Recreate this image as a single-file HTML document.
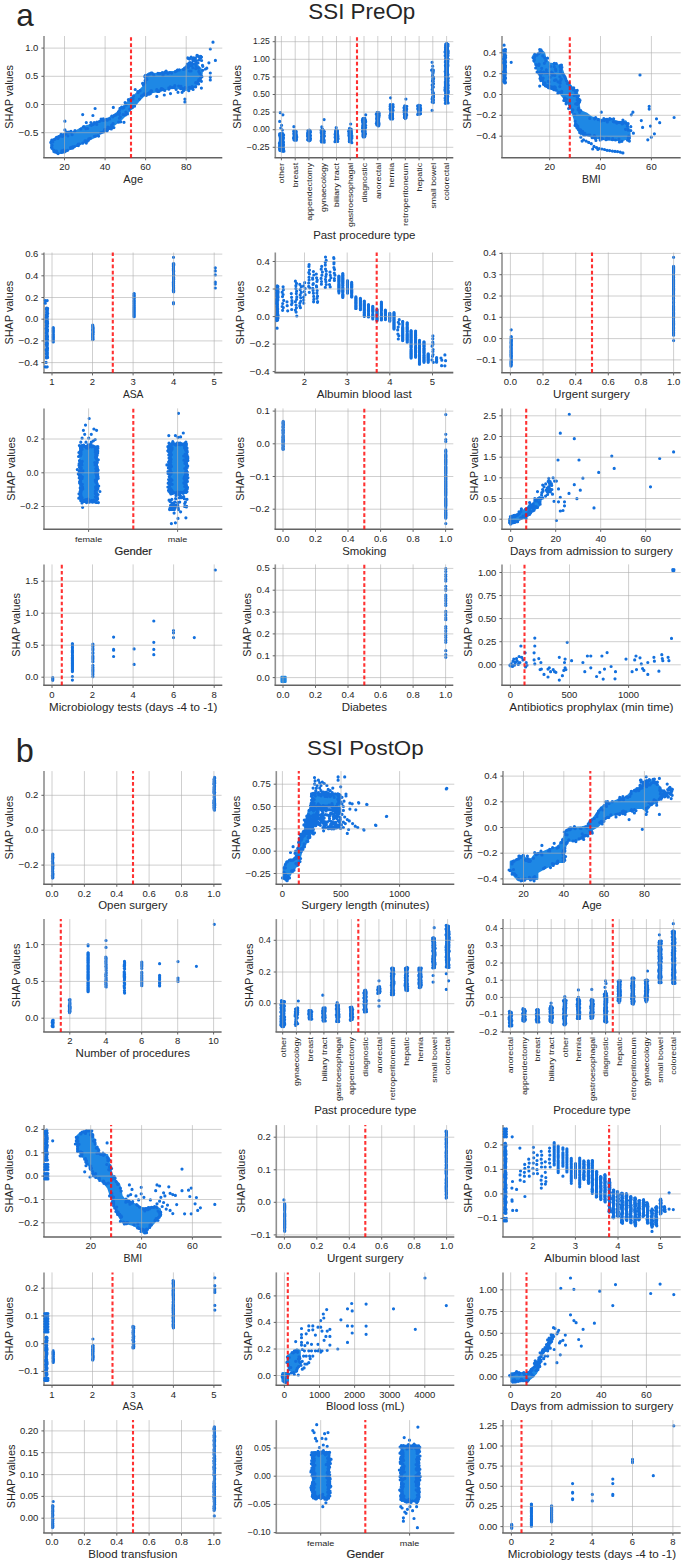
<!DOCTYPE html>
<html><head><meta charset="utf-8"><style>
html,body{margin:0;padding:0;background:#fff;}
body{width:685px;height:1565px;overflow:hidden;font-family:"Liberation Sans", sans-serif;}
svg{display:block;}
</style></head><body>
<svg width="685" height="1565" viewBox="0 0 685 1565" font-family='"Liberation Sans", sans-serif'><path d="M44.0 36.0V157.7" stroke="#8f8f8f" stroke-width="1.6" fill="none"/>
<path d="M43.2 157.7H222.3" stroke="#636363" stroke-width="1.5" fill="none"/>
<path d="M275.3 36.0V157.7" stroke="#8f8f8f" stroke-width="1.6" fill="none"/>
<path d="M274.5 157.7H453.3" stroke="#636363" stroke-width="1.5" fill="none"/>
<path d="M502.0 36.0V157.7" stroke="#8f8f8f" stroke-width="1.6" fill="none"/>
<path d="M501.2 157.7H680.7" stroke="#636363" stroke-width="1.5" fill="none"/>
<path d="M44.0 252.5V372.8" stroke="#8f8f8f" stroke-width="1.6" fill="none"/>
<path d="M43.2 372.8H222.3" stroke="#636363" stroke-width="1.5" fill="none"/>
<path d="M275.3 252.5V372.8" stroke="#8f8f8f" stroke-width="1.6" fill="none"/>
<path d="M274.5 372.8H453.3" stroke="#636363" stroke-width="1.5" fill="none"/>
<path d="M502.0 252.5V372.8" stroke="#8f8f8f" stroke-width="1.6" fill="none"/>
<path d="M501.2 372.8H680.7" stroke="#636363" stroke-width="1.5" fill="none"/>
<path d="M44.0 408.4V529.3" stroke="#8f8f8f" stroke-width="1.6" fill="none"/>
<path d="M43.2 529.3H222.3" stroke="#636363" stroke-width="1.5" fill="none"/>
<path d="M275.3 408.4V529.3" stroke="#8f8f8f" stroke-width="1.6" fill="none"/>
<path d="M274.5 529.3H453.3" stroke="#636363" stroke-width="1.5" fill="none"/>
<path d="M502.0 408.4V529.3" stroke="#8f8f8f" stroke-width="1.6" fill="none"/>
<path d="M501.2 529.3H680.7" stroke="#636363" stroke-width="1.5" fill="none"/>
<path d="M44.0 564.4V685.3" stroke="#8f8f8f" stroke-width="1.6" fill="none"/>
<path d="M43.2 685.3H222.3" stroke="#636363" stroke-width="1.5" fill="none"/>
<path d="M275.3 564.4V685.3" stroke="#8f8f8f" stroke-width="1.6" fill="none"/>
<path d="M274.5 685.3H453.3" stroke="#636363" stroke-width="1.5" fill="none"/>
<path d="M502.0 564.4V685.3" stroke="#8f8f8f" stroke-width="1.6" fill="none"/>
<path d="M501.2 685.3H680.7" stroke="#636363" stroke-width="1.5" fill="none"/>
<path d="M44.0 771.1V884.2" stroke="#8f8f8f" stroke-width="1.6" fill="none"/>
<path d="M43.2 884.2H221.6" stroke="#636363" stroke-width="1.5" fill="none"/>
<path d="M276.3 771.1V884.2" stroke="#8f8f8f" stroke-width="1.6" fill="none"/>
<path d="M275.5 884.2H454.3" stroke="#636363" stroke-width="1.5" fill="none"/>
<path d="M503.0 771.1V884.2" stroke="#8f8f8f" stroke-width="1.6" fill="none"/>
<path d="M502.2 884.2H680.7" stroke="#636363" stroke-width="1.5" fill="none"/>
<path d="M44.0 919.1V1031.9" stroke="#8f8f8f" stroke-width="1.6" fill="none"/>
<path d="M43.2 1031.9H221.6" stroke="#636363" stroke-width="1.5" fill="none"/>
<path d="M276.3 919.1V1031.9" stroke="#8f8f8f" stroke-width="1.6" fill="none"/>
<path d="M275.5 1031.9H454.3" stroke="#636363" stroke-width="1.5" fill="none"/>
<path d="M503.0 919.1V1031.9" stroke="#8f8f8f" stroke-width="1.6" fill="none"/>
<path d="M502.2 1031.9H680.7" stroke="#636363" stroke-width="1.5" fill="none"/>
<path d="M44.0 1125.1V1237.0" stroke="#8f8f8f" stroke-width="1.6" fill="none"/>
<path d="M43.2 1237.0H221.6" stroke="#636363" stroke-width="1.5" fill="none"/>
<path d="M276.3 1125.1V1237.0" stroke="#8f8f8f" stroke-width="1.6" fill="none"/>
<path d="M275.5 1237.0H454.3" stroke="#636363" stroke-width="1.5" fill="none"/>
<path d="M503.0 1125.1V1237.0" stroke="#8f8f8f" stroke-width="1.6" fill="none"/>
<path d="M502.2 1237.0H680.7" stroke="#636363" stroke-width="1.5" fill="none"/>
<path d="M44.0 1272.4V1385.2" stroke="#8f8f8f" stroke-width="1.6" fill="none"/>
<path d="M43.2 1385.2H221.6" stroke="#636363" stroke-width="1.5" fill="none"/>
<path d="M276.3 1272.4V1385.2" stroke="#8f8f8f" stroke-width="1.6" fill="none"/>
<path d="M275.5 1385.2H454.3" stroke="#636363" stroke-width="1.5" fill="none"/>
<path d="M503.0 1272.4V1385.2" stroke="#8f8f8f" stroke-width="1.6" fill="none"/>
<path d="M502.2 1385.2H680.7" stroke="#636363" stroke-width="1.5" fill="none"/>
<path d="M44.0 1420.1V1533.0" stroke="#8f8f8f" stroke-width="1.6" fill="none"/>
<path d="M43.2 1533.0H221.6" stroke="#636363" stroke-width="1.5" fill="none"/>
<path d="M276.3 1420.1V1533.0" stroke="#8f8f8f" stroke-width="1.6" fill="none"/>
<path d="M275.5 1533.0H454.3" stroke="#636363" stroke-width="1.5" fill="none"/>
<path d="M503.0 1420.1V1533.0" stroke="#8f8f8f" stroke-width="1.6" fill="none"/>
<path d="M502.2 1533.0H680.7" stroke="#636363" stroke-width="1.5" fill="none"/>
<path d="M51.4 141.1L55.8 138.5L59.8 135.9L63.7 134.5L70.3 133.2L76.8 131.1L83.4 127.2L90.0 125.3L96.6 123.2L103.1 120.6L109.7 118.0L114.9 114.8L120.2 110.9L124.1 106.4L128.1 102.2L132.0 98.5L136.0 94.3L139.9 90.7L143.3 87.2L145.2 82.0L146.5 75.4L149.1 73.6L157.0 74.1L164.9 72.8L172.8 72.3L179.3 70.7L184.6 68.8L187.2 64.9L191.2 63.6L196.4 64.9L200.4 68.8L201.7 72.8L200.4 78.0L196.4 84.6L191.2 88.6L185.9 89.9L180.6 88.6L175.4 87.2L167.5 88.6L159.6 90.7L153.1 91.7L147.8 93.8L143.9 95.1L139.9 99.1L136.0 103.8L132.0 107.5L128.1 111.7L124.1 116.1L120.2 120.1L114.9 124.0L109.7 128.0L104.4 131.1L99.2 133.8L93.9 137.2L88.7 139.8L83.4 142.4L76.8 145.1L70.3 148.5L65.0 151.6L59.8 152.9L55.8 152.1L52.4 149.0L51.4 145.1ZM533.5 55.7L537.5 54.4L541.4 50.5L544.0 53.1L545.4 59.6L549.3 63.6L557.2 64.9L561.1 67.5L563.8 75.4L567.7 83.3L572.9 88.6L576.9 92.5L578.2 101.7L579.5 110.9L586.1 113.5L591.3 117.5L601.9 120.1L612.4 120.1L618.9 122.7L625.5 121.4L628.1 126.7L629.4 133.2L629.4 137.2L622.9 139.8L612.4 139.8L601.9 138.5L594.0 137.2L586.1 134.5L580.8 133.2L576.9 128.0L574.3 117.5L570.8 106.9L565.1 99.1L559.8 92.5L554.6 88.6L549.3 87.2L545.4 84.6L542.7 80.7L538.8 72.8L536.2 64.9L534.1 61.0ZM80.5 446.6L96.8 446.6L96.8 500.8L80.5 500.8ZM169.9 444.0L186.2 444.0L186.2 492.9L169.9 492.9ZM509.4 518.9L515.1 516.3L525.4 509.4L532.2 505.8L536.9 499.4L539.3 497.3L540.9 498.9L538.8 505.5L532.2 511.3L525.4 516.3L517.8 520.5L511.2 523.1L509.4 522.6ZM281.6 677.0L285.5 677.0L285.5 681.7L281.6 681.7ZM283.9 878.7L283.9 868.2L286.5 861.7L291.8 860.3L295.7 857.7L298.3 849.8L299.6 840.6L302.3 834.1L306.2 827.5L307.5 820.9L308.8 815.7L312.8 815.7L312.8 831.4L310.2 834.1L307.5 840.6L303.6 845.9L301.0 852.5L298.3 863.0L294.4 868.2L290.5 873.5L287.8 878.7L286.0 880.1ZM312.5 794.4L339.4 794.4L339.4 805.4L312.5 805.4ZM309.2 810.4L312.5 805.4L319.7 805.4L317.1 814.4L315.8 823.6L310.5 828.8L305.3 832.8L305.3 823.6ZM510.9 861.7L516.1 860.3L522.7 855.6L526.6 860.3L531.9 859.0L535.8 853.8L542.4 852.5L549.0 849.8L558.2 847.2L563.4 839.3L566.1 831.4L571.3 828.3L581.8 827.5L588.4 826.2L589.7 820.9L593.7 818.3L597.6 813.0L601.5 807.8L606.8 803.8L613.4 802.0L619.9 799.4L626.5 797.3L631.8 792.0L637.0 789.4L642.3 785.5L647.5 781.5L654.1 781.5L658.0 785.5L660.7 789.4L663.3 791.5L662.8 794.1L660.7 797.3L655.4 802.5L650.2 805.2L646.2 810.4L642.3 807.8L637.0 807.8L631.8 810.4L626.5 811.7L618.6 813.0L613.4 814.4L608.1 817.0L604.2 819.6L600.2 823.6L597.6 826.2L592.3 829.3L589.2 833.5L581.8 838.0L573.9 840.6L567.4 840.6L564.0 849.8L564.0 861.7L558.2 861.7L550.3 865.6L545.0 867.7L537.2 872.2L537.2 878.7L526.6 878.7L518.8 880.1L514.8 876.1L512.2 870.9L510.9 868.2ZM76.8 1136.8L80.8 1132.9L86.0 1131.6L90.0 1130.3L92.6 1135.5L95.2 1146.0L99.2 1153.9L107.1 1155.2L108.4 1161.8L111.0 1172.3L113.6 1178.9L116.3 1181.5L118.9 1184.1L120.2 1189.4L121.5 1195.9L125.5 1201.2L133.3 1203.8L138.6 1206.5L143.9 1209.1L147.8 1207.8L154.4 1207.0L159.6 1209.1L160.9 1215.7L157.0 1218.3L153.1 1223.5L147.8 1228.8L143.9 1232.7L141.2 1228.8L133.3 1224.9L122.8 1222.2L118.9 1215.7L114.9 1206.5L112.3 1199.9L108.4 1188.1L104.4 1182.8L99.2 1178.9L95.2 1176.2L91.3 1169.7L87.4 1161.8L82.1 1155.2L78.2 1150.0L76.8 1142.1ZM282.6 1373.2L287.8 1373.2L287.8 1381.1L282.6 1381.1ZM287.8 1356.1L291.8 1353.5L297.0 1349.5L299.6 1350.8L299.6 1358.7L298.3 1366.6L295.7 1371.9L291.8 1371.3L289.1 1367.9L287.8 1362.7ZM511.4 1373.4L518.8 1373.2L527.4 1373.4L531.9 1369.8L535.6 1365.5L537.9 1364.0L539.3 1366.1L535.8 1373.2L531.9 1377.1L527.4 1380.8L518.8 1381.1L511.4 1381.1ZM313.1 1452.8L328.8 1452.8L328.8 1497.5L313.1 1497.5ZM401.9 1446.0L418.2 1446.0L418.2 1500.9L401.9 1500.9Z" fill="#1e88e5" stroke="#1e88e5" stroke-width="2.4" stroke-linejoin="round"/>
<path d="M280.0 134.1L283.1 134.1L283.1 150.7L280.0 150.7ZM279.7 142.0L283.4 142.0L283.4 150.7L279.7 150.7ZM294.0 131.5L296.4 131.5L296.4 139.4L294.0 139.4ZM307.8 130.7L310.1 130.7L310.1 140.2L307.8 140.2ZM321.5 130.2L323.9 130.2L323.9 141.5L321.5 141.5ZM335.3 130.7L337.7 130.7L337.7 141.0L335.3 141.0ZM349.1 128.9L351.4 128.9L351.4 142.1L349.1 142.1ZM362.8 118.3L365.2 118.3L365.2 136.3L362.8 136.3ZM376.7 113.1L378.9 113.1L378.9 125.2L376.7 125.2ZM390.4 105.2L392.8 105.2L392.8 119.2L390.4 119.2ZM404.3 106.5L406.4 106.5L406.4 117.9L404.3 117.9ZM418.1 106.0L420.2 106.0L420.2 113.9L418.1 113.9ZM445.5 44.0L447.8 44.0L447.8 102.6L445.5 102.6ZM504.1 50.0L505.2 50.0L505.2 82.4L504.1 82.4ZM46.6 308.9L47.2 308.9L47.2 357.5L46.6 357.5ZM53.0 328.3L53.4 328.3L53.4 341.8L53.0 341.8ZM92.7 325.7L93.1 325.7L93.1 339.7L92.7 339.7ZM133.9 293.6L134.3 293.6L134.3 316.8L133.9 316.8ZM173.3 264.2L173.7 264.2L173.7 291.8L173.3 291.8ZM277.1 286.3L277.6 286.3L277.6 320.2L277.1 320.2ZM338.7 276.5L339.1 276.5L339.1 293.2L338.7 293.2ZM342.6 273.9L343.0 273.9L343.0 297.1L342.6 297.1ZM347.3 280.5L347.7 280.5L347.7 293.2L347.3 293.2ZM351.5 283.1L351.9 283.1L351.9 297.1L351.5 297.1ZM355.7 297.6L356.1 297.6L356.1 308.9L355.7 308.9ZM360.2 298.9L360.6 298.9L360.6 308.9L360.2 308.9ZM364.1 301.5L364.5 301.5L364.5 316.8L364.1 316.8ZM368.3 305.4L368.7 305.4L368.7 316.8L368.3 316.8ZM372.6 306.8L373.0 306.8L373.0 318.1L372.6 318.1ZM376.8 309.4L377.2 309.4L377.2 320.7L376.8 320.7ZM381.2 302.8L381.6 302.8L381.6 319.4L381.2 319.4ZM385.2 310.7L385.6 310.7L385.6 319.4L385.2 319.4ZM389.6 313.3L390.0 313.3L390.0 320.7L389.6 320.7ZM393.8 313.3L394.2 313.3L394.2 328.6L393.8 328.6ZM402.5 321.2L402.9 321.2L402.9 340.5L402.5 340.5ZM407.0 323.0L407.4 323.0L407.4 341.8L407.0 341.8ZM410.9 330.4L411.3 330.4L411.3 357.5L410.9 357.5ZM415.4 331.7L415.8 331.7L415.8 357.5L415.4 357.5ZM419.3 340.9L419.7 340.9L419.7 364.1L419.3 364.1ZM423.8 342.2L424.2 342.2L424.2 361.5L423.8 361.5ZM428.0 354.1L428.4 354.1L428.4 361.5L428.0 361.5ZM436.4 358.0L436.8 358.0L436.8 361.5L436.4 361.5ZM511.0 337.0L511.4 337.0L511.4 365.4L511.0 365.4ZM673.4 266.8L673.8 266.8L673.8 334.4L673.4 334.4ZM282.9 422.0L283.3 422.0L283.3 449.2L282.9 449.2ZM445.6 449.6L446.0 449.6L446.0 517.5L445.6 517.5ZM52.5 677.9L52.9 677.9L52.9 679.5L52.5 679.5ZM72.2 643.7L72.6 643.7L72.6 670.9L72.2 670.9ZM52.5 854.7L52.9 854.7L52.9 877.9L52.5 877.9ZM214.1 777.9L214.5 777.9L214.5 809.5L214.1 809.5ZM52.5 1020.5L52.9 1020.5L52.9 1026.6L52.5 1026.6ZM87.9 952.7L88.3 952.7L88.3 990.9L87.9 990.9ZM281.3 1001.3L284.1 1001.3L284.1 1025.9L281.3 1025.9ZM309.0 1010.5L311.4 1010.5L311.4 1019.3L309.0 1019.3ZM323.0 1007.9L324.9 1007.9L324.9 1020.6L323.0 1020.6ZM336.8 1004.8L338.6 1004.8L338.6 1021.9L336.8 1021.9ZM350.5 1007.9L352.3 1007.9L352.3 1019.8L350.5 1019.8ZM364.2 990.8L366.1 990.8L366.1 1011.4L364.2 1011.4ZM378.0 986.9L379.8 986.9L379.8 993.0L378.0 993.0ZM391.7 968.0L393.6 968.0L393.6 994.3L391.7 994.3ZM405.5 968.0L407.3 968.0L407.3 990.4L405.5 990.4ZM419.2 968.5L421.1 968.5L421.1 987.2L419.2 987.2ZM433.0 938.3L434.8 938.3L434.8 968.0L433.0 968.0ZM446.4 925.9L448.8 925.9L448.8 966.7L446.4 966.7ZM509.5 1011.9L511.3 1011.9L511.3 1025.9L509.5 1025.9ZM523.1 1009.2L524.9 1009.2L524.9 1020.6L523.1 1020.6ZM536.7 1010.0L538.5 1010.0L538.5 1021.4L536.7 1021.4ZM550.3 1006.6L552.1 1006.6L552.1 1021.9L550.3 1021.9ZM563.9 1001.3L565.7 1001.3L565.7 1024.5L563.9 1024.5ZM577.5 999.5L579.4 999.5L579.4 1018.0L577.5 1018.0ZM591.1 1000.0L593.0 1000.0L593.0 1018.0L591.1 1018.0ZM604.7 993.5L606.6 993.5L606.6 1021.9L604.7 1021.9ZM618.3 981.1L620.2 981.1L620.2 1000.9L618.3 1000.9ZM631.9 977.7L633.8 977.7L633.8 1003.5L631.9 1003.5ZM645.5 980.3L647.4 980.3L647.4 1000.4L645.5 1000.4ZM659.1 940.9L661.0 940.9L661.0 982.0L659.1 982.0ZM672.7 931.7L674.6 931.7L674.6 983.8L672.7 983.8ZM45.8 1130.6L46.9 1130.6L46.9 1159.6L45.8 1159.6ZM284.5 1203.4L284.9 1203.4L284.9 1230.5L284.5 1230.5ZM446.1 1131.1L446.5 1131.1L446.5 1197.7L446.1 1197.7ZM505.1 1143.0L505.6 1143.0L505.6 1213.5L505.1 1213.5ZM583.7 1161.4L584.1 1161.4L584.1 1179.3L583.7 1179.3ZM588.2 1161.4L588.6 1161.4L588.6 1183.2L588.2 1183.2ZM592.1 1161.4L592.5 1161.4L592.5 1193.7L592.1 1193.7ZM596.3 1171.9L596.7 1171.9L596.7 1196.4L596.3 1196.4ZM600.6 1177.1L601.0 1177.1L601.0 1199.0L600.6 1199.0ZM604.8 1174.5L605.2 1174.5L605.2 1201.6L604.8 1201.6ZM609.2 1179.8L609.6 1179.8L609.6 1212.1L609.2 1212.1ZM613.2 1190.3L613.6 1190.3L613.6 1217.4L613.2 1217.4ZM617.6 1191.6L618.0 1191.6L618.0 1216.1L617.6 1216.1ZM621.8 1192.9L622.2 1192.9L622.2 1222.7L621.8 1222.7ZM626.3 1194.2L626.7 1194.2L626.7 1220.0L626.3 1220.0ZM630.5 1196.8L630.9 1196.8L630.9 1222.7L630.5 1222.7ZM635.0 1198.1L635.4 1198.1L635.4 1225.3L635.0 1225.3ZM638.9 1200.8L639.3 1200.8L639.3 1220.0L638.9 1220.0ZM643.4 1199.5L643.8 1199.5L643.8 1216.1L643.4 1216.1ZM647.3 1203.4L647.7 1203.4L647.7 1222.7L647.3 1222.7ZM651.8 1208.7L652.2 1208.7L652.2 1226.6L651.8 1226.6ZM656.0 1207.3L656.4 1207.3L656.4 1225.3L656.0 1225.3ZM660.5 1200.8L660.9 1200.8L660.9 1213.5L660.5 1213.5ZM664.4 1207.3L664.8 1207.3L664.8 1210.8L664.4 1210.8ZM46.1 1337.3L46.6 1337.3L46.6 1374.9L46.1 1374.9ZM53.0 1350.4L53.4 1350.4L53.4 1361.8L53.0 1361.8ZM92.7 1345.7L93.1 1345.7L93.1 1359.7L92.7 1359.7ZM133.1 1326.8L133.5 1326.8L133.5 1347.3L133.1 1347.3ZM173.1 1280.8L173.5 1280.8L173.5 1328.1L173.1 1328.1ZM52.5 1506.3L52.9 1506.3L52.9 1526.9L52.5 1526.9ZM214.1 1427.5L214.5 1427.5L214.5 1509.8L214.1 1509.8ZM511.5 1525.2L511.9 1525.2L511.9 1527.6L511.5 1527.6ZM531.2 1504.2L531.6 1504.2L531.6 1525.5L531.2 1525.5ZM551.4 1512.9L551.8 1512.9L551.8 1520.3L551.4 1520.3Z" fill="#1270de" stroke="#1270de" stroke-width="2.4" stroke-linejoin="round"/>
<path d="M163.9 90.0h0M79.4 144.0h0M118.6 122.2h0M126.2 105.0h0M143.3 84.8h0M86.8 141.5h0M51.8 140.0h0M104.6 129.7h0M113.9 127.6h0M195.8 65.6h0M145.1 80.7h0M140.0 90.7h0M133.6 95.9h0M187.8 64.4h0M201.9 76.8h0M188.8 90.7h0M50.8 142.4h0M111.6 126.7h0M164.8 90.5h0M52.1 145.3h0M123.4 107.3h0M106.4 119.3h0M168.8 89.2h0M65.9 133.5h0M62.4 136.4h0M199.7 80.0h0M195.3 63.6h0M72.6 148.1h0M160.9 90.0h0M199.1 79.8h0M199.8 73.4h0M130.8 99.8h0M54.4 139.5h0M118.5 113.0h0M139.5 99.1h0M119.4 110.5h0M163.0 75.2h0M52.3 140.2h0M100.6 132.8h0M103.3 118.9h0M138.1 92.6h0M86.3 143.1h0M200.4 78.9h0M98.1 135.5h0M156.8 89.7h0M127.5 113.9h0M83.4 126.8h0M192.1 86.7h0M200.7 77.4h0M88.4 140.3h0M159.2 73.6h0M172.8 87.6h0M72.1 134.7h0M169.9 72.6h0M144.7 76.4h0M101.1 119.2h0M107.0 130.8h0M166.1 71.0h0M52.0 148.2h0M176.2 89.5h0M170.3 87.4h0M156.9 90.8h0M144.2 93.8h0M103.4 119.4h0M187.8 66.7h0M130.5 100.5h0M175.3 71.7h0M83.8 126.6h0M54.0 150.3h0M123.9 107.4h0M146.2 95.4h0M142.6 83.4h0M87.4 140.9h0M149.0 94.2h0M96.9 122.0h0M95.8 136.1h0M64.0 150.1h0M78.4 145.6h0M184.3 88.7h0M101.2 120.2h0M119.5 113.1h0M70.7 148.5h0M189.4 87.4h0M112.9 116.8h0M82.7 143.2h0M157.1 90.1h0M182.4 88.7h0M165.0 72.2h0M177.0 70.7h0M128.4 99.7h0M63.8 135.4h0M85.0 140.9h0M195.5 63.9h0M191.8 88.1h0M147.8 75.6h0M125.5 114.9h0M58.6 136.7h0M163.4 73.6h0M61.1 134.3h0M93.4 124.3h0M56.5 151.0h0M150.9 90.8h0M184.6 68.0h0M195.7 82.7h0M88.8 138.8h0M152.1 73.1h0M174.3 87.6h0M141.5 95.9h0M157.9 73.3h0M198.8 80.3h0M120.3 117.0h0M77.2 145.5h0M103.6 120.5h0M67.5 150.3h0M54.9 139.1h0M123.1 114.5h0M106.7 129.7h0M99.3 121.5h0M179.3 69.9h0M107.9 127.1h0M56.5 137.3h0M162.6 89.1h0M113.1 123.7h0M198.6 80.7h0M132.3 107.7h0M125.1 102.6h0M118.4 111.9h0M160.1 73.5h0M111.8 116.0h0M153.8 75.2h0M64.2 152.1h0M180.9 88.7h0M151.0 73.0h0M137.8 91.5h0M61.6 152.5h0M188.1 64.5h0M51.5 147.4h0M198.8 79.6h0M198.2 82.0h0M78.3 144.0h0M125.9 112.1h0M178.7 86.1h0M183.5 69.4h0M85.7 140.8h0M177.7 70.0h0M70.5 147.6h0M75.0 130.5h0M184.8 69.0h0M198.2 81.0h0M61.9 150.9h0M133.0 98.3h0M109.7 128.5h0M143.7 94.7h0M134.5 106.2h0M161.3 88.7h0M54.9 151.9h0M149.9 73.9h0M171.7 73.1h0M120.0 108.4h0M68.9 132.1h0M121.3 107.6h0M74.5 146.6h0M98.6 136.1h0M91.4 125.3h0M170.3 86.8h0M198.6 68.2h0M174.3 87.6h0M151.4 92.0h0M145.1 82.8h0M58.1 153.6h0M195.9 64.4h0M162.0 89.1h0M157.4 91.3h0M114.3 115.5h0M70.8 132.2h0M177.4 70.1h0M119.5 118.2h0M107.4 130.3h0M129.8 109.2h0M90.9 122.5h0M73.8 147.1h0M111.3 129.0h0M87.2 141.4h0M197.9 83.4h0M72.6 146.9h0M67.9 135.8h0M60.9 135.4h0M58.0 138.5h0M132.9 99.0h0M130.9 98.5h0M115.3 115.2h0M184.9 87.9h0M63.3 134.8h0M174.8 85.7h0M109.6 118.9h0M144.3 94.6h0M59.1 136.8h0M146.5 79.7h0M65.0 151.4h0M193.0 87.3h0M107.9 128.3h0M150.9 92.2h0M168.9 87.8h0M116.2 114.8h0M183.5 90.7h0M64.5 134.6h0M112.3 127.0h0M57.0 152.7h0M94.4 136.3h0M66.8 132.1h0M151.8 73.0h0M145.8 78.1h0M90.5 125.0h0M162.7 89.1h0M111.7 125.2h0M146.8 79.4h0M90.3 138.3h0M111.9 126.9h0M94.2 122.5h0M120.7 121.8h0M85.4 141.8h0M119.1 114.3h0M181.3 88.4h0M159.0 91.4h0M169.1 87.9h0M85.9 128.7h0M150.3 93.7h0M158.3 91.1h0M103.5 131.9h0M110.9 127.2h0M145.5 75.3h0M131.7 106.7h0M88.9 139.0h0M78.6 144.7h0M107.3 120.2h0M61.8 135.9h0M151.5 90.8h0M121.8 107.2h0M185.2 87.7h0M63.9 150.5h0M166.5 72.6h0M132.7 97.5h0M191.6 63.2h0M149.4 92.5h0M87.6 128.5h0M168.0 73.4h0M96.7 124.4h0M149.2 93.1h0M101.2 132.7h0M164.8 72.7h0M162.3 72.7h0M195.7 86.8h0M122.9 108.1h0M132.3 97.8h0M147.8 75.2h0M192.7 64.0h0M80.8 129.0h0M124.8 115.0h0M181.0 86.3h0M143.6 84.0h0M187.7 57.9h0M200.5 57.7h0M196.1 60.5h0M188.2 58.4h0M195.4 58.2h0M193.8 57.8h0M195.4 58.1h0M197.9 55.9h0M197.0 55.4h0M201.6 60.5h0M189.5 59.1h0M199.0 59.9h0M193.2 60.8h0M198.5 56.6h0M200.1 56.6h0M201.5 57.0h0M191.1 57.2h0M193.8 60.5h0M200.8 57.7h0M200.9 57.3h0M192.6 59.6h0M200.8 56.3h0M187.7 64.9h0M197.8 67.8h0M198.8 71.4h0M191.0 71.0h0M196.8 62.7h0M186.5 67.1h0M192.8 67.8h0M195.8 68.7h0M190.2 65.4h0M191.8 65.3h0M196.3 62.3h0M196.0 62.6h0M188.5 67.3h0M198.0 63.0h0M187.3 64.1h0M202.5 65.3h0M189.4 62.9h0M190.2 62.6h0M189.3 70.8h0M202.8 66.3h0M95.1 108.5h0M82.7 114.6h0M92.9 115.5h0M86.3 122.6h0M113.3 107.4h0M64.9 121.2h0M64.9 129.9h0M71.0 131.4h0M74.7 131.4h0M124.0 122.3h0M135.2 89.5h0M52.8 142.0h0M53.9 151.5h0M213.0 42.2h0M210.3 49.0h0M215.4 60.4h0M210.3 73.0h0M210.3 77.2h0M210.3 80.0h0M208.9 62.8h0M206.8 68.2h0M201.4 88.1h0M201.4 81.3h0M193.1 89.5h0M184.9 101.9h0M184.9 99.1h0M182.1 92.3h0M164.3 95.0h0M156.8 96.4h0M147.8 93.6h0M170.5 93.6h0M178.0 92.3h0M198.6 84.0h0M201.4 75.8h0M202.7 70.3h0M205.5 69.0h0M283.2 137.0h0M280.8 146.2h0M280.7 133.5h0M283.4 137.8h0M281.6 150.8h0M279.9 149.7h0M279.7 144.9h0M283.6 135.0h0M281.9 139.1h0M279.7 133.8h0M281.6 137.3h0M281.6 133.8h0M281.3 135.6h0M283.4 144.9h0M283.4 135.1h0M280.0 136.2h0M280.1 149.8h0M281.2 139.4h0M283.0 139.4h0M282.1 134.9h0M282.5 147.8h0M281.9 145.6h0M280.4 143.3h0M282.9 144.6h0M279.5 135.1h0M282.4 138.1h0M280.3 143.9h0M281.4 150.7h0M283.5 148.2h0M281.7 145.0h0M279.7 142.8h0M281.3 133.6h0M282.2 149.5h0M279.7 134.5h0M280.5 135.7h0M279.6 145.9h0M281.7 148.1h0M281.1 147.6h0M281.6 141.6h0M280.7 136.5h0M282.2 134.0h0M280.2 148.8h0M283.3 151.1h0M283.5 137.8h0M281.5 149.1h0M281.4 140.6h0M283.1 139.0h0M280.7 142.5h0M282.8 133.5h0M280.7 141.4h0M282.5 136.9h0M280.9 146.3h0M282.0 142.5h0M283.3 149.1h0M282.3 141.8h0M280.6 149.5h0M281.1 146.8h0M281.4 145.1h0M283.5 144.8h0M280.4 141.9h0M282.6 143.9h0M280.7 147.6h0M283.4 142.2h0M281.1 148.1h0M281.6 151.1h0M283.3 151.3h0M282.4 150.4h0M279.7 149.5h0M279.9 143.0h0M283.9 151.2h0M279.4 143.3h0M280.6 150.2h0M283.7 150.3h0M279.3 147.6h0M280.0 146.6h0M280.2 143.3h0M279.6 146.6h0M281.4 144.2h0M282.0 142.5h0M280.7 142.5h0M279.7 149.5h0M283.0 150.7h0M283.0 142.7h0M281.9 141.3h0M279.9 143.9h0M281.8 142.6h0M282.2 143.1h0M281.2 147.2h0M283.3 145.6h0M281.1 145.6h0M281.6 143.3h0M280.3 112.7h0M282.9 114.8h0M279.7 121.4h0M281.6 125.3h0M280.8 128.0h0M282.4 130.1h0M295.3 131.8h0M294.1 136.1h0M294.7 138.0h0M294.5 137.7h0M295.5 133.1h0M296.3 140.2h0M296.7 137.6h0M294.6 134.7h0M295.4 134.6h0M293.5 138.1h0M294.8 132.4h0M296.7 136.8h0M293.9 137.5h0M296.4 135.6h0M295.7 139.0h0M294.5 135.2h0M296.1 135.1h0M294.5 133.4h0M296.5 139.5h0M293.8 133.7h0M293.9 137.3h0M296.0 134.6h0M295.0 139.6h0M294.0 139.7h0M295.2 131.0h0M294.5 140.2h0M295.3 136.5h0M296.0 131.4h0M296.4 135.4h0M293.7 131.2h0M293.9 126.7h0M308.6 136.5h0M309.2 140.8h0M309.2 135.0h0M310.5 138.5h0M308.4 131.0h0M308.6 139.6h0M309.3 136.4h0M310.3 139.8h0M309.6 138.7h0M308.9 139.6h0M310.0 130.5h0M308.9 137.9h0M310.5 132.1h0M308.2 132.9h0M307.7 133.5h0M310.1 136.5h0M308.3 136.9h0M310.1 140.3h0M309.3 130.0h0M309.0 132.0h0M307.6 133.9h0M309.9 139.0h0M307.5 136.0h0M310.5 135.6h0M310.2 138.4h0M308.3 137.2h0M307.7 133.1h0M310.2 130.9h0M308.9 135.0h0M307.7 139.7h0M308.9 136.6h0M308.1 130.5h0M308.6 134.8h0M323.5 137.7h0M321.5 141.2h0M322.3 139.8h0M324.4 131.5h0M322.9 135.6h0M322.8 135.7h0M324.2 142.2h0M322.0 130.5h0M324.4 136.0h0M324.1 141.2h0M322.3 134.5h0M322.1 132.8h0M321.5 136.6h0M324.1 133.5h0M321.7 141.4h0M321.1 130.5h0M324.0 132.1h0M323.1 130.5h0M323.3 138.6h0M323.5 133.2h0M321.2 141.0h0M321.3 141.0h0M322.7 141.5h0M321.2 132.7h0M322.7 129.4h0M323.5 134.4h0M323.3 141.9h0M323.1 139.3h0M321.2 130.1h0M321.8 138.5h0M324.1 141.3h0M321.5 141.9h0M322.8 138.7h0M321.2 140.6h0M324.2 140.3h0M321.6 134.0h0M322.4 130.7h0M324.1 119.6h0M321.8 126.9h0M337.0 136.4h0M338.0 138.5h0M335.3 141.1h0M338.1 138.7h0M337.0 134.0h0M337.5 130.8h0M336.9 138.3h0M337.7 141.5h0M335.9 130.1h0M337.2 139.1h0M335.7 132.0h0M336.5 135.4h0M337.1 136.1h0M335.5 137.2h0M335.0 141.7h0M337.5 138.1h0M337.5 134.6h0M337.0 138.4h0M335.9 135.5h0M337.0 134.8h0M335.1 134.3h0M337.0 135.8h0M336.7 133.2h0M336.9 132.8h0M336.3 131.7h0M335.6 135.1h0M337.3 133.4h0M336.4 139.9h0M337.3 140.0h0M336.0 134.0h0M335.1 137.3h0M336.6 140.6h0M336.9 134.2h0M337.9 136.5h0M337.8 135.2h0M336.2 127.7h0M350.0 128.9h0M349.5 139.5h0M351.3 131.9h0M351.1 138.4h0M349.0 133.7h0M349.6 132.8h0M351.3 135.3h0M351.9 135.9h0M350.6 138.3h0M351.5 137.5h0M351.9 138.1h0M351.1 133.7h0M350.7 138.1h0M349.3 133.2h0M349.8 137.1h0M350.7 134.9h0M351.7 136.4h0M349.6 128.3h0M349.9 135.4h0M348.6 131.3h0M350.9 133.8h0M350.1 129.1h0M351.3 137.8h0M349.4 141.3h0M350.8 133.3h0M350.8 129.6h0M350.1 137.2h0M349.2 129.9h0M349.9 141.3h0M351.1 129.9h0M349.2 133.4h0M348.9 135.4h0M350.1 129.8h0M349.4 132.8h0M351.3 132.1h0M351.3 138.6h0M351.8 142.7h0M351.4 133.4h0M350.8 139.8h0M349.2 130.1h0M351.3 136.6h0M350.7 124.0h0M364.2 131.8h0M362.9 132.1h0M362.5 131.2h0M365.5 133.8h0M363.5 123.4h0M363.0 130.7h0M362.7 127.7h0M364.5 124.1h0M363.9 123.9h0M362.4 120.6h0M364.8 127.1h0M363.2 124.7h0M365.0 125.8h0M364.0 134.2h0M364.1 130.9h0M363.9 130.8h0M364.6 136.8h0M365.7 121.8h0M365.0 127.5h0M362.6 119.4h0M364.0 125.2h0M363.1 136.1h0M362.7 119.2h0M363.0 132.3h0M363.2 134.5h0M365.6 127.5h0M364.9 133.1h0M365.2 126.2h0M364.7 124.4h0M363.4 127.4h0M363.7 121.4h0M363.8 123.6h0M363.3 123.5h0M363.8 136.9h0M364.9 124.1h0M362.6 122.0h0M363.3 135.9h0M364.0 120.3h0M364.6 136.4h0M364.5 134.2h0M364.8 130.2h0M362.7 125.9h0M363.0 121.4h0M363.4 119.6h0M363.3 119.6h0M364.9 124.4h0M365.7 125.5h0M364.6 135.6h0M362.5 128.0h0M363.3 136.9h0M365.0 131.6h0M365.5 120.4h0M365.7 114.8h0M363.0 119.6h0M377.9 120.5h0M377.6 117.1h0M377.1 117.2h0M377.9 121.0h0M376.9 124.2h0M378.9 117.0h0M378.8 114.9h0M377.2 112.3h0M376.3 114.2h0M379.0 124.0h0M377.2 120.9h0M378.3 125.9h0M378.9 113.2h0M378.7 117.3h0M378.9 123.2h0M377.8 121.4h0M378.9 113.2h0M377.7 117.8h0M377.1 121.1h0M377.7 121.8h0M377.3 118.5h0M378.6 114.9h0M378.8 125.6h0M376.7 118.7h0M376.8 122.2h0M377.4 119.6h0M377.7 113.4h0M379.2 115.5h0M379.2 113.2h0M379.2 114.9h0M378.5 115.0h0M378.3 118.0h0M377.1 116.7h0M377.4 117.3h0M376.3 123.5h0M378.8 112.6h0M377.1 113.7h0M376.5 123.4h0M392.1 109.3h0M392.4 109.4h0M392.5 115.7h0M390.3 104.5h0M392.0 108.0h0M392.7 118.4h0M390.0 117.7h0M390.5 114.2h0M390.8 113.1h0M391.4 107.9h0M390.5 118.1h0M391.7 116.3h0M391.0 112.4h0M392.1 106.9h0M391.7 107.8h0M392.2 110.3h0M390.7 109.6h0M392.3 105.4h0M392.4 110.7h0M392.3 111.4h0M390.1 108.9h0M393.1 110.4h0M391.8 109.6h0M390.8 110.3h0M391.3 114.1h0M391.6 112.2h0M391.6 107.5h0M390.7 116.8h0M390.8 112.4h0M391.1 111.6h0M392.5 115.5h0M391.4 116.1h0M390.0 117.6h0M391.4 117.1h0M390.6 114.8h0M389.9 115.7h0M393.2 106.9h0M390.9 115.3h0M391.7 108.4h0M391.1 108.4h0M390.1 106.3h0M392.9 110.6h0M393.0 104.7h0M390.6 97.8h0M405.3 108.1h0M406.2 111.1h0M405.2 110.6h0M405.3 107.9h0M405.3 114.3h0M405.2 115.9h0M405.0 115.6h0M404.3 114.5h0M404.7 105.9h0M404.6 108.7h0M404.6 112.4h0M406.2 114.8h0M404.1 110.7h0M404.4 111.5h0M405.4 116.6h0M404.8 106.0h0M404.5 109.2h0M404.9 109.5h0M405.3 118.6h0M405.9 108.7h0M406.8 106.3h0M406.4 111.1h0M405.1 114.1h0M405.2 107.7h0M405.1 116.6h0M404.5 108.3h0M406.7 114.9h0M404.0 107.8h0M404.4 117.2h0M405.8 108.3h0M405.6 115.2h0M404.6 116.6h0M406.7 109.0h0M405.1 106.9h0M405.6 113.3h0M404.1 112.2h0M405.9 99.1h0M420.5 113.7h0M418.6 106.2h0M417.8 109.0h0M420.2 113.7h0M419.6 114.2h0M418.3 113.8h0M419.3 113.1h0M418.5 107.4h0M420.4 105.5h0M418.6 109.5h0M418.2 105.8h0M417.7 114.4h0M418.6 105.3h0M420.6 108.3h0M418.2 107.1h0M419.0 105.3h0M420.6 110.0h0M417.6 105.9h0M418.5 113.8h0M420.1 111.8h0M417.8 108.7h0M420.4 113.2h0M420.1 112.8h0M418.0 108.3h0M419.4 113.3h0M419.3 114.1h0M419.7 111.1h0M418.5 108.6h0M418.7 113.8h0M433.4 77.1h0M432.7 78.9h0M432.7 74.9h0M432.6 99.7h0M432.1 99.1h0M432.5 81.2h0M432.6 92.5h0M432.3 85.6h0M433.3 78.5h0M432.8 80.8h0M433.0 101.7h0M432.5 80.5h0M432.7 88.6h0M433.3 101.1h0M432.8 79.0h0M433.0 96.4h0M432.8 72.8h0M433.0 93.9h0M433.5 96.4h0M432.5 97.4h0M432.9 102.1h0M433.2 93.1h0M432.2 102.1h0M433.6 78.4h0M432.9 86.7h0M432.5 76.2h0M433.3 71.8h0M433.4 83.9h0M433.1 93.4h0M433.5 95.4h0M432.2 69.5h0M432.9 101.0h0M433.2 77.3h0M433.5 78.9h0M433.1 97.2h0M433.0 99.3h0M432.7 94.0h0M433.0 80.2h0M433.0 84.7h0M433.5 97.3h0M433.4 81.1h0M433.2 96.3h0M433.5 95.5h0M432.2 84.9h0M433.3 99.4h0M432.8 82.0h0M433.3 94.4h0M432.6 90.7h0M432.8 80.2h0M433.4 87.0h0M432.2 89.5h0M432.6 87.2h0M432.9 72.7h0M433.4 102.6h0M432.5 101.8h0M433.4 70.2h0M432.5 101.0h0M432.6 87.0h0M433.0 73.2h0M433.1 96.8h0M433.5 83.6h0M433.5 93.2h0M432.5 97.0h0M433.3 87.2h0M433.1 70.6h0M432.7 96.9h0M433.3 92.5h0M433.5 99.9h0M432.8 78.1h0M433.5 95.6h0M432.1 62.3h0M432.1 110.4h0M432.7 66.2h0M431.6 70.2h0M446.1 50.9h0M447.4 53.2h0M447.7 89.2h0M447.2 61.6h0M445.9 78.5h0M447.1 73.1h0M447.9 52.0h0M445.3 88.6h0M446.6 87.9h0M445.0 51.9h0M447.8 58.8h0M447.6 91.4h0M445.1 98.2h0M447.5 95.6h0M447.3 73.4h0M445.4 65.3h0M446.7 70.0h0M447.3 53.8h0M446.1 73.1h0M446.7 57.1h0M448.2 52.9h0M447.1 66.1h0M446.7 47.0h0M445.2 71.5h0M445.4 85.1h0M447.8 82.4h0M447.5 102.0h0M447.8 96.6h0M446.9 81.4h0M446.9 97.3h0M446.7 70.0h0M447.4 91.3h0M446.1 60.3h0M446.6 74.9h0M446.5 102.2h0M447.2 79.3h0M445.7 73.7h0M445.0 90.6h0M445.3 62.0h0M445.6 93.3h0M447.8 44.3h0M447.4 57.5h0M447.5 53.9h0M446.5 58.7h0M445.3 100.2h0M446.5 44.6h0M447.9 61.2h0M446.7 77.8h0M447.1 85.6h0M446.2 89.8h0M445.5 66.3h0M447.1 56.4h0M446.6 94.5h0M446.1 50.5h0M445.8 47.1h0M447.3 57.1h0M446.0 72.9h0M446.9 100.0h0M445.8 87.1h0M447.5 77.2h0M446.2 74.6h0M446.6 85.0h0M448.1 80.9h0M447.4 63.4h0M447.4 48.8h0M446.1 55.3h0M447.8 90.4h0M446.3 81.4h0M448.3 91.2h0M448.0 45.9h0M447.2 97.5h0M447.8 66.2h0M446.8 99.0h0M447.4 79.0h0M445.4 76.2h0M448.3 92.5h0M447.7 80.9h0M445.4 83.8h0M445.8 52.7h0M446.9 79.6h0M447.5 64.7h0M445.5 47.7h0M448.2 51.2h0M446.1 72.1h0M448.3 59.0h0M447.5 89.3h0M446.6 50.6h0M446.2 44.0h0M445.3 103.3h0M445.3 62.0h0M447.1 73.9h0M447.6 55.8h0M448.0 55.8h0M446.2 67.4h0M448.1 90.8h0M446.0 45.5h0M448.1 93.6h0M448.1 102.9h0M445.5 76.9h0M447.9 64.9h0M447.3 57.3h0M447.3 54.2h0M447.8 62.7h0M446.8 94.5h0M446.7 43.4h0M446.2 90.5h0M447.9 83.4h0M448.0 44.3h0M445.5 47.4h0M447.6 87.5h0M445.9 83.8h0M445.6 62.1h0M445.6 95.1h0M446.9 55.8h0M445.9 68.9h0M445.8 50.1h0M445.3 82.1h0M446.1 48.4h0M447.6 54.0h0M445.0 89.4h0M446.6 73.3h0M447.0 83.1h0M445.1 87.4h0M445.9 79.7h0M448.0 55.1h0M448.3 85.3h0M447.8 50.2h0M445.5 59.4h0M447.5 70.2h0M446.5 50.1h0M445.5 49.6h0M446.6 82.5h0M448.1 87.9h0M447.9 65.5h0M446.3 66.7h0M445.2 55.7h0M448.0 74.6h0M448.3 78.2h0M446.7 99.4h0M445.7 45.6h0M446.8 97.9h0M447.3 102.9h0M505.5 65.6h0M504.2 61.2h0M505.6 57.6h0M503.7 59.3h0M505.1 50.9h0M504.2 57.9h0M504.5 81.6h0M504.9 49.5h0M503.7 74.0h0M504.1 76.0h0M503.8 63.0h0M505.1 69.5h0M504.1 56.7h0M504.6 71.9h0M504.3 73.3h0M504.1 74.2h0M505.5 65.9h0M504.6 82.2h0M504.9 78.7h0M505.0 68.7h0M505.3 72.4h0M504.1 58.6h0M503.8 81.3h0M504.6 71.2h0M503.9 79.6h0M503.6 59.0h0M505.5 82.6h0M504.9 52.8h0M504.5 67.3h0M503.9 53.0h0M505.2 55.7h0M504.7 75.2h0M504.0 51.5h0M505.6 62.2h0M505.6 55.7h0M505.5 78.1h0M505.3 52.0h0M504.7 60.7h0M504.2 78.3h0M504.9 72.6h0M503.9 73.1h0M504.9 82.9h0M503.7 50.0h0M503.6 71.8h0M505.1 74.5h0M504.3 74.7h0M505.0 73.5h0M505.2 51.7h0M505.3 52.1h0M504.9 75.5h0M505.3 70.0h0M505.0 58.2h0M505.5 49.5h0M505.4 67.4h0M503.7 52.3h0M504.2 74.7h0M504.4 60.8h0M504.1 76.7h0M504.0 52.5h0M505.4 66.0h0M503.7 52.6h0M504.0 75.7h0M505.2 68.3h0M504.1 57.2h0M504.1 82.0h0M505.6 72.4h0M505.2 60.7h0M504.5 78.3h0M503.9 62.1h0M504.1 45.2h0M511.2 62.3h0M576.3 103.9h0M533.9 60.8h0M566.1 103.8h0M547.5 58.2h0M577.8 126.2h0M604.4 120.5h0M575.5 124.1h0M580.7 110.6h0M561.9 67.3h0M536.9 55.2h0M579.9 110.6h0M554.7 86.9h0M544.6 84.5h0M579.8 132.7h0M574.6 114.5h0M569.8 85.5h0M594.6 118.8h0M543.5 84.3h0M534.4 59.8h0M620.0 122.3h0M570.1 107.7h0M539.4 73.5h0M534.5 57.3h0M579.6 112.3h0M588.1 135.0h0M606.3 119.3h0M626.1 123.3h0M627.7 124.2h0M578.6 108.2h0M538.5 53.7h0M572.6 110.0h0M580.5 129.8h0M557.9 93.2h0M563.0 74.0h0M574.2 95.4h0M606.0 139.7h0M540.1 75.2h0M627.4 126.2h0M569.9 85.9h0M606.7 139.3h0M535.7 68.0h0M551.9 87.1h0M544.9 82.9h0M610.7 119.0h0M580.0 100.3h0M551.6 88.4h0M569.4 102.9h0M556.2 90.2h0M607.3 119.4h0M578.1 109.8h0M578.4 95.7h0M550.7 88.2h0M541.5 78.9h0M598.2 119.6h0M550.1 86.4h0M603.8 120.1h0M622.4 122.3h0M612.5 139.7h0M575.4 90.8h0M579.5 102.1h0M576.9 103.3h0M578.6 103.3h0M629.3 136.6h0M554.2 63.4h0M568.6 108.6h0M566.4 80.8h0M622.2 124.0h0M592.2 137.7h0M560.9 68.6h0M613.3 121.6h0M615.5 140.0h0M618.9 139.1h0M547.2 85.5h0M569.8 105.2h0M560.1 66.7h0M561.3 92.3h0M619.4 142.0h0M581.0 133.3h0M565.0 77.1h0M628.1 123.7h0M577.9 127.4h0M566.3 102.4h0M565.4 100.7h0M577.2 90.4h0M561.4 92.7h0M612.7 138.7h0M583.7 133.0h0M555.8 89.8h0M609.8 118.7h0M540.0 78.5h0M548.5 87.7h0M566.4 99.1h0M603.8 118.6h0M627.5 140.1h0M565.6 78.5h0M572.8 109.9h0M545.3 85.8h0M564.3 75.9h0M574.7 114.8h0M578.7 129.5h0M541.4 51.7h0M540.8 80.6h0M627.7 129.3h0M577.4 104.4h0M539.7 49.6h0M570.0 106.3h0M589.8 118.4h0M628.4 137.4h0M569.7 85.5h0M600.2 140.1h0M608.9 119.7h0M564.5 98.0h0M583.6 134.8h0M575.2 121.3h0M577.2 100.1h0M544.8 57.9h0M550.1 87.3h0M539.3 73.1h0M589.8 135.1h0M540.6 77.2h0M577.0 127.5h0M602.6 138.8h0M613.6 118.8h0M595.6 117.7h0M628.2 130.1h0M573.9 89.7h0M616.9 122.1h0M628.8 136.2h0M540.9 49.8h0M607.3 122.0h0M578.5 109.5h0M595.4 138.7h0M563.8 100.5h0M599.9 137.9h0M585.4 135.0h0M600.0 138.0h0M579.2 99.3h0M601.1 120.9h0M558.9 92.4h0M537.1 72.0h0M567.4 83.5h0M535.3 54.9h0M536.4 64.9h0M553.8 89.7h0M601.4 137.8h0M564.5 98.2h0M606.7 138.2h0M543.5 82.9h0M576.8 95.5h0M622.5 123.7h0M582.6 131.3h0M572.3 88.3h0M575.9 125.1h0M578.1 101.1h0M576.5 124.9h0M565.9 99.6h0M618.7 122.4h0M533.0 57.6h0M594.4 135.7h0M571.9 111.8h0M539.8 52.6h0M556.2 63.5h0M575.1 125.4h0M538.2 72.8h0M595.1 138.5h0M542.6 79.8h0M542.8 55.9h0M546.6 86.3h0M549.6 88.0h0M595.2 137.1h0M616.8 123.1h0M577.1 127.1h0M577.1 97.0h0M584.9 133.3h0M580.1 130.2h0M621.9 141.3h0M579.2 101.1h0M534.7 54.4h0M568.9 82.9h0M561.7 91.4h0M573.7 87.8h0M545.8 60.8h0M577.8 97.8h0M629.4 138.2h0M609.0 138.7h0M550.2 87.4h0M555.2 89.3h0M535.9 64.7h0M548.1 85.7h0M622.7 122.6h0M560.6 70.5h0M538.8 65.4h0M575.8 92.8h0M595.9 140.4h0M575.7 103.9h0M565.2 98.2h0M570.4 86.6h0M614.2 122.0h0M573.5 89.9h0M555.3 87.4h0M580.8 137.2h0M586.1 141.1h0M591.3 143.7h0M596.6 147.7h0M601.9 149.0h0M607.1 150.3h0M612.4 151.1h0M617.6 151.6h0M622.9 152.9h0M583.5 139.8h0M588.7 142.4h0M594.0 146.4h0M599.2 148.5h0M604.5 149.5h0M609.7 150.6h0M615.0 151.4h0M620.2 152.1h0M592.7 149.0h0M597.9 149.5h0M582.1 141.1h0M640.0 74.9h0M649.2 106.4h0M649.2 109.1h0M632.9 112.2h0M631.3 114.8h0M641.3 120.6h0M642.6 127.4h0M650.5 126.1h0M656.5 118.8h0M659.7 122.7h0M674.1 117.5h0M647.8 139.8h0M651.3 137.2h0M654.4 133.8h0M630.8 126.7h0M625.5 129.3h0M622.9 120.1h0M624.2 122.7h0M601.3 112.2h0M633.4 133.2h0M630.8 130.6h0M629.4 141.1h0M559.9 76.8h0M539.0 64.0h0M550.1 77.2h0M541.7 68.3h0M551.3 72.0h0M540.9 71.7h0M559.8 86.6h0M543.1 78.2h0M554.6 80.4h0M554.2 66.6h0M546.4 69.9h0M543.9 84.2h0M560.4 65.3h0M539.7 86.1h0M544.8 72.9h0M546.5 72.0h0M552.6 75.1h0M547.5 73.3h0M541.4 74.0h0M552.3 72.9h0M555.9 79.8h0M555.5 69.2h0M550.4 66.4h0M546.0 73.1h0M539.0 64.5h0M551.4 73.4h0M553.7 74.6h0M549.2 81.9h0M561.5 65.0h0M543.6 72.2h0M558.0 81.8h0M555.8 70.7h0M560.1 83.2h0M560.7 80.2h0M544.4 63.3h0M560.6 71.9h0M548.3 81.4h0M554.8 75.4h0M561.3 79.1h0M552.9 87.0h0M47.1 342.0h0M46.8 335.5h0M46.3 350.6h0M47.5 329.7h0M46.7 308.6h0M47.5 321.8h0M47.1 338.0h0M47.1 355.7h0M46.8 338.6h0M47.2 322.3h0M46.5 358.0h0M46.5 328.2h0M47.5 319.5h0M46.4 335.9h0M46.7 325.4h0M47.3 313.7h0M46.6 343.9h0M46.7 342.8h0M47.5 356.9h0M46.4 314.9h0M46.5 353.8h0M47.5 348.1h0M46.5 320.8h0M46.6 332.2h0M47.5 339.7h0M46.6 323.9h0M47.7 313.5h0M47.4 350.1h0M47.4 316.3h0M46.5 332.7h0M46.5 330.1h0M47.3 353.5h0M47.4 336.2h0M46.5 329.4h0M46.4 357.2h0M46.5 325.8h0M46.3 344.6h0M46.8 319.8h0M46.9 346.1h0M47.1 345.8h0M46.2 349.7h0M46.4 332.4h0M46.3 319.2h0M46.5 339.8h0M46.4 353.8h0M47.6 323.6h0M46.7 309.1h0M46.3 317.4h0M47.1 355.0h0M47.6 308.4h0M47.3 310.8h0M47.1 313.0h0M46.7 352.9h0M46.7 327.3h0M46.6 342.8h0M47.4 343.5h0M47.4 329.9h0M46.9 344.9h0M47.4 331.2h0M47.1 335.3h0M47.2 323.5h0M46.5 308.2h0M46.5 337.9h0M46.5 321.4h0M47.5 321.9h0M47.3 352.2h0M47.5 326.3h0M47.4 313.2h0M47.4 339.8h0M46.8 335.1h0M47.3 311.0h0M46.4 325.6h0M47.1 338.8h0M46.2 322.1h0M47.6 357.6h0M47.5 348.2h0M46.4 333.4h0M47.3 354.1h0M47.4 309.8h0M46.2 319.3h0M47.0 354.1h0M46.8 333.6h0M47.1 316.6h0M47.5 336.7h0M47.2 344.8h0M46.4 338.4h0M47.0 310.4h0M47.0 309.9h0M46.1 328.5h0M46.3 308.9h0M46.7 312.3h0M45.3 300.6h0M47.2 300.6h0M45.3 366.8h0M47.2 366.8h0M45.3 303.2h0M46.1 362.4h0M53.2 330.2h0M53.2 331.1h0M53.2 337.7h0M53.2 342.0h0M53.2 334.4h0M53.2 337.2h0M53.2 339.0h0M53.2 337.6h0M53.2 337.4h0M53.2 327.5h0M53.2 340.6h0M53.2 329.9h0M53.2 330.2h0M53.2 335.2h0M53.2 336.3h0M53.2 338.9h0M53.2 331.9h0M53.2 341.7h0M53.2 337.0h0M53.2 340.2h0M53.2 334.7h0M53.2 328.6h0M53.2 327.7h0M53.2 337.1h0M93.1 332.2h0M92.8 339.0h0M93.0 339.2h0M92.7 330.3h0M92.8 329.4h0M92.7 335.1h0M93.1 328.0h0M92.9 331.1h0M92.7 336.1h0M92.7 325.0h0M92.8 336.9h0M92.7 336.3h0M92.9 330.9h0M93.0 328.7h0M92.8 333.3h0M92.7 329.5h0M92.8 337.7h0M92.7 334.1h0M93.0 329.7h0M92.7 337.5h0M93.0 334.3h0M92.8 326.9h0M93.0 331.3h0M93.0 332.5h0M92.7 339.6h0M93.0 329.9h0M93.1 331.9h0M134.1 306.9h0M134.1 308.8h0M134.1 300.8h0M134.1 297.1h0M134.1 311.3h0M134.1 313.2h0M134.1 297.9h0M134.1 295.6h0M134.1 301.5h0M134.1 308.3h0M134.1 301.9h0M134.1 316.7h0M134.1 312.4h0M134.1 315.5h0M134.1 307.7h0M134.1 311.6h0M134.1 316.4h0M134.1 293.7h0M134.1 307.1h0M134.1 297.5h0M134.1 312.5h0M134.1 298.6h0M134.1 311.2h0M134.1 301.1h0M134.1 309.0h0M134.1 309.6h0M134.1 315.3h0M134.1 314.4h0M134.1 303.7h0M134.1 309.9h0M134.1 297.3h0M134.1 295.2h0M134.1 310.5h0M134.1 315.3h0M134.1 311.3h0M134.1 305.6h0M173.6 291.1h0M173.5 291.4h0M173.7 291.8h0M173.7 263.5h0M173.4 282.2h0M173.6 283.0h0M173.5 289.1h0M173.4 269.3h0M173.5 267.0h0M173.5 287.1h0M173.7 271.0h0M173.7 265.3h0M173.3 266.1h0M173.3 282.3h0M173.8 279.1h0M173.6 285.3h0M173.6 287.0h0M173.5 263.5h0M173.7 290.7h0M173.6 289.1h0M173.6 290.7h0M173.4 285.9h0M173.7 274.6h0M173.4 270.6h0M173.4 290.1h0M173.6 275.7h0M173.7 277.7h0M173.4 283.8h0M173.5 283.5h0M173.4 283.7h0M173.6 281.6h0M173.7 278.3h0M173.4 285.8h0M173.6 275.0h0M173.6 271.1h0M173.4 290.0h0M173.6 288.1h0M173.4 284.4h0M173.4 268.3h0M173.8 264.7h0M173.4 290.4h0M173.5 291.0h0M173.6 271.4h0M173.5 281.8h0M173.3 263.9h0M173.7 274.9h0M173.5 257.3h0M173.5 303.8h0M173.5 302.7h0M173.5 291.4h0M215.3 267.8h0M215.3 270.9h0M215.3 274.9h0M215.3 282.2h0M215.3 284.1h0M215.3 288.0h0M277.1 294.0h0M276.9 300.1h0M276.7 317.8h0M277.5 319.9h0M278.0 318.0h0M277.9 300.1h0M277.5 311.9h0M277.3 315.6h0M278.1 292.5h0M277.6 319.9h0M278.1 289.1h0M277.7 308.9h0M277.7 294.0h0M277.7 293.1h0M276.8 290.3h0M277.0 319.0h0M276.7 290.0h0M278.0 317.9h0M278.1 291.4h0M277.5 297.2h0M276.8 293.0h0M276.8 320.6h0M277.3 288.8h0M277.2 316.1h0M276.9 296.1h0M276.7 319.3h0M277.6 312.1h0M277.8 294.8h0M276.7 303.6h0M277.1 291.2h0M277.1 299.9h0M277.4 286.4h0M277.5 309.7h0M277.2 306.6h0M277.9 295.1h0M277.2 285.9h0M277.1 318.9h0M277.8 289.9h0M277.9 297.1h0M277.9 286.4h0M276.9 299.1h0M276.9 299.7h0M277.3 304.4h0M278.1 297.0h0M277.5 294.3h0M277.6 313.4h0M277.1 295.4h0M278.1 297.3h0M276.9 302.9h0M277.5 295.2h0M277.6 311.3h0M277.8 288.4h0M277.8 297.0h0M277.2 300.4h0M277.0 294.6h0M278.1 315.3h0M277.4 298.1h0M277.0 300.4h0M276.8 302.1h0M277.8 315.0h0M277.9 293.2h0M277.5 314.9h0M277.2 319.2h0M277.6 294.9h0M278.1 291.5h0M277.5 313.5h0M277.1 328.2h0M283.1 286.8h0M283.4 289.7h0M282.2 292.2h0M283.1 294.5h0M282.5 296.6h0M283.7 300.4h0M282.7 303.5h0M282.2 306.5h0M283.3 307.6h0M282.6 310.3h0M287.0 301.8h0M287.2 305.7h0M287.7 310.8h0M291.3 293.6h0M291.6 297.3h0M291.9 300.7h0M292.0 302.9h0M291.6 304.6h0M291.7 309.5h0M295.4 281.2h0M296.5 283.4h0M295.9 285.7h0M295.9 288.6h0M296.6 291.2h0M296.3 293.6h0M296.8 296.9h0M296.6 299.3h0M295.4 301.7h0M296.0 305.0h0M296.4 307.8h0M295.4 310.1h0M296.1 312.1h0M296.8 316.0h0M299.8 284.3h0M301.2 286.7h0M300.2 289.7h0M301.2 292.4h0M300.2 294.9h0M300.7 297.8h0M300.7 301.3h0M299.8 303.3h0M299.8 306.1h0M300.4 307.7h0M304.7 282.7h0M303.7 285.9h0M305.2 288.5h0M304.3 291.6h0M305.1 294.7h0M303.7 297.2h0M303.7 300.1h0M303.8 303.2h0M309.1 264.7h0M308.9 266.4h0M309.5 270.1h0M308.8 272.5h0M309.5 274.0h0M309.0 277.3h0M309.1 280.0h0M308.7 283.0h0M308.7 286.4h0M309.7 287.8h0M309.3 292.3h0M313.4 271.5h0M313.8 275.0h0M312.6 278.1h0M312.7 279.2h0M313.3 283.7h0M313.0 284.4h0M312.8 288.4h0M313.1 290.4h0M313.4 293.2h0M313.7 296.4h0M313.8 299.4h0M313.6 301.8h0M316.3 274.0h0M316.6 277.8h0M317.2 280.0h0M316.9 281.5h0M316.4 285.8h0M316.6 286.9h0M317.2 290.5h0M316.9 293.1h0M317.5 296.2h0M317.0 298.3h0M317.6 301.6h0M317.5 302.3h0M321.7 266.4h0M321.2 269.2h0M322.4 272.0h0M321.9 275.2h0M321.1 278.4h0M321.5 281.5h0M321.4 284.2h0M325.5 257.1h0M326.2 260.4h0M325.3 262.5h0M325.3 265.1h0M325.5 269.0h0M326.2 271.1h0M326.3 274.3h0M325.8 276.6h0M325.5 279.4h0M325.9 281.7h0M326.2 284.6h0M325.3 287.4h0M330.0 272.1h0M330.3 275.3h0M330.9 277.8h0M329.6 280.4h0M329.5 284.5h0M330.2 286.9h0M333.7 257.7h0M333.9 258.5h0M334.0 262.4h0M333.9 263.8h0M333.9 267.6h0M334.5 269.4h0M334.3 273.2h0M334.9 275.2h0M334.4 278.5h0M334.4 280.4h0M338.9 288.7h0M338.9 291.3h0M338.9 286.4h0M338.9 276.4h0M338.9 284.1h0M338.9 276.3h0M338.9 286.8h0M338.9 276.9h0M338.9 285.6h0M338.9 278.5h0M338.9 291.3h0M338.9 277.5h0M338.9 287.8h0M338.9 288.6h0M338.9 280.8h0M338.9 286.5h0M338.9 281.7h0M338.9 280.5h0M338.9 280.5h0M338.9 276.0h0M338.9 288.0h0M338.9 277.0h0M338.9 279.3h0M338.9 277.3h0M338.9 290.4h0M338.9 285.4h0M338.9 284.3h0M338.9 286.4h0M342.8 283.7h0M342.8 279.7h0M342.8 282.0h0M342.8 277.1h0M342.8 281.4h0M342.8 290.4h0M342.8 297.5h0M342.8 278.0h0M342.8 294.6h0M342.8 288.3h0M342.8 275.6h0M342.8 273.5h0M342.8 295.0h0M342.8 278.9h0M342.8 275.7h0M342.8 289.4h0M342.8 290.6h0M342.8 295.3h0M342.8 285.5h0M342.8 280.8h0M342.8 281.0h0M342.8 278.2h0M342.8 288.9h0M342.8 296.5h0M342.8 275.2h0M342.8 282.7h0M342.8 281.8h0M342.8 275.1h0M342.8 287.9h0M342.8 297.5h0M342.8 280.0h0M342.8 291.1h0M342.8 295.4h0M342.8 279.8h0M342.8 295.9h0M342.8 291.7h0M347.5 283.0h0M347.5 287.4h0M347.5 288.0h0M347.5 284.4h0M347.5 292.9h0M347.5 284.4h0M347.5 284.3h0M347.5 289.6h0M347.5 286.6h0M347.5 290.0h0M347.5 281.9h0M347.5 281.8h0M347.5 290.2h0M347.5 285.2h0M347.5 291.9h0M347.5 283.0h0M347.5 283.1h0M347.5 292.0h0M347.5 284.8h0M347.5 281.2h0M347.5 282.8h0M347.5 290.7h0M347.5 283.5h0M351.7 291.8h0M351.7 290.9h0M351.7 292.0h0M351.7 285.4h0M351.7 284.6h0M351.7 282.5h0M351.7 295.3h0M351.7 282.4h0M351.7 286.3h0M351.7 291.4h0M351.7 290.1h0M351.7 296.4h0M351.7 285.6h0M351.7 284.1h0M351.7 284.8h0M351.7 290.1h0M351.7 286.8h0M351.7 289.4h0M351.7 293.0h0M351.7 287.3h0M351.7 292.7h0M351.7 282.6h0M351.7 290.8h0M351.7 296.5h0M351.7 296.9h0M355.9 301.6h0M355.9 300.5h0M355.9 308.1h0M355.9 296.9h0M355.9 305.1h0M355.9 306.3h0M355.9 302.2h0M355.9 303.3h0M355.9 300.0h0M355.9 300.0h0M355.9 297.4h0M355.9 308.5h0M355.9 297.1h0M355.9 298.5h0M355.9 306.1h0M355.9 302.7h0M355.9 303.4h0M355.9 300.6h0M355.9 298.8h0M355.9 307.1h0M355.9 298.4h0M360.4 309.7h0M360.4 305.8h0M360.4 301.2h0M360.4 299.8h0M360.4 298.9h0M360.4 301.2h0M360.4 299.5h0M360.4 306.0h0M360.4 306.1h0M360.4 305.2h0M360.4 302.5h0M360.4 303.5h0M360.4 301.1h0M360.4 308.8h0M360.4 298.3h0M360.4 301.8h0M360.4 304.7h0M360.4 300.2h0M360.4 308.0h0M360.4 303.7h0M364.3 304.5h0M364.3 312.1h0M364.3 305.0h0M364.3 301.5h0M364.3 307.8h0M364.3 304.1h0M364.3 312.4h0M364.3 304.4h0M364.3 310.1h0M364.3 303.7h0M364.3 308.9h0M364.3 315.4h0M364.3 305.8h0M364.3 309.6h0M364.3 308.1h0M364.3 301.9h0M364.3 301.0h0M364.3 314.9h0M364.3 306.5h0M364.3 312.3h0M364.3 307.7h0M364.3 314.9h0M364.3 304.0h0M364.3 308.9h0M364.3 310.0h0M364.3 314.1h0M368.5 316.3h0M368.5 306.0h0M368.5 315.4h0M368.5 304.7h0M368.5 314.1h0M368.5 311.0h0M368.5 316.4h0M368.5 316.0h0M368.5 305.2h0M368.5 311.1h0M368.5 307.8h0M368.5 310.3h0M368.5 305.5h0M368.5 309.3h0M368.5 309.9h0M368.5 304.7h0M368.5 310.8h0M368.5 316.2h0M368.5 305.4h0M368.5 316.9h0M368.5 311.0h0M372.8 315.5h0M372.8 308.1h0M372.8 318.9h0M372.8 309.0h0M372.8 309.5h0M372.8 307.5h0M372.8 311.0h0M372.8 310.8h0M372.8 314.8h0M372.8 317.6h0M372.8 309.2h0M372.8 316.4h0M372.8 310.0h0M372.8 311.2h0M372.8 307.6h0M372.8 317.5h0M372.8 310.8h0M372.8 315.0h0M372.8 306.3h0M372.8 315.0h0M372.8 308.9h0M377.0 319.8h0M377.0 312.2h0M377.0 313.8h0M377.0 320.1h0M377.0 311.3h0M377.0 320.4h0M377.0 311.6h0M377.0 309.7h0M377.0 315.2h0M377.0 318.9h0M377.0 313.8h0M377.0 319.5h0M377.0 313.7h0M377.0 319.2h0M377.0 310.0h0M377.0 312.3h0M377.0 310.2h0M377.0 318.2h0M377.0 314.7h0M377.0 317.1h0M377.0 311.7h0M381.4 320.0h0M381.4 316.3h0M381.4 302.1h0M381.4 304.1h0M381.4 307.8h0M381.4 305.3h0M381.4 303.1h0M381.4 318.7h0M381.4 318.6h0M381.4 316.0h0M381.4 306.6h0M381.4 317.5h0M381.4 316.9h0M381.4 307.9h0M381.4 304.3h0M381.4 304.5h0M381.4 309.5h0M381.4 317.2h0M381.4 303.4h0M381.4 309.8h0M381.4 308.5h0M381.4 318.3h0M381.4 304.8h0M381.4 314.0h0M381.4 307.9h0M381.4 313.8h0M381.4 317.0h0M381.4 317.0h0M385.4 312.5h0M385.4 311.7h0M385.4 314.5h0M385.4 314.1h0M385.4 312.7h0M385.4 319.5h0M385.4 319.6h0M385.4 310.4h0M385.4 314.9h0M385.4 312.4h0M385.4 313.4h0M385.4 310.2h0M385.4 310.7h0M385.4 310.2h0M385.4 311.2h0M385.4 316.6h0M385.4 310.7h0M385.4 319.1h0M389.8 317.7h0M389.8 314.5h0M389.8 318.3h0M389.8 315.9h0M389.8 317.4h0M389.8 316.1h0M389.8 313.3h0M389.8 320.4h0M389.8 318.8h0M389.8 321.2h0M389.8 315.3h0M389.8 315.1h0M389.8 313.7h0M389.8 315.3h0M389.8 315.5h0M389.8 314.2h0M389.8 314.9h0M394.0 326.8h0M394.0 313.7h0M394.0 316.5h0M394.0 322.1h0M394.0 313.1h0M394.0 326.8h0M394.0 328.9h0M394.0 318.1h0M394.0 325.6h0M394.0 316.7h0M394.0 328.6h0M394.0 316.1h0M394.0 312.6h0M394.0 313.7h0M394.0 320.3h0M394.0 313.2h0M394.0 329.1h0M394.0 323.2h0M394.0 322.1h0M394.0 323.1h0M394.0 319.6h0M394.0 327.5h0M394.0 324.6h0M394.0 319.8h0M394.0 317.3h0M394.0 315.0h0M399.2 319.7h0M398.3 322.3h0M399.2 324.0h0M398.2 327.1h0M397.7 329.9h0M397.9 334.0h0M398.8 335.8h0M398.3 339.0h0M402.7 337.8h0M402.7 331.5h0M402.7 334.7h0M402.7 327.8h0M402.7 332.7h0M402.7 335.0h0M402.7 328.3h0M402.7 330.6h0M402.7 338.0h0M402.7 339.8h0M402.7 327.7h0M402.7 321.8h0M402.7 338.0h0M402.7 329.7h0M402.7 340.6h0M402.7 336.3h0M402.7 328.1h0M402.7 338.1h0M402.7 331.8h0M402.7 335.3h0M402.7 338.9h0M402.7 332.5h0M402.7 340.2h0M402.7 328.7h0M402.7 328.3h0M402.7 333.8h0M402.7 328.9h0M402.7 335.2h0M402.7 331.5h0M402.7 335.9h0M402.7 337.6h0M407.2 342.2h0M407.2 327.2h0M407.2 335.1h0M407.2 324.1h0M407.2 334.5h0M407.2 336.6h0M407.2 337.4h0M407.2 339.7h0M407.2 328.2h0M407.2 324.6h0M407.2 338.9h0M407.2 322.8h0M407.2 327.0h0M407.2 327.1h0M407.2 338.0h0M407.2 331.2h0M407.2 339.3h0M407.2 335.8h0M407.2 339.4h0M407.2 338.2h0M407.2 340.1h0M407.2 327.9h0M407.2 329.5h0M407.2 335.0h0M407.2 334.1h0M407.2 338.1h0M407.2 338.7h0M407.2 328.4h0M407.2 324.7h0M407.2 337.3h0M411.1 331.2h0M411.1 342.9h0M411.1 334.4h0M411.1 335.2h0M411.1 340.6h0M411.1 356.8h0M411.1 339.9h0M411.1 350.0h0M411.1 340.3h0M411.1 341.2h0M411.1 333.6h0M411.1 334.9h0M411.1 351.7h0M411.1 341.9h0M411.1 337.8h0M411.1 358.0h0M411.1 354.8h0M411.1 337.2h0M411.1 342.1h0M411.1 345.9h0M411.1 334.4h0M411.1 341.9h0M411.1 337.8h0M411.1 352.9h0M411.1 332.3h0M411.1 358.1h0M411.1 336.4h0M411.1 339.1h0M411.1 331.8h0M411.1 355.8h0M411.1 353.4h0M411.1 331.5h0M411.1 344.8h0M411.1 340.8h0M411.1 347.0h0M411.1 339.3h0M411.1 357.1h0M411.1 335.9h0M411.1 353.2h0M411.1 337.3h0M415.6 335.7h0M415.6 350.8h0M415.6 334.7h0M415.6 339.1h0M415.6 332.9h0M415.6 348.7h0M415.6 350.8h0M415.6 351.4h0M415.6 352.2h0M415.6 341.7h0M415.6 335.8h0M415.6 331.0h0M415.6 343.0h0M415.6 356.5h0M415.6 343.2h0M415.6 347.8h0M415.6 356.1h0M415.6 354.6h0M415.6 351.2h0M415.6 347.2h0M415.6 337.3h0M415.6 351.4h0M415.6 342.4h0M415.6 350.3h0M415.6 337.0h0M415.6 356.7h0M415.6 335.4h0M415.6 352.6h0M415.6 355.3h0M415.6 335.1h0M415.6 354.6h0M415.6 348.6h0M415.6 347.5h0M415.6 337.9h0M415.6 339.9h0M415.6 337.4h0M415.6 343.0h0M415.6 348.7h0M415.6 350.9h0M419.5 358.3h0M419.5 348.9h0M419.5 362.6h0M419.5 342.1h0M419.5 344.4h0M419.5 360.8h0M419.5 350.5h0M419.5 345.6h0M419.5 359.5h0M419.5 345.9h0M419.5 364.2h0M419.5 346.9h0M419.5 361.4h0M419.5 352.0h0M419.5 363.3h0M419.5 347.5h0M419.5 363.1h0M419.5 347.6h0M419.5 351.2h0M419.5 355.8h0M419.5 353.9h0M419.5 356.7h0M419.5 357.4h0M419.5 346.8h0M419.5 340.3h0M419.5 358.1h0M419.5 355.0h0M419.5 354.1h0M419.5 352.4h0M419.5 363.1h0M419.5 347.5h0M419.5 362.7h0M419.5 344.3h0M419.5 357.3h0M419.5 363.5h0M419.5 343.9h0M424.0 346.2h0M424.0 348.8h0M424.0 355.4h0M424.0 361.0h0M424.0 348.5h0M424.0 345.0h0M424.0 344.0h0M424.0 355.4h0M424.0 360.1h0M424.0 341.8h0M424.0 348.6h0M424.0 345.0h0M424.0 361.3h0M424.0 344.2h0M424.0 342.9h0M424.0 357.4h0M424.0 362.3h0M424.0 357.6h0M424.0 343.8h0M424.0 349.9h0M424.0 352.3h0M424.0 360.2h0M424.0 357.1h0M424.0 342.7h0M424.0 350.9h0M424.0 357.7h0M424.0 352.8h0M424.0 355.3h0M424.0 361.6h0M424.0 361.8h0M424.0 358.9h0M428.2 357.0h0M428.2 355.6h0M428.2 360.2h0M428.2 357.7h0M428.2 353.9h0M428.2 358.9h0M428.2 362.2h0M428.2 353.9h0M428.2 362.3h0M428.2 354.2h0M428.2 356.0h0M428.2 362.1h0M428.2 362.0h0M428.2 354.9h0M428.2 359.8h0M428.2 358.8h0M428.2 356.8h0M432.9 335.9h0M432.8 338.8h0M432.8 342.2h0M433.0 344.2h0M432.1 346.2h0M433.1 349.6h0M432.9 351.5h0M433.0 354.6h0M432.5 356.3h0M432.0 359.9h0M433.3 362.3h0M436.6 361.4h0M436.6 362.2h0M436.6 359.5h0M436.6 361.7h0M436.6 361.6h0M436.6 360.0h0M436.6 361.8h0M436.6 361.3h0M436.6 357.7h0M436.6 357.9h0M436.6 359.3h0M436.6 359.9h0M441.0 358.1h0M441.8 360.2h0M441.6 365.7h0M444.9 354.9h0M445.6 360.7h0M444.9 365.8h0M511.0 342.3h0M511.0 346.2h0M511.4 345.0h0M511.0 365.1h0M511.1 343.2h0M511.2 348.9h0M511.0 350.8h0M511.2 356.9h0M511.1 365.3h0M511.0 354.6h0M511.2 362.0h0M511.2 340.1h0M511.0 356.0h0M511.3 341.4h0M511.2 362.4h0M511.0 354.1h0M511.4 340.3h0M511.2 361.7h0M511.0 351.9h0M511.1 350.8h0M511.1 338.6h0M511.0 363.4h0M511.1 351.6h0M511.0 362.2h0M511.1 338.4h0M511.3 356.6h0M511.0 347.5h0M511.0 352.3h0M511.0 354.9h0M511.1 361.0h0M511.0 363.9h0M511.2 341.2h0M511.4 362.0h0M511.4 339.7h0M511.2 336.5h0M511.3 345.2h0M511.3 344.7h0M511.3 359.3h0M511.3 353.0h0M511.1 347.8h0M511.3 359.9h0M511.2 364.3h0M511.3 355.4h0M511.3 355.8h0M511.0 362.1h0M511.4 345.0h0M511.0 366.1h0M511.2 329.8h0M673.6 295.6h0M673.6 306.9h0M673.6 323.0h0M673.6 270.0h0M673.6 312.5h0M673.6 289.9h0M673.6 268.8h0M673.6 289.0h0M673.6 310.3h0M673.6 271.7h0M673.6 324.7h0M673.6 269.0h0M673.6 282.6h0M673.6 288.8h0M673.6 270.5h0M673.6 330.1h0M673.6 332.9h0M673.6 328.6h0M673.6 279.8h0M673.6 323.7h0M673.6 289.4h0M673.6 286.0h0M673.6 313.8h0M673.6 271.9h0M673.6 266.4h0M673.6 330.4h0M673.6 290.5h0M673.6 321.0h0M673.6 295.5h0M673.6 272.4h0M673.6 298.8h0M673.6 277.8h0M673.6 271.6h0M673.6 267.3h0M673.6 293.7h0M673.6 283.9h0M673.6 289.3h0M673.6 332.6h0M673.6 323.4h0M673.6 314.9h0M673.6 282.9h0M673.6 317.9h0M673.6 314.3h0M673.6 302.5h0M673.6 282.5h0M673.6 280.4h0M673.6 295.0h0M673.6 285.1h0M673.6 327.2h0M673.6 298.2h0M673.6 312.9h0M673.6 328.1h0M673.6 309.0h0M673.6 277.1h0M673.6 288.1h0M673.6 329.9h0M673.6 269.2h0M673.6 281.4h0M673.6 308.8h0M673.6 325.1h0M673.6 322.8h0M673.6 316.6h0M673.6 314.6h0M673.6 291.9h0M673.6 270.3h0M673.6 310.0h0M673.6 271.0h0M673.6 321.3h0M673.6 275.1h0M673.6 267.7h0M673.6 335.2h0M673.6 277.6h0M673.6 306.3h0M673.6 270.3h0M673.6 333.9h0M673.6 267.2h0M673.6 313.6h0M673.6 324.4h0M673.6 286.5h0M673.6 266.6h0M673.6 268.6h0M673.6 270.2h0M673.6 318.2h0M673.6 302.6h0M673.6 328.1h0M673.6 309.8h0M673.6 307.1h0M673.6 280.0h0M673.6 281.5h0M673.6 257.3h0M673.6 340.6h0M79.5 460.7h0M95.3 493.3h0M95.6 486.9h0M95.9 448.6h0M80.7 450.0h0M80.1 495.0h0M80.5 450.8h0M81.5 499.3h0M96.1 502.5h0M79.6 483.1h0M81.7 462.5h0M80.8 465.5h0M96.2 480.9h0M94.1 500.2h0M80.8 455.0h0M97.6 499.0h0M80.6 475.4h0M92.0 500.7h0M82.4 471.5h0M90.7 444.0h0M80.6 447.0h0M93.0 446.6h0M99.9 491.5h0M95.8 482.3h0M80.2 452.1h0M80.4 447.8h0M97.1 448.1h0M80.4 470.4h0M95.1 501.9h0M81.3 468.0h0M97.1 484.3h0M82.1 478.6h0M82.1 446.0h0M95.4 496.8h0M97.1 477.7h0M96.8 466.2h0M96.3 473.1h0M97.7 489.3h0M97.6 498.4h0M92.5 502.2h0M82.3 484.3h0M80.4 469.8h0M80.9 452.8h0M79.0 493.8h0M97.3 466.9h0M84.6 501.3h0M95.3 493.6h0M97.0 462.3h0M98.2 478.3h0M96.2 464.8h0M90.3 501.1h0M91.0 444.4h0M91.7 500.7h0M96.8 487.3h0M81.8 445.5h0M95.8 468.7h0M79.3 452.3h0M84.3 500.0h0M89.3 446.6h0M86.7 501.6h0M80.2 487.9h0M96.9 450.1h0M97.5 486.5h0M94.8 462.6h0M91.8 501.0h0M80.9 471.1h0M95.8 463.8h0M96.6 449.4h0M95.4 449.6h0M81.3 500.3h0M90.3 444.6h0M92.9 500.6h0M79.3 471.7h0M80.9 478.7h0M81.0 492.7h0M82.7 446.3h0M95.3 491.1h0M96.5 465.3h0M94.2 500.4h0M97.7 452.9h0M97.6 450.4h0M81.0 454.3h0M81.4 463.8h0M94.3 446.8h0M82.9 470.9h0M89.6 446.3h0M96.8 478.3h0M79.4 445.5h0M80.8 453.4h0M97.1 496.3h0M81.7 490.3h0M97.2 483.7h0M79.4 467.1h0M96.9 472.8h0M96.9 459.4h0M97.5 450.3h0M80.6 497.9h0M88.2 499.0h0M80.6 461.9h0M97.0 451.4h0M79.5 475.6h0M79.8 455.3h0M80.6 481.3h0M97.8 446.6h0M97.0 452.4h0M92.9 446.2h0M97.3 477.0h0M80.6 479.9h0M95.3 450.1h0M96.3 493.6h0M88.0 444.9h0M80.7 489.7h0M93.4 446.1h0M78.3 473.9h0M81.1 500.8h0M96.7 456.4h0M82.7 488.9h0M96.0 481.2h0M94.1 500.4h0M90.0 500.9h0M97.5 468.8h0M95.8 490.1h0M80.7 475.7h0M79.8 466.7h0M80.2 468.0h0M87.9 500.9h0M79.0 465.2h0M97.8 451.0h0M82.1 449.3h0M87.6 448.2h0M80.2 462.6h0M82.3 476.8h0M98.7 486.1h0M79.6 477.3h0M80.9 453.0h0M97.0 454.8h0M81.1 495.3h0M81.6 447.4h0M79.8 493.5h0M88.8 446.0h0M80.9 494.4h0M86.2 447.8h0M97.8 488.3h0M81.9 465.0h0M97.5 473.8h0M80.4 450.5h0M96.3 496.5h0M95.6 456.5h0M80.5 455.7h0M97.2 453.0h0M83.0 500.7h0M78.9 452.5h0M78.6 456.5h0M87.2 501.2h0M98.3 459.8h0M98.4 502.6h0M97.8 473.8h0M97.4 473.9h0M97.3 474.6h0M95.5 457.5h0M88.3 446.1h0M80.5 481.1h0M82.5 446.4h0M86.1 499.6h0M95.4 481.3h0M80.8 498.0h0M86.5 502.6h0M97.3 497.7h0M79.2 478.0h0M84.5 500.5h0M82.2 461.3h0M86.0 500.4h0M79.2 463.6h0M80.1 467.0h0M82.5 487.2h0M96.5 476.6h0M96.5 497.7h0M91.8 447.0h0M80.9 484.1h0M80.4 494.7h0M81.5 471.2h0M92.2 446.2h0M96.3 447.4h0M78.8 498.2h0M80.8 484.6h0M93.0 446.6h0M85.4 446.7h0M98.0 476.6h0M97.2 477.9h0M88.2 447.8h0M92.2 446.5h0M96.4 458.8h0M80.6 447.4h0M96.0 451.0h0M83.7 445.0h0M96.4 480.6h0M79.6 481.7h0M80.6 494.4h0M82.0 502.9h0M97.3 495.0h0M96.2 456.1h0M87.2 446.1h0M96.0 458.1h0M80.6 453.8h0M80.3 472.6h0M88.4 501.3h0M82.0 497.7h0M80.9 483.6h0M82.5 471.8h0M95.1 465.0h0M80.0 472.7h0M79.9 497.3h0M98.1 470.2h0M95.8 473.4h0M95.7 454.4h0M88.7 502.1h0M81.0 452.0h0M80.7 476.2h0M97.0 451.9h0M97.9 448.2h0M96.5 470.0h0M97.2 455.1h0M97.3 450.5h0M80.1 482.9h0M96.3 474.8h0M87.4 500.9h0M97.6 475.2h0M80.8 449.5h0M84.1 500.8h0M97.3 448.3h0M81.8 476.7h0M97.7 471.2h0M98.0 494.5h0M95.9 471.9h0M97.1 499.5h0M96.9 474.7h0M97.7 475.8h0M95.3 452.2h0M80.7 454.1h0M97.3 459.5h0M98.1 470.1h0M96.8 488.3h0M95.4 447.9h0M97.3 462.4h0M95.7 488.0h0M86.5 500.2h0M90.7 501.2h0M95.3 480.1h0M80.1 491.5h0M80.3 482.0h0M97.2 467.5h0M96.3 463.7h0M81.2 500.4h0M97.8 489.0h0M77.3 469.6h0M81.6 446.9h0M89.4 502.2h0M97.2 478.9h0M97.0 460.0h0M79.8 465.8h0M89.2 418.5h0M85.5 425.1h0M83.4 430.3h0M93.9 429.0h0M96.6 430.3h0M91.3 434.3h0M82.1 438.2h0M80.8 442.2h0M95.2 439.5h0M91.3 442.2h0M84.7 434.3h0M88.7 438.2h0M93.4 440.8h0M82.6 507.3h0M83.4 501.3h0M86.0 442.2h0M187.7 465.9h0M184.8 491.2h0M169.1 482.3h0M169.0 443.2h0M170.1 462.3h0M170.8 464.9h0M172.0 449.2h0M186.3 454.9h0M185.8 455.2h0M169.4 465.1h0M183.1 492.3h0M184.6 460.0h0M170.5 446.0h0M187.8 457.0h0M169.6 485.7h0M171.0 479.0h0M186.7 473.1h0M170.9 453.9h0M185.0 491.1h0M183.2 493.3h0M185.7 478.7h0M186.9 480.2h0M187.3 472.0h0M170.4 467.3h0M184.6 483.7h0M187.0 456.7h0M185.5 485.0h0M169.5 454.1h0M169.0 491.3h0M184.6 444.3h0M183.9 482.9h0M186.2 487.6h0M173.0 442.2h0M171.7 448.3h0M171.4 454.8h0M181.7 444.0h0M179.6 493.4h0M187.2 467.5h0M186.6 456.0h0M185.8 462.5h0M175.8 444.7h0M170.6 483.8h0M184.8 476.7h0M168.3 483.2h0M169.0 466.3h0M176.8 492.6h0M187.5 474.7h0M185.9 446.9h0M170.9 488.9h0M169.0 487.9h0M169.4 472.4h0M185.8 445.5h0M175.2 444.7h0M171.1 459.3h0M170.9 492.9h0M180.6 443.3h0M171.0 484.2h0M177.5 442.9h0M170.6 489.7h0M178.3 494.3h0M170.6 479.7h0M180.4 444.8h0M169.8 455.3h0M170.2 451.1h0M167.9 446.7h0M169.2 473.4h0M184.8 468.5h0M169.0 447.4h0M170.9 493.9h0M169.4 480.0h0M167.9 487.0h0M186.8 457.6h0M168.6 462.1h0M170.1 490.4h0M185.4 456.5h0M184.5 476.6h0M187.0 448.0h0M185.9 483.8h0M170.3 446.4h0M186.6 476.9h0M186.5 480.2h0M169.1 468.3h0M181.1 444.3h0M186.4 444.0h0M169.2 476.6h0M185.1 443.7h0M171.0 492.3h0M170.9 466.6h0M177.8 492.2h0M181.7 444.2h0M185.7 455.4h0M180.9 492.4h0M171.3 450.6h0M171.5 490.2h0M170.6 483.6h0M172.6 493.5h0M186.2 470.8h0M172.1 492.1h0M170.1 444.7h0M187.4 481.4h0M170.3 469.9h0M185.3 454.0h0M168.7 491.0h0M170.1 479.9h0M184.5 447.9h0M170.8 462.2h0M185.7 460.1h0M168.6 448.9h0M186.7 471.8h0M170.8 493.1h0M169.7 450.4h0M170.0 467.6h0M185.2 490.3h0M186.6 454.1h0M172.5 492.0h0M175.8 493.6h0M178.1 444.4h0M186.9 479.3h0M168.8 454.9h0M182.6 492.6h0M187.3 452.1h0M168.8 490.1h0M186.4 485.4h0M170.7 455.1h0M186.3 491.9h0M175.0 444.0h0M185.8 450.4h0M185.6 450.0h0M168.5 451.4h0M186.4 475.0h0M186.3 473.0h0M169.1 446.3h0M186.6 454.7h0M171.8 492.1h0M169.4 449.8h0M171.2 454.5h0M186.9 450.0h0M186.0 489.8h0M184.0 460.2h0M168.2 483.2h0M186.1 459.0h0M187.1 451.1h0M185.6 462.6h0M184.7 444.5h0M171.9 480.2h0M186.6 463.6h0M186.9 480.3h0M185.9 461.8h0M185.6 478.4h0M185.9 468.1h0M185.7 471.9h0M170.3 482.2h0M185.6 450.0h0M170.1 484.2h0M186.5 472.8h0M179.7 443.8h0M184.9 443.1h0M170.2 456.5h0M175.8 445.1h0M186.3 462.2h0M169.1 462.7h0M179.9 443.2h0M186.0 455.7h0M186.4 463.4h0M169.0 465.1h0M184.7 444.0h0M167.8 450.8h0M184.1 445.4h0M179.1 494.5h0M170.6 473.1h0M179.5 492.7h0M185.8 492.0h0M185.6 485.2h0M187.9 460.6h0M172.1 447.7h0M184.9 480.3h0M168.9 490.8h0M174.9 492.8h0M170.8 449.9h0M186.4 459.5h0M186.3 448.0h0M170.4 457.1h0M185.5 491.6h0M170.6 492.5h0M170.0 491.4h0M171.2 472.0h0M166.9 464.9h0M170.5 483.3h0M171.7 444.6h0M170.0 463.2h0M174.3 444.2h0M170.5 461.5h0M169.4 444.5h0M168.0 471.5h0M169.6 491.3h0M172.8 441.7h0M169.9 474.8h0M176.4 492.8h0M185.9 444.6h0M169.3 460.9h0M175.5 493.3h0M187.5 487.4h0M170.8 451.4h0M185.2 454.1h0M185.6 450.1h0M169.9 459.1h0M185.8 448.7h0M168.4 467.9h0M187.3 455.9h0M170.3 467.7h0M185.2 480.8h0M169.5 491.6h0M173.1 492.0h0M187.9 477.7h0M184.2 491.7h0M170.0 488.7h0M186.2 445.3h0M169.4 455.5h0M171.4 466.4h0M187.0 454.9h0M186.1 459.2h0M184.0 478.4h0M168.1 473.4h0M183.7 496.6h0M186.5 470.5h0M171.1 473.7h0M186.6 454.8h0M170.0 482.2h0M170.4 474.6h0M182.3 444.3h0M177.6 492.0h0M173.6 492.7h0M169.7 448.4h0M186.3 466.8h0M184.7 486.6h0M170.2 450.8h0M186.4 444.1h0M169.0 458.0h0M185.5 474.5h0M185.5 472.5h0M172.6 442.5h0M186.1 478.3h0M187.1 459.6h0M183.7 456.0h0M168.8 483.6h0M168.5 490.4h0M185.6 459.7h0M187.0 491.6h0M186.6 464.7h0M170.0 465.3h0M186.8 473.7h0M170.9 493.1h0M169.9 454.4h0M187.8 458.3h0M170.6 450.4h0M187.3 488.8h0M171.9 490.6h0M184.9 463.3h0M172.1 484.3h0M168.6 479.5h0M178.5 413.3h0M168.8 435.6h0M175.4 435.6h0M183.3 433.0h0M180.6 436.9h0M185.9 442.2h0M178.0 437.4h0M171.4 523.6h0M175.4 522.8h0M185.9 517.8h0M178.0 518.4h0M174.1 513.1h0M180.6 511.8h0M170.1 507.9h0M184.6 506.5h0M186.7 506.4h0M170.1 501.5h0M174.3 507.1h0M172.0 503.0h0M172.9 507.7h0M174.7 502.1h0M175.6 498.6h0M186.4 506.9h0M174.9 507.8h0M177.7 502.6h0M171.9 509.4h0M172.9 505.9h0M172.8 509.4h0M179.3 497.8h0M174.4 509.6h0M173.9 506.8h0M178.4 509.6h0M169.1 500.2h0M184.7 503.5h0M169.8 508.8h0M176.4 505.3h0M187.0 499.3h0M171.9 499.3h0M169.6 509.6h0M177.8 505.3h0M180.4 495.5h0M175.9 498.8h0M172.9 503.5h0M181.5 497.7h0M179.7 502.1h0M175.2 505.2h0M180.1 496.0h0M184.3 498.7h0M178.3 508.6h0M176.0 495.4h0M180.1 496.5h0M178.1 507.6h0M170.6 505.4h0M185.4 502.1h0M171.1 508.3h0M283.3 427.2h0M283.2 421.4h0M283.0 444.6h0M283.3 439.5h0M283.1 430.9h0M283.2 437.9h0M283.2 423.6h0M283.3 430.2h0M282.9 437.6h0M283.0 445.5h0M283.0 430.3h0M283.0 423.0h0M283.2 423.8h0M283.0 430.0h0M283.0 439.2h0M283.2 441.5h0M282.9 441.2h0M283.3 446.4h0M283.1 440.8h0M283.1 440.5h0M283.2 438.3h0M283.4 440.4h0M283.0 442.2h0M283.0 449.3h0M283.1 426.4h0M283.3 439.7h0M283.4 424.8h0M283.0 427.1h0M282.9 447.9h0M283.1 432.9h0M283.1 437.5h0M283.3 427.3h0M283.2 435.9h0M283.3 421.9h0M283.1 437.9h0M283.1 448.6h0M283.4 441.0h0M282.9 440.3h0M282.9 437.2h0M282.9 430.4h0M283.3 443.5h0M283.2 432.4h0M283.2 430.9h0M283.2 437.0h0M283.3 449.2h0M445.8 485.6h0M445.8 471.6h0M445.8 456.6h0M445.8 477.4h0M445.8 462.4h0M445.8 513.2h0M445.8 501.8h0M445.8 468.6h0M445.8 484.3h0M445.8 481.4h0M445.8 490.8h0M445.8 514.6h0M445.8 468.0h0M445.8 491.5h0M445.8 483.9h0M445.8 515.1h0M445.8 464.0h0M445.8 493.8h0M445.8 455.1h0M445.8 486.6h0M445.8 515.5h0M445.8 498.8h0M445.8 451.0h0M445.8 517.2h0M445.8 486.3h0M445.8 489.1h0M445.8 514.5h0M445.8 489.4h0M445.8 464.1h0M445.8 478.6h0M445.8 500.9h0M445.8 476.4h0M445.8 460.5h0M445.8 475.8h0M445.8 456.0h0M445.8 455.8h0M445.8 457.3h0M445.8 484.2h0M445.8 471.1h0M445.8 461.3h0M445.8 500.1h0M445.8 491.3h0M445.8 505.8h0M445.8 460.0h0M445.8 491.9h0M445.8 467.1h0M445.8 483.2h0M445.8 479.8h0M445.8 489.3h0M445.8 488.4h0M445.8 512.6h0M445.8 492.2h0M445.8 473.2h0M445.8 504.0h0M445.8 460.0h0M445.8 502.7h0M445.8 488.9h0M445.8 466.9h0M445.8 501.1h0M445.8 456.7h0M445.8 451.3h0M445.8 467.7h0M445.8 483.9h0M445.8 492.6h0M445.8 470.6h0M445.8 489.0h0M445.8 516.9h0M445.8 518.2h0M445.8 498.9h0M445.8 469.8h0M445.8 481.9h0M445.8 504.9h0M445.8 510.4h0M445.8 514.9h0M445.8 475.7h0M445.8 472.3h0M445.8 472.2h0M445.8 503.3h0M445.8 515.3h0M445.8 487.9h0M445.8 479.6h0M445.8 495.1h0M445.8 478.1h0M445.8 488.4h0M445.8 461.9h0M445.8 455.7h0M445.8 477.0h0M445.8 467.5h0M445.8 459.4h0M445.8 414.6h0M445.8 434.3h0M445.8 439.5h0M445.8 441.4h0M445.8 523.6h0M512.2 516.2h0M534.0 510.3h0M520.8 511.4h0M517.6 521.7h0M529.6 511.0h0M539.9 502.0h0M510.6 524.1h0M519.2 513.0h0M531.5 504.8h0M539.2 502.4h0M510.5 522.8h0M514.8 515.3h0M535.9 506.7h0M511.9 522.3h0M519.0 511.9h0M528.8 512.3h0M528.5 512.6h0M534.8 500.9h0M540.1 504.2h0M510.8 522.7h0M540.1 498.0h0M541.4 498.5h0M537.5 507.4h0M511.1 518.3h0M520.8 517.8h0M514.0 515.5h0M509.9 519.8h0M509.7 522.7h0M520.7 518.5h0M514.2 521.4h0M533.2 508.2h0M531.8 506.4h0M533.3 508.5h0M530.6 512.8h0M518.8 514.0h0M522.2 517.9h0M533.2 503.9h0M539.9 502.9h0M529.1 506.7h0M529.7 505.4h0M515.8 521.7h0M523.1 516.1h0M513.7 516.6h0M523.7 517.0h0M511.9 521.4h0M525.7 514.5h0M530.6 511.9h0M528.0 507.8h0M529.7 514.3h0M536.9 500.9h0M512.4 523.0h0M527.9 515.1h0M533.4 505.8h0M514.7 522.4h0M522.4 517.6h0M521.4 509.2h0M525.7 509.1h0M510.4 516.7h0M525.2 517.6h0M515.8 516.0h0M529.8 508.4h0M526.4 514.1h0M531.5 507.1h0M530.8 506.2h0M515.0 516.6h0M513.8 515.5h0M536.2 507.4h0M519.4 513.5h0M511.2 521.6h0M511.5 517.3h0M531.8 505.2h0M521.4 508.9h0M515.2 521.8h0M526.3 516.3h0M517.8 515.1h0M514.3 515.7h0M516.8 514.8h0M526.1 518.2h0M525.5 517.7h0M532.9 510.8h0M548.8 486.7h0M537.9 498.8h0M540.6 498.5h0M547.6 494.5h0M551.7 485.4h0M550.1 484.6h0M541.6 494.9h0M542.7 497.9h0M550.2 481.5h0M548.6 481.1h0M545.6 496.1h0M547.1 491.6h0M550.4 491.8h0M542.9 491.2h0M541.8 492.7h0M549.1 488.9h0M549.8 490.9h0M549.4 483.4h0M549.0 490.9h0M553.1 477.8h0M550.3 489.9h0M545.7 483.9h0M546.2 490.2h0M548.5 492.0h0M549.7 488.5h0M540.5 498.6h0M542.6 489.5h0M548.2 481.4h0M548.8 478.4h0M542.7 485.0h0M551.4 483.7h0M554.6 481.1h0M556.4 481.1h0M537.5 491.6h0M542.7 491.6h0M547.2 488.1h0M549.3 491.6h0M552.5 494.2h0M558.5 488.9h0M560.3 497.3h0M558.5 501.8h0M554.0 501.3h0M564.5 501.8h0M564.5 505.8h0M560.3 511.0h0M563.0 510.5h0M569.0 493.4h0M574.3 484.7h0M580.3 490.2h0M576.9 498.7h0M582.9 478.2h0M556.4 520.5h0M594.0 507.9h0M598.7 472.4h0M614.2 468.4h0M611.8 456.1h0M650.5 486.8h0M659.7 458.5h0M673.6 451.9h0M579.0 460.0h0M558.0 460.0h0M574.3 438.7h0M560.3 433.2h0M569.3 414.3h0M540.1 498.7h0M534.8 498.7h0M544.0 486.8h0M551.9 489.5h0M532.2 505.2h0M529.6 502.6h0M52.7 678.0h0M52.7 678.4h0M52.7 678.0h0M52.7 679.2h0M52.7 677.5h0M52.7 679.2h0M52.7 677.5h0M52.7 679.0h0M52.7 680.3h0M52.7 679.6h0M72.4 652.2h0M72.4 650.7h0M72.4 658.4h0M72.4 670.3h0M72.4 658.4h0M72.4 664.2h0M72.4 657.9h0M72.4 645.3h0M72.4 659.8h0M72.4 660.0h0M72.4 660.0h0M72.4 651.5h0M72.4 650.6h0M72.4 652.4h0M72.4 643.8h0M72.4 647.5h0M72.4 651.2h0M72.4 657.6h0M72.4 669.1h0M72.4 663.1h0M72.4 657.7h0M72.4 663.5h0M72.4 655.7h0M72.4 644.3h0M72.4 662.6h0M72.4 663.2h0M72.4 661.7h0M72.4 667.4h0M72.4 665.4h0M72.4 666.7h0M72.4 644.2h0M72.4 671.6h0M72.4 659.8h0M72.4 660.0h0M72.4 660.5h0M72.4 650.7h0M72.4 651.6h0M72.4 668.1h0M72.4 660.2h0M72.4 670.5h0M72.4 676.5h0M72.4 680.1h0M92.9 661.7h0M92.9 659.2h0M92.9 646.4h0M92.9 658.0h0M92.9 644.3h0M92.9 669.6h0M92.9 667.7h0M92.9 648.3h0M92.9 661.0h0M92.9 649.8h0M92.9 667.9h0M92.9 650.1h0M92.9 649.6h0M92.9 653.4h0M92.9 676.7h0M92.9 671.5h0M92.9 657.4h0M92.9 670.7h0M92.9 656.0h0M92.9 650.1h0M92.9 674.2h0M92.9 645.0h0M92.9 670.7h0M92.9 676.3h0M92.9 646.6h0M92.9 672.9h0M92.9 670.2h0M92.9 645.1h0M92.9 658.8h0M92.9 652.5h0M92.9 656.8h0M92.9 656.7h0M92.9 657.1h0M92.9 644.0h0M92.9 652.9h0M92.9 653.6h0M92.9 665.8h0M92.9 667.4h0M92.9 669.2h0M92.9 665.4h0M113.6 637.1h0M113.6 649.4h0M113.6 650.2h0M113.6 656.5h0M134.1 648.9h0M134.1 664.4h0M153.8 621.0h0M153.8 642.3h0M153.8 649.4h0M153.8 654.7h0M173.5 630.5h0M173.5 632.8h0M173.5 637.6h0M194.3 637.6h0M215.3 570.0h0M445.8 568.7h0M445.8 571.4h0M445.8 574.5h0M445.8 576.6h0M445.8 579.2h0M445.8 581.1h0M445.8 586.3h0M445.8 589.0h0M445.8 590.3h0M445.8 595.0h0M445.8 596.8h0M445.8 598.7h0M445.8 600.8h0M445.8 603.4h0M445.8 605.5h0M445.8 611.3h0M445.8 612.6h0M445.8 615.2h0M445.8 617.9h0M445.8 619.7h0M445.8 626.5h0M445.8 628.4h0M445.8 631.0h0M445.8 633.6h0M445.8 635.5h0M445.8 637.6h0M445.8 640.2h0M445.8 642.3h0M445.8 650.7h0M445.8 654.7h0M445.8 657.3h0M509.9 665.2h0M511.2 663.9h0M512.5 666.5h0M513.0 661.2h0M513.8 659.1h0M515.1 663.3h0M516.5 658.6h0M517.2 661.2h0M518.3 664.4h0M519.1 656.5h0M519.9 662.5h0M520.9 646.0h0M521.7 657.3h0M523.0 659.9h0M525.1 652.8h0M526.2 662.5h0M527.0 665.2h0M525.6 667.0h0M534.8 638.1h0M534.8 646.0h0M534.1 652.8h0M534.1 659.9h0M534.8 663.9h0M538.8 658.6h0M540.9 662.5h0M541.4 669.1h0M540.1 669.6h0M544.0 674.4h0M548.0 669.1h0M549.3 667.8h0M548.0 677.0h0M550.6 671.7h0M553.2 669.6h0M554.6 671.7h0M555.9 672.3h0M559.3 657.3h0M559.3 680.1h0M562.4 675.7h0M563.8 670.4h0M564.5 662.5h0M565.1 659.1h0M565.1 667.8h0M565.9 669.6h0M567.2 642.3h0M571.6 660.7h0M582.9 662.5h0M584.8 671.7h0M587.4 656.0h0M590.8 656.0h0M590.8 667.8h0M596.6 676.5h0M599.8 672.3h0M601.9 656.0h0M603.2 679.1h0M604.5 669.1h0M607.1 652.6h0M611.1 666.5h0M615.5 671.7h0M615.0 678.8h0M626.0 659.1h0M632.1 671.7h0M634.7 659.9h0M636.0 656.0h0M636.5 669.6h0M640.0 657.8h0M641.3 663.9h0M642.6 668.6h0M643.9 670.4h0M647.8 662.5h0M647.8 674.4h0M653.9 657.3h0M654.4 661.2h0M658.9 671.2h0M661.8 654.7h0M662.3 658.6h0M662.8 660.7h0M668.1 657.3h0M668.9 660.7h0M671.5 638.4h0M672.8 569.5h0M673.9 569.5h0M672.8 570.6h0M673.9 570.6h0M510.7 666.0h0M512.0 665.2h0M515.7 661.8h0M514.4 665.2h0M52.5 876.6h0M52.9 866.3h0M52.5 871.2h0M52.5 858.4h0M52.6 865.6h0M52.7 871.6h0M52.9 863.5h0M52.7 855.5h0M52.9 865.5h0M52.9 874.3h0M52.9 865.3h0M52.6 878.1h0M52.7 867.7h0M52.4 875.7h0M52.6 854.7h0M52.6 869.5h0M52.5 866.5h0M52.8 862.7h0M52.6 876.2h0M52.5 856.1h0M52.5 865.9h0M52.4 861.5h0M52.8 877.7h0M52.7 873.2h0M52.7 858.8h0M52.6 857.0h0M52.9 854.4h0M52.6 858.3h0M52.7 876.9h0M52.8 875.5h0M52.9 873.7h0M52.8 863.8h0M52.9 865.8h0M52.5 868.1h0M52.9 873.9h0M52.8 854.0h0M52.6 858.4h0M52.8 868.3h0M52.9 857.4h0M52.8 877.1h0M214.3 801.7h0M214.4 805.0h0M214.5 806.3h0M214.4 803.1h0M214.0 779.7h0M213.8 784.1h0M214.7 781.1h0M214.7 792.6h0M214.3 779.3h0M214.4 795.4h0M213.9 807.8h0M214.2 809.7h0M214.4 778.4h0M214.5 799.8h0M214.0 781.9h0M213.9 805.8h0M214.7 778.2h0M214.6 780.6h0M214.0 787.9h0M214.6 777.3h0M214.6 799.1h0M214.0 784.0h0M214.6 801.0h0M214.2 808.7h0M214.1 792.7h0M213.9 792.7h0M214.4 810.2h0M214.4 787.5h0M214.3 806.5h0M213.9 800.8h0M214.6 777.4h0M214.1 787.0h0M214.0 801.1h0M214.4 778.6h0M214.0 805.6h0M214.7 807.4h0M214.4 802.3h0M214.6 804.1h0M214.1 797.0h0M214.2 804.0h0M214.0 792.7h0M214.0 790.7h0M214.2 800.5h0M214.6 792.6h0M214.3 787.4h0M214.6 785.9h0M213.9 791.6h0M214.1 789.8h0M213.8 802.2h0M214.7 803.2h0M213.8 803.6h0M214.3 805.2h0M214.5 789.2h0M214.0 789.4h0M214.8 805.0h0M214.8 783.1h0M214.0 800.4h0M290.9 859.9h0M309.8 837.5h0M314.4 818.4h0M313.4 829.5h0M313.1 833.6h0M289.5 877.9h0M301.2 851.6h0M301.4 840.2h0M301.2 850.1h0M308.0 820.8h0M287.3 880.5h0M309.8 816.7h0M282.5 877.9h0M291.7 870.8h0M299.9 842.8h0M300.0 861.6h0M312.0 832.6h0M302.9 849.4h0M301.4 848.6h0M292.8 871.3h0M298.7 862.7h0M309.8 836.4h0M302.5 837.2h0M312.2 815.9h0M299.7 843.4h0M302.5 836.8h0M308.1 819.1h0M307.4 822.7h0M299.8 843.6h0M299.4 838.3h0M300.5 838.5h0M298.0 856.6h0M312.8 826.9h0M285.4 864.5h0M297.7 848.4h0M293.3 860.1h0M304.0 843.8h0M298.6 842.4h0M287.2 862.0h0M300.6 858.5h0M307.5 823.9h0M297.7 856.1h0M302.1 838.0h0M301.7 834.2h0M311.9 824.1h0M285.4 867.9h0M287.0 880.7h0M291.0 860.5h0M292.3 871.0h0M308.1 837.3h0M300.8 849.9h0M295.0 853.3h0M294.0 870.2h0M312.3 820.3h0M307.4 826.0h0M296.1 856.4h0M296.0 858.5h0M296.1 863.8h0M288.2 878.6h0M308.7 824.2h0M304.5 846.8h0M307.5 841.6h0M312.8 815.7h0M309.1 815.4h0M312.4 822.7h0M300.0 834.7h0M302.5 848.0h0M306.8 826.8h0M313.2 815.3h0M297.2 857.1h0M286.8 878.9h0M284.1 867.8h0M304.8 844.4h0M308.5 838.0h0M301.8 834.5h0M286.2 878.8h0M284.0 872.3h0M299.5 844.6h0M300.9 834.8h0M309.3 835.1h0M312.9 828.4h0M303.9 845.8h0M297.6 865.3h0M284.8 876.2h0M312.6 824.3h0M308.9 828.0h0M307.8 841.4h0M313.4 821.3h0M302.8 835.0h0M285.1 878.4h0M301.8 839.4h0M308.2 819.8h0M304.3 835.8h0M304.9 831.3h0M308.7 836.5h0M300.9 835.8h0M297.2 864.5h0M303.3 831.7h0M307.0 822.0h0M306.8 823.2h0M293.5 870.5h0M311.7 831.3h0M286.9 878.4h0M284.0 877.5h0M287.9 876.3h0M298.3 855.9h0M293.2 870.5h0M284.3 873.2h0M295.9 863.6h0M313.5 833.9h0M306.8 841.4h0M306.7 827.3h0M305.7 828.8h0M293.0 860.2h0M289.5 860.0h0M308.8 834.0h0M300.6 834.4h0M285.5 874.0h0M294.5 858.7h0M294.7 858.9h0M446.3 788.9h0M446.8 788.3h0M293.1 846.7h0M290.5 852.5h0M295.7 851.1h0M335.2 794.0h0M337.3 794.2h0M329.3 806.2h0M321.1 795.8h0M332.6 794.9h0M327.3 796.6h0M314.8 793.1h0M339.9 803.1h0M327.1 794.8h0M338.7 801.9h0M328.1 794.5h0M317.9 806.3h0M321.2 794.2h0M318.2 803.9h0M327.1 806.4h0M325.1 796.4h0M339.3 794.5h0M340.2 797.5h0M338.3 800.5h0M326.3 806.1h0M312.6 794.1h0M324.3 793.3h0M323.1 805.6h0M319.2 793.8h0M310.8 807.1h0M338.5 795.5h0M314.2 794.8h0M317.6 805.5h0M330.9 795.3h0M311.5 793.9h0M312.3 802.3h0M311.1 803.4h0M311.9 803.5h0M318.7 794.5h0M314.8 794.7h0M338.9 797.7h0M337.8 799.1h0M338.7 798.3h0M332.8 805.8h0M318.3 806.5h0M315.3 805.8h0M312.5 799.6h0M324.8 806.0h0M313.6 804.7h0M319.3 795.0h0M315.3 796.1h0M340.6 801.9h0M312.6 803.5h0M339.6 796.3h0M321.6 793.7h0M321.3 794.7h0M329.3 794.2h0M310.5 805.5h0M338.0 794.3h0M312.9 805.3h0M311.8 800.7h0M318.1 806.4h0M314.2 799.6h0M332.0 793.6h0M328.3 794.1h0M329.8 795.6h0M314.7 793.5h0M313.6 799.8h0M330.7 796.0h0M329.0 805.2h0M333.3 794.5h0M336.4 806.1h0M339.5 799.1h0M321.9 806.8h0M328.8 794.2h0M334.3 794.2h0M323.0 792.8h0M338.0 793.8h0M314.2 803.0h0M312.7 798.4h0M311.5 795.8h0M313.7 804.7h0M320.1 806.5h0M318.7 795.0h0M324.4 793.6h0M313.3 803.7h0M328.1 792.8h0M311.6 800.0h0M337.6 803.8h0M311.4 796.2h0M339.3 807.5h0M324.2 795.0h0M332.0 803.7h0M338.6 801.0h0M317.7 793.1h0M321.2 814.6h0M334.3 810.3h0M305.2 831.3h0M310.3 821.3h0M330.0 815.0h0M338.1 815.4h0M311.2 807.7h0M337.0 811.9h0M337.0 818.7h0M338.3 808.3h0M330.1 809.6h0M340.6 828.5h0M318.8 808.2h0M307.3 823.9h0M310.1 820.2h0M316.5 813.6h0M320.3 825.3h0M327.5 809.6h0M313.5 820.0h0M315.6 824.4h0M304.8 831.0h0M311.7 819.8h0M331.3 806.5h0M334.9 825.8h0M332.9 810.4h0M332.5 821.8h0M335.5 817.1h0M313.9 816.2h0M329.1 809.7h0M309.9 824.2h0M336.8 824.8h0M338.7 813.8h0M317.0 816.3h0M317.1 813.4h0M333.1 813.8h0M319.3 819.2h0M329.4 815.1h0M333.4 816.8h0M316.4 813.3h0M314.7 805.9h0M330.8 821.3h0M327.4 821.9h0M318.0 818.8h0M316.8 810.1h0M325.0 822.3h0M330.7 824.4h0M317.6 809.0h0M325.6 827.7h0M308.3 827.7h0M324.5 807.7h0M322.9 812.6h0M311.6 824.7h0M306.6 827.7h0M324.7 809.7h0M329.5 820.3h0M312.2 821.0h0M320.3 806.8h0M330.0 826.0h0M317.6 824.0h0M326.3 807.3h0M330.6 813.5h0M319.6 823.3h0M322.5 813.7h0M336.1 808.5h0M326.1 811.0h0M332.1 824.3h0M311.9 826.4h0M310.5 818.8h0M316.4 823.7h0M334.8 807.7h0M330.1 815.6h0M339.8 811.9h0M339.1 827.2h0M332.0 823.0h0M336.5 812.4h0M326.3 824.5h0M312.4 819.7h0M325.5 814.7h0M305.5 832.6h0M333.6 816.1h0M323.5 822.5h0M339.2 821.6h0M330.6 828.5h0M307.6 822.3h0M337.9 810.4h0M332.6 813.7h0M336.2 828.0h0M317.7 822.2h0M324.3 808.0h0M323.6 806.4h0M308.9 819.7h0M320.9 807.8h0M316.5 813.9h0M314.5 818.3h0M312.6 826.1h0M338.4 827.2h0M306.8 829.1h0M330.7 813.2h0M322.2 818.2h0M328.5 828.7h0M305.1 825.9h0M333.5 818.9h0M313.2 819.6h0M324.2 818.1h0M315.6 824.7h0M336.7 813.4h0M336.4 807.4h0M329.3 815.5h0M323.2 815.8h0M340.2 817.6h0M338.9 820.5h0M337.0 818.4h0M340.4 819.3h0M313.5 810.8h0M329.0 816.1h0M336.1 811.4h0M338.3 811.2h0M313.9 815.4h0M313.6 817.5h0M333.5 807.8h0M312.9 807.3h0M332.5 809.2h0M315.6 809.1h0M307.4 830.2h0M332.3 823.9h0M315.7 825.7h0M309.4 830.7h0M325.9 822.0h0M335.5 822.3h0M307.1 823.1h0M314.7 823.8h0M334.6 815.8h0M313.9 814.9h0M328.0 827.0h0M332.2 827.1h0M335.4 826.2h0M320.8 817.5h0M335.5 810.0h0M335.7 817.1h0M306.1 829.2h0M322.6 813.2h0M318.7 824.5h0M338.2 821.0h0M320.9 820.7h0M338.3 816.2h0M338.6 825.2h0M333.9 828.8h0M333.7 822.7h0M340.4 824.6h0M309.1 831.5h0M307.2 821.0h0M318.2 814.0h0M312.7 808.3h0M317.8 808.6h0M326.9 814.9h0M336.6 826.7h0M332.7 808.4h0M339.7 822.1h0M323.9 824.9h0M310.8 819.1h0M308.4 831.8h0M322.3 809.6h0M339.6 822.2h0M331.7 828.5h0M329.5 818.3h0M314.3 807.3h0M326.9 808.9h0M309.1 831.8h0M340.1 820.6h0M315.5 815.2h0M324.9 809.8h0M320.7 809.7h0M330.6 826.9h0M308.3 817.4h0M306.1 825.7h0M310.7 825.3h0M324.7 825.4h0M329.8 828.0h0M321.6 821.9h0M313.2 820.0h0M307.2 832.8h0M338.1 807.9h0M323.3 819.4h0M316.4 823.4h0M318.7 817.3h0M307.0 830.1h0M321.5 815.8h0M310.1 817.2h0M318.3 816.0h0M334.0 808.2h0M308.3 821.9h0M324.9 821.9h0M318.7 815.0h0M335.2 812.7h0M336.1 825.8h0M335.1 823.8h0M307.8 826.0h0M322.2 811.0h0M324.8 807.5h0M308.3 827.6h0M324.9 821.8h0M331.7 828.8h0M330.1 806.1h0M323.0 820.6h0M336.5 807.6h0M309.2 816.6h0M332.6 810.5h0M332.4 822.6h0M336.2 815.5h0M318.7 807.5h0M323.0 827.7h0M322.8 820.5h0M337.6 827.5h0M330.6 814.3h0M311.7 824.9h0M322.6 822.7h0M308.7 827.4h0M335.6 817.7h0M339.8 809.3h0M323.8 818.2h0M317.2 813.9h0M312.1 825.4h0M306.1 833.6h0M314.8 817.2h0M318.2 811.9h0M307.1 818.9h0M304.8 832.1h0M317.1 811.6h0M319.2 805.0h0M315.8 819.0h0M307.9 815.6h0M305.6 821.9h0M319.4 806.7h0M308.4 830.1h0M310.9 809.5h0M306.8 816.2h0M308.5 814.6h0M320.0 805.8h0M317.1 815.2h0M317.3 812.7h0M317.5 805.6h0M305.4 830.3h0M316.5 819.1h0M309.0 810.6h0M318.9 806.5h0M304.7 832.1h0M306.4 831.0h0M309.2 810.3h0M311.4 827.1h0M307.1 830.8h0M305.5 832.7h0M304.4 832.6h0M303.9 824.9h0M316.8 814.5h0M304.3 820.1h0M315.9 821.3h0M311.4 807.8h0M305.4 832.3h0M315.9 815.7h0M307.5 833.6h0M314.5 777.6h0M318.4 780.2h0M319.7 782.8h0M322.3 782.2h0M324.3 783.5h0M326.9 785.5h0M328.2 789.4h0M330.2 790.7h0M332.8 788.1h0M332.2 792.7h0M314.5 784.1h0M317.1 785.5h0M319.7 788.1h0M321.0 790.7h0M315.8 790.7h0M318.4 792.7h0M325.0 794.6h0M327.6 795.3h0M330.2 796.6h0M334.2 797.3h0M338.1 796.0h0M340.1 795.3h0M313.1 793.3h0M316.4 788.1h0M323.6 792.0h0M326.3 792.0h0M335.5 794.0h0M338.1 776.9h0M338.1 780.2h0M344.7 776.9h0M340.7 786.8h0M346.0 794.0h0M346.0 796.0h0M349.9 803.2h0M358.5 802.5h0M367.0 804.5h0M349.9 809.1h0M355.8 809.8h0M343.4 810.4h0M344.7 817.0h0M347.3 819.6h0M349.3 820.9h0M352.6 823.6h0M355.2 826.2h0M357.8 827.5h0M363.7 829.5h0M375.5 825.1h0M386.7 816.3h0M347.3 833.4h0M348.6 829.5h0M343.4 827.5h0M314.5 832.8h0M323.6 830.8h0M342.0 803.8h0M343.4 806.5h0M342.0 814.4h0M343.4 822.2h0M341.4 824.9h0M345.3 823.6h0M342.0 797.3h0M344.0 801.2h0M315.1 780.9h0M321.0 785.5h0M313.1 788.1h0M375.9 825.4h0M386.4 816.5h0M364.0 830.1h0M366.7 804.4h0M358.8 803.1h0M352.2 803.8h0M615.7 814.5h0M644.7 783.1h0M523.1 880.2h0M619.8 797.4h0M588.2 824.2h0M567.3 842.4h0M564.4 858.9h0M586.0 835.5h0M564.5 852.0h0M570.8 827.9h0M622.6 813.6h0M648.2 807.0h0M534.7 876.5h0M640.2 788.7h0M588.8 823.4h0M606.5 803.3h0M656.6 802.6h0M509.1 870.0h0M592.3 833.1h0M584.1 836.1h0M661.5 791.1h0M638.8 790.6h0M524.8 880.1h0M657.4 782.2h0M552.6 847.6h0M564.9 848.3h0M574.2 828.0h0M635.5 790.3h0M619.8 813.6h0M557.0 862.6h0M513.1 861.9h0M603.9 821.3h0M558.4 847.3h0M610.9 814.9h0M622.2 812.6h0M652.6 802.4h0M647.6 781.8h0M646.9 811.8h0M516.0 875.4h0M622.9 796.5h0M660.4 791.4h0M561.6 842.5h0M634.4 790.4h0M526.1 860.6h0M534.1 880.8h0M619.2 800.4h0M522.4 880.5h0M557.1 848.1h0M601.2 821.3h0M622.8 812.9h0M602.2 823.9h0M564.9 850.9h0M534.7 852.7h0M575.8 840.6h0M518.9 856.1h0M604.2 805.7h0M553.2 865.4h0M636.0 810.6h0M525.3 878.9h0M544.9 867.7h0M647.7 783.8h0M598.5 811.1h0M574.4 826.5h0M525.3 860.0h0M582.2 833.9h0M565.6 856.5h0M526.9 858.8h0M661.7 798.0h0M557.7 863.0h0M608.8 817.4h0M646.4 785.2h0M517.8 879.0h0M646.1 782.2h0M607.8 803.0h0M660.0 798.8h0M621.4 799.2h0M637.0 788.5h0M661.1 799.1h0M536.3 854.7h0M623.8 813.3h0M631.2 810.5h0M584.7 835.6h0M588.8 823.4h0M527.4 856.1h0M587.8 835.9h0M629.8 796.5h0M623.5 811.0h0M596.7 815.1h0M623.5 799.2h0M594.3 818.4h0M660.3 797.6h0M605.1 818.6h0M587.5 826.7h0M607.6 801.6h0M660.0 787.9h0M589.9 831.1h0M627.7 797.4h0M530.4 860.8h0M651.5 804.6h0M657.2 784.5h0M512.0 863.9h0M631.5 809.5h0M528.4 861.3h0M607.4 817.4h0M538.2 853.6h0M631.1 793.1h0M523.3 855.4h0M625.1 814.3h0M565.2 834.6h0M522.1 879.5h0M570.1 829.7h0M514.4 873.8h0M534.4 879.1h0M650.8 804.4h0M659.8 790.3h0M635.3 790.2h0M573.0 841.0h0M567.7 829.8h0M623.6 799.8h0M533.4 858.2h0M646.9 780.7h0M569.7 828.2h0M530.5 880.0h0M655.1 782.2h0M581.0 828.6h0M598.1 812.8h0M564.3 832.0h0M541.6 854.1h0M528.9 860.7h0M585.1 835.8h0M548.6 851.0h0M552.4 863.6h0M512.2 874.2h0M533.8 877.4h0M567.1 834.8h0M564.5 851.7h0M624.1 811.7h0M518.5 878.6h0M601.2 808.0h0M622.5 811.3h0M619.6 814.6h0M570.8 828.6h0M625.8 811.9h0M583.7 839.4h0M563.1 858.1h0M550.5 867.6h0M520.4 857.5h0M568.8 839.9h0M612.3 801.7h0M566.4 842.8h0M560.8 842.7h0M631.0 794.0h0M642.0 787.9h0M591.9 831.8h0M617.5 814.0h0M563.1 861.2h0M514.2 861.1h0M599.8 809.8h0M579.1 838.9h0M589.2 825.1h0M553.9 864.1h0M605.9 801.8h0M599.8 822.5h0M530.0 861.4h0M529.4 877.4h0M549.7 851.2h0M643.0 785.7h0M635.9 791.0h0M606.5 806.3h0M646.2 808.4h0M650.6 804.3h0M563.8 852.9h0M512.3 873.4h0M563.6 854.9h0M581.6 837.9h0M575.2 828.6h0M580.4 828.4h0M513.5 861.0h0M541.0 851.2h0M563.2 850.9h0M528.3 858.9h0M597.0 816.6h0M631.3 791.3h0M562.6 839.7h0M619.1 799.6h0M590.2 822.1h0M640.0 785.4h0M566.6 830.4h0M519.6 856.1h0M535.1 878.1h0M575.9 841.6h0M566.3 843.7h0M591.7 820.0h0M521.0 880.8h0M556.9 863.4h0M640.3 787.0h0M602.9 810.0h0M562.5 853.1h0M518.6 858.9h0M634.4 809.7h0M543.4 868.7h0M532.6 878.9h0M529.6 878.3h0M649.3 780.6h0M516.6 859.6h0M623.5 798.0h0M597.2 813.9h0M632.3 811.2h0M582.6 837.0h0M510.3 870.7h0M609.0 803.6h0M626.5 796.9h0M541.9 854.9h0M557.7 861.0h0M659.2 799.3h0M587.0 828.0h0M655.8 800.8h0M662.6 794.0h0M564.8 860.3h0M585.7 826.9h0M512.2 862.4h0M541.9 845.4h0M549.8 849.3h0M554.2 843.3h0M558.2 846.7h0M641.0 780.2h0M646.2 776.8h0M659.4 778.4h0M667.2 784.1h0M669.9 793.3h0M671.2 798.6h0M659.4 814.4h0M642.3 829.3h0M646.2 814.4h0M616.0 817.0h0M629.1 819.6h0M634.4 813.0h0M648.8 802.5h0M654.1 799.9h0M656.7 805.2h0M513.5 869.5h0M664.6 792.6h0M669.7 788.4h0M671.4 794.7h0M671.3 792.3h0M662.2 796.6h0M661.8 796.3h0M669.0 788.4h0M669.9 789.9h0M670.7 794.2h0M672.4 789.3h0M664.2 795.5h0M660.3 794.0h0M664.7 796.8h0M664.0 790.8h0M660.9 794.2h0M669.2 793.3h0M666.7 794.1h0M668.4 796.8h0M671.9 790.8h0M667.7 789.6h0M672.2 795.3h0M671.1 788.8h0M667.0 792.8h0M668.3 796.5h0M666.1 795.7h0M665.0 794.2h0M669.9 787.4h0M668.0 797.1h0M664.7 791.8h0M668.8 790.2h0M640.9 785.6h0M642.3 786.0h0M640.5 780.2h0M649.9 780.0h0M646.6 786.7h0M645.1 781.2h0M654.7 782.4h0M641.1 782.2h0M647.4 785.6h0M654.4 779.0h0M654.9 782.8h0M652.7 782.5h0M649.3 779.7h0M642.6 782.4h0M646.9 785.8h0M653.1 779.3h0M654.0 780.9h0M650.9 783.7h0M656.2 783.2h0M650.0 784.9h0M52.2 1022.4h0M53.1 1020.7h0M52.3 1022.6h0M52.2 1026.1h0M53.0 1023.1h0M52.7 1022.8h0M52.2 1025.8h0M52.8 1024.2h0M52.7 1020.8h0M53.2 1022.7h0M53.1 1026.7h0M53.1 1020.0h0M52.7 1025.6h0M53.0 1022.1h0M52.9 1025.5h0M52.4 1021.0h0M52.9 1024.8h0M52.5 1026.4h0M69.9 1005.2h0M69.9 1000.4h0M69.8 1001.2h0M69.6 1006.4h0M70.1 1011.2h0M69.4 1010.6h0M69.8 1001.5h0M69.4 1007.0h0M70.0 1003.6h0M69.8 1002.2h0M69.9 1004.5h0M69.4 1008.9h0M69.7 1012.4h0M69.9 1000.6h0M69.7 1003.4h0M70.0 1009.9h0M69.3 1006.3h0M69.6 1004.8h0M69.4 1010.7h0M70.0 999.5h0M69.6 1012.7h0M70.0 1003.1h0M70.0 1011.3h0M69.3 1011.2h0M69.9 1011.2h0M70.1 1008.1h0M70.2 1008.5h0M69.3 999.9h0M69.3 1005.3h0M69.7 1008.2h0M70.0 1003.1h0M69.4 1009.0h0M70.3 1007.1h0M70.0 1008.8h0M69.3 1011.5h0M70.0 1004.0h0M69.7 1008.2h0M69.4 999.9h0M69.9 1010.6h0M70.0 1010.9h0M88.1 976.6h0M88.1 962.0h0M88.1 959.2h0M88.1 954.3h0M88.1 958.6h0M88.1 966.3h0M88.1 965.4h0M88.1 954.7h0M88.1 985.5h0M88.1 959.4h0M88.1 955.1h0M88.1 960.2h0M88.1 969.5h0M88.1 976.8h0M88.1 955.2h0M88.1 957.9h0M88.1 953.0h0M88.1 967.8h0M88.1 991.7h0M88.1 983.0h0M88.1 985.8h0M88.1 988.3h0M88.1 960.7h0M88.1 977.7h0M88.1 968.5h0M88.1 966.4h0M88.1 982.1h0M88.1 974.3h0M88.1 976.7h0M88.1 962.7h0M88.1 989.3h0M88.1 978.0h0M88.1 977.0h0M88.1 982.1h0M88.1 988.3h0M88.1 958.9h0M88.1 962.4h0M88.1 990.6h0M88.1 978.7h0M88.1 987.3h0M88.1 965.1h0M88.1 991.2h0M88.1 969.1h0M88.1 983.9h0M88.1 988.2h0M88.1 972.5h0M88.1 968.5h0M88.1 971.7h0M88.1 957.1h0M88.1 954.8h0M88.1 989.5h0M88.1 977.9h0M88.1 955.3h0M88.1 975.4h0M88.1 944.8h0M88.1 945.8h0M106.2 970.4h0M105.8 982.5h0M106.0 978.8h0M106.2 972.5h0M106.2 985.5h0M106.1 975.0h0M105.8 984.1h0M106.2 958.0h0M105.8 958.5h0M105.8 984.0h0M106.1 979.9h0M106.2 964.3h0M106.1 959.8h0M106.2 958.2h0M106.1 966.3h0M105.8 984.8h0M106.1 962.1h0M106.1 964.0h0M106.0 983.0h0M106.1 961.9h0M106.0 963.7h0M105.8 980.3h0M106.2 983.9h0M105.9 986.7h0M105.9 957.3h0M105.8 966.6h0M105.9 975.8h0M106.0 966.7h0M105.9 980.1h0M105.9 963.2h0M106.0 975.6h0M105.8 961.2h0M106.0 960.8h0M105.8 981.9h0M105.8 976.4h0M105.8 974.4h0M106.2 968.2h0M106.2 977.9h0M106.2 987.0h0M106.2 968.1h0M106.0 957.4h0M106.0 964.3h0M106.1 981.4h0M106.1 965.6h0M106.2 980.5h0M105.9 962.5h0M106.2 975.4h0M106.2 967.8h0M106.2 973.3h0M106.1 968.1h0M106.1 975.3h0M106.3 980.0h0M106.0 978.8h0M106.1 969.9h0M105.8 957.1h0M106.0 940.5h0M106.0 947.4h0M124.6 968.9h0M124.3 977.6h0M124.3 985.2h0M124.5 967.0h0M124.5 987.9h0M124.5 979.9h0M124.6 965.6h0M124.6 962.4h0M124.2 974.1h0M124.4 988.0h0M124.6 993.0h0M124.2 986.0h0M124.3 968.5h0M124.5 990.4h0M124.2 966.2h0M124.5 974.1h0M124.6 983.0h0M124.4 972.2h0M124.2 971.9h0M124.2 975.3h0M124.4 990.7h0M124.2 976.4h0M124.5 964.0h0M124.3 972.8h0M124.3 980.3h0M124.5 978.8h0M124.5 992.4h0M124.6 977.7h0M124.3 987.0h0M124.3 985.6h0M124.5 976.4h0M124.4 974.8h0M124.6 976.2h0M124.4 965.0h0M124.6 964.0h0M124.3 964.9h0M124.5 965.4h0M124.6 963.8h0M124.6 974.1h0M124.4 966.0h0M124.6 993.1h0M124.5 974.4h0M124.5 961.3h0M124.3 982.7h0M124.6 984.5h0M141.8 962.8h0M141.8 985.7h0M141.8 975.2h0M141.8 975.6h0M141.8 965.5h0M141.8 977.9h0M141.8 965.0h0M141.8 981.8h0M141.8 979.7h0M141.8 965.3h0M141.8 980.7h0M141.8 976.8h0M141.8 968.5h0M141.8 977.6h0M141.8 978.4h0M141.8 973.5h0M141.8 978.3h0M141.8 980.7h0M141.8 983.2h0M141.8 981.7h0M141.8 963.8h0M141.8 982.5h0M141.8 984.7h0M141.8 973.1h0M141.8 983.6h0M141.8 966.7h0M141.8 962.1h0M141.8 972.2h0M141.8 964.1h0M141.8 964.4h0M159.6 963.7h0M178.0 961.6h0M178.0 978.1h0M178.0 980.0h0M178.0 981.5h0M196.4 966.3h0M214.3 924.3h0M159.6 981.4h0M159.6 982.2h0M159.6 985.9h0M159.6 975.4h0M159.6 985.3h0M159.6 978.8h0M159.6 979.5h0M159.6 985.6h0M159.6 975.8h0M159.6 976.1h0M159.6 983.1h0M159.6 983.7h0M159.6 977.2h0M159.6 983.3h0M280.9 1016.3h0M281.5 1009.1h0M283.7 1025.7h0M281.0 1007.8h0M280.8 1024.9h0M281.2 1009.5h0M281.3 1020.6h0M283.8 1017.4h0M283.8 1020.9h0M283.0 1005.9h0M281.9 1026.6h0M283.8 1013.5h0M283.2 1002.5h0M281.0 1018.4h0M281.5 1002.6h0M283.5 1017.5h0M283.0 1019.3h0M282.3 1005.9h0M282.8 1003.6h0M281.7 1004.1h0M283.0 1017.7h0M281.3 1020.0h0M284.6 1024.6h0M284.0 1009.0h0M282.7 1003.1h0M284.6 1017.0h0M283.4 1022.4h0M283.0 1019.5h0M283.3 1013.3h0M283.5 1007.6h0M284.6 1019.6h0M283.8 1022.9h0M281.7 1006.3h0M281.0 1019.1h0M284.3 1020.7h0M283.6 1026.6h0M283.0 1010.3h0M282.7 1010.8h0M284.5 1001.7h0M280.9 1004.7h0M281.4 1020.0h0M282.0 1007.7h0M284.6 1024.3h0M283.5 1008.9h0M283.1 1021.3h0M282.1 1010.0h0M281.4 1020.3h0M280.8 1012.0h0M281.3 1006.1h0M281.4 1005.9h0M282.7 1008.0h0M282.2 1003.7h0M284.6 1023.2h0M284.3 1024.6h0M282.9 1021.3h0M281.4 1000.7h0M282.0 1023.6h0M280.9 1021.3h0M283.3 1022.5h0M282.3 1017.0h0M284.4 1006.0h0M282.0 1008.3h0M284.1 1010.7h0M282.3 1005.4h0M283.3 1001.3h0M282.1 1025.4h0M283.9 1010.7h0M281.6 1016.4h0M281.4 1003.3h0M281.0 1022.9h0M282.2 1020.2h0M295.8 1020.1h0M296.3 1015.3h0M295.6 1022.0h0M297.3 1017.5h0M296.0 1016.6h0M295.4 1015.9h0M297.6 1007.8h0M296.0 1017.6h0M297.7 1010.5h0M296.3 1008.6h0M296.9 1008.9h0M297.3 1010.0h0M296.5 1018.1h0M297.7 1012.2h0M297.3 1012.3h0M297.6 1014.4h0M296.5 1024.0h0M295.4 1011.7h0M295.5 1012.4h0M295.4 1011.6h0M296.5 1012.7h0M297.7 1012.4h0M296.6 1021.8h0M296.2 1024.4h0M295.3 1014.1h0M296.1 1022.5h0M295.5 1009.0h0M296.3 1015.6h0M296.3 1021.7h0M297.7 1008.7h0M296.1 1024.8h0M297.5 1014.2h0M295.1 1016.0h0M296.0 1023.9h0M297.1 1023.4h0M296.3 1010.8h0M295.2 1015.2h0M296.0 1020.1h0M296.6 1015.3h0M297.7 1023.7h0M295.7 1010.7h0M295.3 1024.4h0M297.2 1018.1h0M296.8 1018.0h0M296.0 1019.2h0M309.4 1013.8h0M309.3 1013.1h0M311.3 1016.6h0M310.8 1018.7h0M309.0 1012.8h0M311.2 1019.1h0M308.7 1014.1h0M311.3 1014.8h0M311.3 1012.4h0M308.9 1010.6h0M311.8 1011.8h0M311.5 1012.3h0M309.1 1014.3h0M310.7 1014.8h0M310.1 1018.5h0M309.0 1013.5h0M309.2 1017.7h0M309.2 1012.4h0M310.8 1014.7h0M310.4 1010.5h0M311.8 1019.0h0M309.5 1013.4h0M310.1 1016.4h0M309.8 1015.6h0M309.8 1014.8h0M310.5 1012.2h0M311.1 1018.3h0M310.8 1014.6h0M308.9 1011.1h0M309.4 1010.8h0M310.6 1015.0h0M311.1 1015.6h0M323.9 1019.5h0M323.1 1012.3h0M323.5 1013.7h0M325.1 1007.8h0M324.4 1014.5h0M324.7 1011.5h0M323.7 1014.6h0M323.1 1015.7h0M324.8 1009.6h0M323.7 1008.2h0M324.7 1017.3h0M322.7 1017.4h0M323.5 1021.2h0M324.4 1014.3h0M325.2 1008.1h0M323.1 1008.2h0M325.3 1021.0h0M324.4 1017.6h0M323.1 1009.5h0M322.6 1013.2h0M325.1 1009.9h0M324.4 1018.2h0M324.6 1017.6h0M323.7 1020.4h0M322.8 1016.5h0M323.9 1012.9h0M324.3 1020.1h0M323.3 1012.6h0M325.2 1017.6h0M324.7 1010.3h0M322.6 1011.1h0M323.3 1015.8h0M325.1 1011.3h0M324.6 1019.4h0M324.8 1014.5h0M323.0 1020.4h0M325.0 1015.7h0M324.4 1015.3h0M338.7 1011.5h0M336.7 1016.8h0M337.3 1008.5h0M338.6 1020.8h0M336.4 1005.4h0M338.7 1009.0h0M338.1 1017.4h0M337.4 1011.8h0M336.9 1020.5h0M337.7 1019.5h0M338.6 1016.7h0M336.8 1010.7h0M337.0 1012.2h0M337.7 1010.2h0M338.6 1009.8h0M337.4 1004.2h0M337.4 1008.8h0M339.0 1017.0h0M337.8 1014.1h0M338.5 1010.2h0M338.2 1010.1h0M337.8 1007.3h0M337.5 1005.4h0M338.1 1006.9h0M338.6 1015.6h0M336.7 1021.4h0M337.0 1016.8h0M336.9 1010.4h0M338.6 1014.5h0M337.2 1006.5h0M337.5 1005.5h0M337.7 1005.1h0M339.0 1014.6h0M336.3 1014.9h0M336.8 1006.9h0M338.7 1021.6h0M337.6 1006.6h0M337.3 1013.5h0M338.9 1016.1h0M336.6 1004.6h0M336.3 1009.0h0M338.8 1013.9h0M338.6 1016.7h0M337.8 1016.7h0M337.0 1016.4h0M338.5 1005.3h0M336.7 1005.0h0M351.5 1012.9h0M350.6 1009.4h0M351.1 1012.6h0M351.8 1007.2h0M352.1 1013.3h0M350.9 1013.2h0M350.5 1020.4h0M352.2 1012.2h0M350.9 1014.3h0M350.7 1009.2h0M350.8 1010.9h0M350.7 1010.2h0M350.4 1020.2h0M351.1 1008.8h0M350.5 1015.8h0M351.8 1018.3h0M350.3 1019.8h0M351.0 1016.6h0M352.7 1009.6h0M351.3 1019.5h0M352.5 1014.1h0M350.6 1014.2h0M352.2 1019.2h0M350.2 1007.3h0M352.7 1016.8h0M352.7 1017.4h0M352.0 1016.2h0M350.6 1009.7h0M352.1 1019.4h0M352.3 1010.3h0M351.9 1011.5h0M352.2 1018.4h0M350.7 1019.5h0M352.2 1010.7h0M350.6 1013.6h0M351.4 1018.6h0M365.3 998.8h0M365.2 994.8h0M364.9 995.7h0M366.4 1009.6h0M364.9 991.4h0M364.3 1000.9h0M365.4 1000.7h0M365.4 992.5h0M366.0 991.9h0M365.3 999.7h0M363.8 998.0h0M365.1 995.8h0M364.3 995.7h0M364.4 995.1h0M365.9 1004.2h0M366.5 1011.7h0M366.2 996.8h0M364.4 998.9h0M364.9 1005.5h0M366.2 996.8h0M366.1 992.8h0M363.9 1004.4h0M364.5 997.9h0M365.4 990.1h0M364.3 997.3h0M363.8 1009.5h0M364.4 991.2h0M365.3 1009.8h0M365.8 1003.7h0M365.8 1008.5h0M365.3 1002.5h0M365.4 1005.8h0M365.2 1009.7h0M366.0 993.8h0M365.6 992.5h0M365.7 1002.7h0M366.3 1000.7h0M364.1 1001.6h0M363.8 998.0h0M365.2 1011.8h0M365.0 1003.4h0M366.3 1003.6h0M364.6 990.7h0M365.7 996.2h0M365.7 996.3h0M364.4 1012.0h0M363.8 993.1h0M364.9 1001.2h0M364.3 1006.2h0M364.3 1003.8h0M365.0 1006.9h0M364.2 998.0h0M365.3 993.6h0M365.5 995.1h0M377.7 989.7h0M379.4 990.4h0M379.1 987.6h0M378.9 990.5h0M379.4 992.7h0M378.4 992.6h0M379.3 986.9h0M380.0 988.6h0M379.1 991.6h0M379.0 990.6h0M379.2 989.1h0M378.0 992.5h0M378.4 993.0h0M379.5 990.4h0M379.1 988.0h0M377.8 993.5h0M379.9 989.8h0M378.6 988.8h0M378.2 987.1h0M377.9 993.4h0M380.1 991.4h0M379.6 986.6h0M378.4 987.5h0M378.0 993.2h0M393.3 991.0h0M392.7 971.3h0M394.0 981.8h0M392.4 985.8h0M393.6 993.4h0M392.9 986.3h0M393.5 970.2h0M393.6 981.7h0M393.1 992.6h0M392.2 974.7h0M392.9 969.6h0M393.5 968.8h0M393.6 990.5h0M393.0 993.3h0M392.5 980.1h0M391.5 975.7h0M391.6 978.3h0M393.1 972.2h0M392.3 979.4h0M393.1 980.4h0M392.7 982.1h0M392.4 970.1h0M391.8 994.4h0M393.6 984.7h0M392.0 983.2h0M393.0 990.3h0M391.5 968.5h0M394.0 983.6h0M391.7 977.5h0M392.7 985.1h0M393.5 993.4h0M391.9 969.1h0M393.1 972.0h0M392.4 977.0h0M394.0 982.1h0M391.6 990.3h0M391.8 987.7h0M392.8 982.5h0M393.2 972.6h0M392.9 981.2h0M391.7 979.5h0M392.6 970.3h0M391.4 992.7h0M393.1 990.7h0M392.2 984.3h0M394.0 974.1h0M392.4 983.3h0M391.4 976.2h0M391.3 985.3h0M392.2 968.2h0M392.0 984.0h0M393.9 982.8h0M393.4 993.0h0M392.3 983.1h0M392.0 989.0h0M391.4 973.4h0M391.6 982.6h0M393.3 976.2h0M391.4 994.7h0M393.5 993.9h0M392.3 974.0h0M393.2 984.6h0M393.0 969.2h0M391.5 982.5h0M393.4 994.7h0M393.7 971.1h0M405.6 969.8h0M407.6 990.5h0M407.7 986.5h0M406.4 981.7h0M407.4 983.9h0M405.6 968.3h0M406.8 972.6h0M407.6 988.9h0M406.0 987.9h0M406.8 972.4h0M407.1 980.3h0M405.4 975.4h0M405.7 971.7h0M406.7 985.9h0M405.7 983.4h0M405.4 968.8h0M405.4 983.2h0M407.2 967.5h0M406.3 969.5h0M406.5 977.1h0M406.8 968.0h0M405.9 979.7h0M406.8 983.6h0M406.3 973.4h0M405.2 983.9h0M406.5 968.9h0M406.4 969.3h0M406.9 979.1h0M407.7 967.9h0M405.1 985.4h0M406.7 988.6h0M407.0 967.3h0M406.3 986.4h0M406.2 980.8h0M407.0 990.6h0M406.5 986.4h0M406.2 988.9h0M406.8 987.7h0M406.7 987.6h0M405.2 985.4h0M406.0 988.9h0M407.5 969.3h0M405.4 986.5h0M406.5 983.4h0M406.8 975.9h0M405.3 977.7h0M405.5 969.9h0M405.9 974.6h0M406.7 984.3h0M405.3 980.4h0M407.1 989.4h0M406.9 973.3h0M407.3 972.7h0M405.7 984.9h0M406.5 990.1h0M407.4 976.0h0M406.2 976.6h0M406.6 968.5h0M420.6 976.0h0M421.1 982.7h0M421.0 980.5h0M418.8 983.0h0M419.2 987.4h0M419.7 983.5h0M418.9 979.3h0M420.0 972.9h0M420.0 978.1h0M420.2 986.9h0M419.7 987.7h0M419.4 970.2h0M420.4 981.4h0M418.9 968.2h0M418.8 969.9h0M420.8 975.2h0M419.3 969.7h0M419.2 980.9h0M419.4 977.8h0M420.3 975.5h0M419.4 985.0h0M420.6 974.9h0M420.5 972.7h0M419.9 973.5h0M421.3 968.2h0M420.9 982.4h0M419.1 980.8h0M419.4 976.1h0M419.0 984.3h0M420.7 974.4h0M419.3 972.1h0M420.0 968.4h0M419.0 971.3h0M421.2 976.8h0M420.8 974.4h0M420.6 976.7h0M420.7 968.8h0M419.7 968.2h0M419.2 981.4h0M418.8 976.1h0M419.9 983.7h0M421.3 984.9h0M418.8 975.0h0M419.3 977.0h0M420.2 983.2h0M418.9 970.4h0M419.6 984.1h0M420.8 975.2h0M419.3 972.8h0M419.6 977.2h0M434.6 946.3h0M434.4 943.9h0M434.6 962.8h0M433.7 967.3h0M432.9 956.0h0M434.0 945.5h0M433.8 945.1h0M432.9 959.1h0M434.4 960.0h0M433.7 963.1h0M434.4 941.8h0M433.0 943.7h0M433.1 948.2h0M432.7 950.9h0M435.0 963.0h0M434.4 940.2h0M433.3 946.8h0M432.6 941.1h0M433.4 962.7h0M434.7 959.8h0M435.0 962.8h0M432.9 947.4h0M435.1 953.9h0M433.0 965.3h0M432.6 938.1h0M432.8 962.6h0M432.5 961.6h0M433.1 951.1h0M434.6 961.8h0M433.8 961.2h0M434.7 943.1h0M432.7 967.8h0M434.6 967.0h0M432.8 945.5h0M433.4 967.4h0M435.1 954.6h0M434.5 953.5h0M434.5 961.8h0M434.3 966.2h0M433.5 945.5h0M434.2 941.3h0M433.7 963.8h0M434.7 951.3h0M434.4 954.8h0M435.0 952.5h0M434.8 965.0h0M434.8 955.3h0M432.7 959.6h0M432.5 961.6h0M433.5 937.6h0M435.1 955.1h0M434.2 956.4h0M434.1 940.7h0M434.8 942.7h0M434.3 939.6h0M432.8 950.5h0M433.8 961.8h0M434.9 945.2h0M434.7 964.8h0M432.6 939.6h0M435.3 948.3h0M433.9 944.8h0M433.3 967.5h0M433.7 942.7h0M435.1 964.2h0M435.0 953.7h0M433.5 946.0h0M434.3 950.6h0M432.7 941.6h0M434.7 956.6h0M432.7 958.4h0M434.5 951.4h0M433.4 962.3h0M448.5 931.6h0M446.6 931.2h0M447.0 966.4h0M446.1 934.5h0M449.0 945.0h0M449.0 931.7h0M447.2 945.9h0M449.0 959.9h0M446.7 935.7h0M446.8 955.4h0M447.8 940.2h0M446.7 930.4h0M449.0 959.6h0M449.2 939.7h0M446.3 952.2h0M447.4 965.5h0M447.4 955.8h0M449.3 939.1h0M449.3 951.2h0M446.1 956.9h0M449.2 934.3h0M448.1 965.6h0M447.5 934.8h0M447.4 926.7h0M448.8 947.7h0M446.4 945.2h0M447.3 931.7h0M446.3 945.6h0M447.3 936.7h0M448.6 959.6h0M448.7 946.0h0M446.4 947.4h0M446.8 931.2h0M448.3 965.3h0M446.5 935.9h0M446.1 949.9h0M448.9 958.1h0M446.0 947.2h0M448.9 938.7h0M448.0 952.4h0M447.3 955.5h0M446.9 931.0h0M447.3 936.0h0M449.0 932.9h0M447.9 926.1h0M446.4 951.5h0M447.8 967.5h0M447.0 936.7h0M449.0 964.9h0M446.5 941.5h0M447.6 963.8h0M446.0 929.1h0M446.8 938.6h0M448.3 961.0h0M448.0 963.7h0M449.0 959.1h0M446.5 954.1h0M447.5 938.3h0M446.3 966.9h0M448.3 949.5h0M446.3 959.9h0M449.0 942.0h0M447.6 964.9h0M447.8 951.5h0M447.2 955.3h0M447.3 931.2h0M448.9 942.7h0M448.5 929.2h0M447.2 940.1h0M448.7 949.2h0M447.2 937.4h0M446.2 925.4h0M446.7 943.4h0M447.4 957.3h0M447.4 941.2h0M446.5 958.1h0M448.3 941.6h0M446.7 948.4h0M448.1 938.0h0M447.7 928.8h0M448.1 958.3h0M448.9 946.9h0M448.3 958.8h0M448.0 958.4h0M448.2 958.1h0M447.7 941.3h0M449.3 937.6h0M448.7 934.7h0M446.5 945.0h0M446.5 950.7h0M447.4 961.7h0M449.0 967.4h0M446.4 956.1h0M446.7 949.2h0M449.3 937.4h0M448.5 949.9h0M447.8 937.2h0M446.5 962.0h0M446.0 934.8h0M447.0 942.5h0M446.6 934.6h0M448.9 934.4h0M298.3 1001.0h0M295.7 1025.4h0M322.8 995.2h0M379.0 980.8h0M379.0 1000.5h0M379.0 1006.2h0M434.2 927.7h0M433.1 975.5h0M433.1 982.1h0M446.3 973.7h0M448.6 980.8h0M446.3 989.4h0M337.2 1002.6h0M509.1 1019.1h0M511.2 1018.9h0M510.9 1020.6h0M510.7 1018.8h0M511.3 1014.8h0M510.3 1022.5h0M510.1 1022.6h0M511.1 1025.2h0M510.4 1018.7h0M510.7 1013.1h0M509.4 1026.1h0M509.6 1011.3h0M509.5 1013.5h0M511.3 1022.1h0M511.8 1024.5h0M511.8 1025.8h0M510.6 1020.3h0M511.2 1015.4h0M509.3 1011.5h0M509.9 1022.5h0M511.7 1021.1h0M509.8 1012.9h0M509.4 1022.7h0M510.2 1025.9h0M511.2 1014.0h0M511.8 1020.5h0M509.1 1017.6h0M510.8 1020.6h0M511.4 1012.9h0M511.3 1025.1h0M511.6 1015.6h0M510.8 1021.1h0M511.4 1014.7h0M510.1 1013.9h0M510.7 1026.0h0M510.5 1015.1h0M510.2 1025.9h0M510.3 1024.5h0M511.0 1019.7h0M509.4 1019.8h0M522.7 1019.2h0M522.9 1017.6h0M525.4 1011.0h0M523.2 1013.0h0M525.4 1019.3h0M522.7 1013.9h0M524.5 1019.4h0M524.1 1013.6h0M524.0 1021.3h0M522.6 1013.5h0M524.2 1021.2h0M524.3 1013.4h0M525.0 1013.9h0M525.0 1010.7h0M524.9 1018.6h0M522.8 1009.4h0M525.1 1018.6h0M524.1 1014.9h0M525.1 1019.6h0M525.2 1016.5h0M522.8 1020.7h0M523.8 1015.1h0M524.0 1011.4h0M524.3 1020.4h0M525.3 1020.0h0M522.7 1019.3h0M524.3 1016.2h0M524.0 1011.8h0M523.0 1008.7h0M524.5 1019.0h0M524.7 1017.0h0M522.9 1014.1h0M522.9 1015.1h0M524.0 1018.7h0M525.3 1011.4h0M536.4 1020.0h0M538.3 1017.8h0M536.5 1014.4h0M537.9 1021.6h0M537.2 1015.4h0M537.8 1011.0h0M538.4 1017.0h0M536.7 1010.4h0M537.0 1020.4h0M536.5 1015.7h0M537.4 1018.8h0M536.4 1020.3h0M536.3 1019.4h0M538.3 1019.5h0M538.2 1019.4h0M536.3 1014.2h0M538.1 1009.6h0M538.1 1012.5h0M537.2 1017.7h0M537.0 1013.3h0M536.8 1022.0h0M537.9 1013.3h0M536.6 1018.4h0M537.8 1010.8h0M537.4 1015.1h0M537.7 1019.6h0M538.4 1021.0h0M536.8 1010.2h0M537.1 1019.7h0M537.6 1021.7h0M537.1 1009.5h0M538.1 1019.8h0M536.6 1009.8h0M538.8 1018.0h0M538.9 1022.0h0M551.6 1007.9h0M550.2 1014.0h0M550.7 1011.6h0M550.3 1011.6h0M549.9 1009.2h0M551.1 1014.9h0M550.9 1019.4h0M551.4 1009.8h0M550.9 1019.1h0M550.0 1018.5h0M552.2 1016.5h0M549.9 1020.8h0M549.9 1016.0h0M549.9 1019.3h0M552.0 1022.0h0M550.8 1020.2h0M552.5 1015.5h0M550.7 1010.7h0M551.0 1016.0h0M551.8 1018.0h0M552.5 1018.0h0M552.4 1012.5h0M550.9 1018.5h0M551.7 1011.4h0M550.0 1008.0h0M551.4 1022.0h0M551.6 1021.3h0M550.6 1013.0h0M551.7 1015.1h0M550.7 1006.1h0M552.0 1021.9h0M550.0 1011.8h0M551.3 1016.1h0M552.5 1008.1h0M551.6 1008.1h0M552.5 1015.7h0M552.5 1017.2h0M552.0 1022.4h0M552.1 1017.6h0M551.9 1016.1h0M551.3 1016.0h0M552.0 1010.4h0M552.0 1012.1h0M564.4 1021.9h0M564.8 1000.7h0M564.1 1001.5h0M564.5 1012.0h0M564.0 1018.3h0M564.6 1010.9h0M565.4 1010.0h0M563.5 1001.0h0M566.2 1015.6h0M563.8 1024.2h0M565.7 1015.8h0M564.2 1006.6h0M563.6 1016.3h0M565.6 1009.7h0M565.0 1009.6h0M564.2 1001.9h0M564.5 1018.2h0M565.9 1000.6h0M565.4 1021.4h0M564.2 1000.7h0M564.1 1019.8h0M565.0 1009.2h0M563.7 1009.2h0M564.1 1012.7h0M565.7 1005.1h0M565.5 1005.7h0M563.5 1018.2h0M564.7 1023.1h0M564.5 1004.0h0M565.5 1007.4h0M564.6 1024.9h0M564.0 1017.6h0M565.8 1023.3h0M564.0 1010.1h0M565.2 1019.6h0M564.2 1018.2h0M565.2 1019.0h0M563.9 1012.4h0M565.9 1007.8h0M564.5 1009.6h0M565.3 1004.1h0M565.5 1002.5h0M564.7 1010.0h0M564.9 1021.8h0M563.7 1008.7h0M564.9 1014.4h0M564.9 1021.0h0M565.9 1003.2h0M564.4 1009.7h0M563.8 1009.7h0M564.6 1018.2h0M565.6 1023.0h0M563.4 1000.7h0M563.5 1014.0h0M566.2 1000.6h0M565.0 1008.0h0M565.4 1010.5h0M564.7 1007.5h0M564.0 1010.8h0M579.8 1012.1h0M577.6 1003.5h0M579.7 1007.8h0M579.5 1002.9h0M578.7 1016.9h0M577.3 1006.6h0M579.7 1012.6h0M579.1 1002.4h0M578.1 1010.9h0M577.9 1004.6h0M579.7 1001.1h0M577.7 1005.0h0M579.3 1000.0h0M578.3 1010.8h0M579.0 1009.8h0M579.3 1015.8h0M577.3 999.3h0M577.7 1006.9h0M577.3 1018.5h0M578.2 1005.7h0M577.4 999.9h0M579.6 1014.8h0M579.2 1000.6h0M578.7 1013.0h0M577.6 1009.3h0M577.6 1016.3h0M578.7 1009.0h0M579.6 1012.3h0M579.7 1003.9h0M579.6 1018.4h0M577.9 1002.9h0M579.0 1015.5h0M578.5 1012.4h0M578.6 1008.4h0M578.9 1006.2h0M577.8 1000.4h0M577.8 1014.6h0M578.2 1003.3h0M577.7 1016.2h0M579.5 1016.5h0M578.0 1002.9h0M577.1 1004.5h0M578.8 1013.0h0M579.8 1014.0h0M578.6 999.7h0M577.8 1015.3h0M579.6 1015.1h0M578.8 1011.2h0M578.8 1016.6h0M590.8 1008.2h0M591.3 1014.3h0M593.3 1012.3h0M591.9 1009.9h0M591.2 1005.8h0M590.8 1014.6h0M592.4 1017.0h0M593.0 1001.0h0M591.3 999.7h0M592.8 1001.2h0M590.7 1016.3h0M591.0 1011.3h0M592.4 1007.0h0M590.9 1018.3h0M591.9 1017.7h0M592.0 1007.5h0M590.7 1006.5h0M592.9 1009.6h0M592.7 1010.8h0M592.9 1015.7h0M592.5 1016.4h0M591.4 1004.8h0M592.6 1015.9h0M592.2 1000.7h0M592.4 1003.3h0M592.8 1007.4h0M591.4 1000.7h0M593.2 1006.0h0M591.9 999.8h0M591.5 1015.0h0M592.1 1012.4h0M593.4 1004.3h0M592.6 1009.5h0M590.9 1006.8h0M591.4 1015.2h0M592.5 1005.0h0M593.3 1003.8h0M592.1 1014.4h0M592.1 1014.0h0M590.6 1013.0h0M591.0 1000.5h0M592.9 1000.0h0M591.3 1017.4h0M592.1 1018.2h0M592.6 1003.2h0M592.3 1008.8h0M592.8 1008.3h0M592.4 1004.8h0M606.9 1002.0h0M604.5 1010.3h0M605.7 1013.6h0M606.0 994.7h0M606.9 1021.7h0M607.0 1011.3h0M606.1 1022.0h0M605.9 1018.6h0M606.2 993.6h0M605.5 995.1h0M606.4 1018.4h0M606.6 1000.0h0M604.8 1020.1h0M605.7 1022.1h0M605.1 1015.8h0M604.6 1011.4h0M605.4 1005.9h0M605.9 1020.0h0M605.7 1011.6h0M605.3 995.5h0M605.8 1014.5h0M605.7 1002.6h0M604.3 996.7h0M606.2 1003.7h0M606.5 1018.5h0M605.5 1015.0h0M606.1 1004.1h0M604.9 1017.4h0M606.3 1009.5h0M605.5 1002.8h0M606.0 995.7h0M606.1 1013.1h0M605.4 1000.1h0M604.7 1007.9h0M606.9 999.9h0M606.6 1011.6h0M605.3 994.4h0M605.3 1001.0h0M606.6 1011.5h0M606.4 1018.0h0M605.0 1014.6h0M606.6 1001.3h0M605.2 1004.6h0M606.6 1007.7h0M604.5 1021.1h0M606.9 998.0h0M605.3 1016.4h0M606.8 996.1h0M604.9 1017.9h0M605.3 996.0h0M604.9 1004.2h0M605.9 1003.8h0M604.9 1012.7h0M606.1 1002.2h0M606.1 1016.9h0M606.4 1022.3h0M605.5 1014.2h0M605.4 993.3h0M604.9 995.5h0M605.6 1016.8h0M605.7 1004.9h0M605.0 1008.1h0M605.8 1018.1h0M604.7 1014.1h0M605.4 1008.5h0M605.1 1001.7h0M605.7 995.1h0M606.4 996.1h0M604.3 994.3h0M605.5 1004.7h0M619.8 982.5h0M618.5 987.9h0M620.1 996.0h0M620.3 993.9h0M619.9 995.6h0M619.9 997.7h0M619.7 987.6h0M619.4 988.3h0M618.9 984.3h0M619.9 987.3h0M619.0 993.5h0M618.3 994.6h0M620.4 995.5h0M620.4 991.8h0M618.2 981.4h0M620.1 994.1h0M619.6 998.4h0M618.8 999.0h0M618.8 980.8h0M618.2 988.4h0M619.1 990.8h0M618.4 993.6h0M619.7 997.3h0M620.5 980.9h0M618.7 999.6h0M618.6 989.6h0M619.3 1001.0h0M618.1 997.2h0M618.2 988.8h0M618.3 1000.6h0M620.2 990.2h0M619.2 982.6h0M620.1 984.6h0M620.2 991.8h0M618.7 996.5h0M618.3 987.0h0M618.0 1000.4h0M619.9 985.8h0M619.3 1001.2h0M620.2 994.2h0M619.7 996.0h0M618.3 988.6h0M619.2 991.7h0M619.0 987.9h0M618.2 991.1h0M618.2 998.3h0M619.8 996.7h0M619.7 997.9h0M619.0 989.1h0M618.2 986.7h0M618.6 993.0h0M619.1 1000.7h0M631.8 997.2h0M632.5 988.3h0M632.0 997.6h0M633.8 986.9h0M633.6 993.4h0M634.0 997.4h0M632.8 988.4h0M633.7 989.8h0M633.7 978.4h0M633.8 980.0h0M631.9 995.6h0M632.8 979.5h0M633.3 982.1h0M632.3 990.2h0M633.7 1002.3h0M633.2 1004.2h0M633.7 998.1h0M633.5 986.8h0M632.7 981.8h0M631.8 988.1h0M632.1 978.6h0M632.8 984.7h0M634.1 996.3h0M632.0 993.9h0M633.7 1002.4h0M632.2 985.5h0M633.1 988.3h0M634.0 997.0h0M632.7 983.8h0M632.0 983.5h0M632.3 1003.7h0M633.5 986.4h0M633.3 1000.9h0M633.2 987.9h0M632.0 1001.6h0M633.6 999.6h0M633.8 984.9h0M632.7 978.3h0M632.2 995.1h0M633.2 986.2h0M633.7 985.9h0M632.7 996.5h0M633.0 988.2h0M633.5 984.5h0M634.0 1000.5h0M631.6 998.7h0M633.4 999.0h0M631.6 985.8h0M632.2 1003.7h0M633.4 990.9h0M631.9 985.5h0M633.3 980.7h0M633.6 999.1h0M633.4 996.2h0M633.8 1002.6h0M633.2 979.5h0M632.9 978.4h0M634.2 1001.3h0M632.4 983.8h0M631.9 986.0h0M632.8 980.4h0M633.1 990.6h0M632.5 982.6h0M634.1 978.5h0M632.4 1003.1h0M645.4 983.6h0M647.7 991.1h0M646.2 984.3h0M646.1 993.1h0M647.6 985.8h0M647.4 987.5h0M645.7 994.4h0M645.4 994.2h0M647.6 980.6h0M646.1 991.8h0M646.3 991.8h0M645.5 987.3h0M646.2 987.5h0M647.6 992.6h0M647.6 996.4h0M645.6 996.4h0M646.9 997.8h0M645.4 991.0h0M646.5 985.1h0M647.3 995.4h0M645.8 983.1h0M646.7 979.9h0M645.6 982.5h0M645.8 980.7h0M646.8 988.7h0M646.0 988.1h0M645.6 1000.4h0M645.9 998.0h0M647.2 997.4h0M646.2 995.5h0M646.7 983.4h0M645.8 982.9h0M646.8 997.3h0M645.1 996.0h0M645.2 980.6h0M645.6 988.5h0M647.3 985.4h0M645.5 991.5h0M646.2 989.3h0M647.9 989.6h0M645.7 993.0h0M645.4 996.3h0M645.8 998.8h0M646.5 990.0h0M647.6 987.7h0M645.1 998.0h0M646.5 980.1h0M645.1 996.2h0M647.8 980.7h0M646.3 985.9h0M646.9 999.5h0M645.8 986.3h0M646.4 980.6h0M660.6 975.2h0M659.5 945.1h0M661.2 949.3h0M660.3 953.1h0M659.1 975.2h0M659.5 978.5h0M659.1 972.1h0M660.8 950.6h0M659.3 953.6h0M660.2 971.5h0M659.9 959.1h0M659.7 954.9h0M661.1 982.6h0M660.1 951.0h0M659.5 973.4h0M659.1 947.6h0M659.5 979.0h0M659.2 952.3h0M660.5 979.4h0M660.7 970.4h0M660.3 977.4h0M660.7 967.3h0M660.8 944.5h0M660.3 957.1h0M659.2 981.9h0M660.5 945.4h0M658.7 962.8h0M660.0 962.4h0M659.1 958.7h0M660.6 952.1h0M660.5 953.3h0M659.6 948.8h0M660.3 951.3h0M660.7 941.7h0M660.1 972.1h0M659.4 978.2h0M659.0 949.5h0M661.1 942.6h0M658.9 956.5h0M659.2 944.7h0M660.8 958.3h0M658.8 951.0h0M659.0 964.7h0M659.7 971.7h0M659.1 977.5h0M658.7 970.7h0M660.8 975.4h0M659.1 982.6h0M661.2 957.2h0M658.8 946.8h0M659.4 947.4h0M660.3 959.9h0M658.9 969.7h0M660.0 975.6h0M660.0 947.2h0M660.3 962.4h0M661.3 943.4h0M659.8 964.5h0M661.2 977.0h0M659.3 954.8h0M660.5 969.0h0M659.8 967.1h0M660.8 968.4h0M660.1 947.9h0M661.1 961.8h0M659.1 942.5h0M659.4 957.7h0M660.2 942.4h0M660.4 981.3h0M659.7 954.9h0M660.9 950.7h0M659.7 978.6h0M661.3 958.5h0M661.3 961.9h0M658.8 977.1h0M660.5 962.4h0M661.1 956.8h0M658.8 971.6h0M660.7 953.0h0M660.3 946.6h0M660.1 970.7h0M659.4 961.3h0M660.7 982.7h0M659.3 963.4h0M659.1 978.3h0M659.6 941.9h0M661.4 941.1h0M659.8 955.1h0M659.0 975.7h0M659.8 960.4h0M660.8 966.1h0M660.4 955.6h0M660.7 954.8h0M661.0 954.2h0M659.5 952.2h0M659.6 941.6h0M674.9 977.0h0M673.4 951.4h0M674.8 958.4h0M674.1 975.6h0M674.9 964.7h0M672.3 979.9h0M674.5 931.7h0M674.3 964.2h0M673.8 958.3h0M672.7 953.0h0M672.8 946.8h0M674.9 951.1h0M673.3 974.8h0M674.4 956.5h0M675.0 942.7h0M672.9 968.2h0M672.4 974.9h0M672.3 952.7h0M673.5 937.9h0M674.6 970.9h0M674.5 968.0h0M673.9 968.2h0M672.2 931.7h0M672.9 937.3h0M672.7 982.8h0M672.7 960.7h0M672.6 944.9h0M672.3 933.6h0M673.7 956.5h0M673.2 948.3h0M673.2 939.3h0M673.0 965.2h0M674.5 940.6h0M673.1 981.8h0M672.7 943.4h0M673.0 978.6h0M672.9 950.0h0M673.2 946.6h0M673.3 971.6h0M672.9 958.1h0M674.0 938.4h0M672.7 976.0h0M674.8 960.5h0M674.7 961.5h0M673.6 951.2h0M674.3 975.2h0M672.8 963.9h0M673.1 934.9h0M674.8 978.4h0M673.6 961.3h0M674.3 945.5h0M674.5 933.1h0M674.2 933.2h0M673.5 937.5h0M673.3 944.7h0M672.4 959.3h0M674.7 943.0h0M674.2 973.2h0M672.4 959.2h0M674.6 953.9h0M673.0 954.0h0M674.7 943.8h0M672.7 959.8h0M672.3 943.4h0M674.7 948.3h0M674.8 958.3h0M673.6 965.0h0M674.8 948.5h0M672.5 969.6h0M672.7 950.1h0M675.0 980.1h0M674.9 938.9h0M674.2 961.9h0M673.2 950.0h0M674.3 955.3h0M672.2 937.1h0M673.2 949.1h0M674.7 941.0h0M672.9 967.2h0M672.6 972.6h0M673.6 973.1h0M674.1 979.9h0M673.1 951.5h0M674.6 965.3h0M674.8 982.3h0M672.9 957.7h0M673.3 958.8h0M674.6 966.1h0M673.7 932.5h0M674.4 976.5h0M673.1 953.3h0M674.6 971.5h0M674.6 938.0h0M674.4 957.3h0M674.7 961.5h0M673.3 972.4h0M673.7 963.0h0M674.5 964.3h0M674.3 980.6h0M673.8 945.4h0M672.3 955.0h0M672.9 978.2h0M673.5 955.4h0M674.4 962.7h0M674.8 958.1h0M675.0 983.2h0M673.3 967.4h0M675.0 972.4h0M673.3 932.6h0M672.8 952.1h0M674.9 971.0h0M672.5 939.9h0M673.6 972.8h0M674.4 980.4h0M674.0 971.8h0M674.7 969.7h0M673.7 945.7h0M673.5 937.4h0M551.1 1003.1h0M564.8 996.5h0M564.8 997.8h0M578.4 989.9h0M578.4 997.3h0M591.8 989.4h0M591.8 999.9h0M605.5 980.8h0M606.0 983.4h0M605.0 987.3h0M605.5 991.3h0M647.5 971.0h0M646.2 1001.8h0M659.4 934.8h0M673.3 923.7h0M673.3 930.8h0M619.1 1002.6h0M619.1 980.8h0M46.0 1140.1h0M45.9 1148.9h0M46.6 1147.1h0M46.2 1145.4h0M45.9 1150.6h0M47.3 1145.3h0M45.8 1151.0h0M46.2 1145.1h0M45.9 1153.5h0M47.0 1136.0h0M46.7 1140.8h0M47.2 1139.2h0M45.9 1156.7h0M47.0 1147.6h0M46.7 1158.6h0M45.6 1146.9h0M45.9 1158.4h0M47.1 1152.4h0M46.2 1157.1h0M45.7 1138.9h0M45.6 1160.3h0M45.9 1139.0h0M46.7 1152.7h0M45.6 1148.8h0M45.7 1140.7h0M47.1 1133.0h0M45.9 1131.2h0M46.7 1130.1h0M47.0 1146.7h0M46.9 1147.0h0M46.6 1133.1h0M46.3 1131.0h0M46.8 1130.4h0M46.1 1147.5h0M46.9 1152.9h0M46.8 1157.3h0M45.6 1144.2h0M45.4 1152.5h0M46.7 1137.1h0M46.3 1131.3h0M46.6 1147.4h0M46.7 1139.8h0M46.3 1142.1h0M45.6 1133.3h0M46.5 1151.0h0M45.9 1156.8h0M46.4 1152.5h0M45.4 1134.0h0M47.3 1138.1h0M45.7 1135.8h0M47.4 1160.1h0M47.0 1141.7h0M46.1 1134.3h0M46.5 1154.7h0M45.8 1136.3h0M45.4 1132.2h0M46.4 1141.2h0M45.5 1130.9h0M45.7 1143.8h0M45.5 1143.1h0M46.5 1139.4h0M46.7 1146.8h0M47.3 1153.9h0M44.8 1164.4h0M46.4 1164.4h0M47.9 1164.4h0M44.8 1167.0h0M46.4 1167.0h0M47.9 1167.0h0M44.8 1169.7h0M46.4 1169.7h0M47.9 1169.7h0M44.8 1173.6h0M46.4 1173.6h0M47.9 1173.6h0M44.8 1176.2h0M46.4 1176.2h0M47.9 1176.2h0M44.8 1178.9h0M46.4 1178.9h0M47.9 1178.9h0M52.7 1140.8h0M114.2 1176.6h0M99.4 1178.3h0M141.4 1230.5h0M80.9 1133.7h0M132.3 1202.9h0M77.9 1141.2h0M113.3 1200.5h0M121.6 1216.8h0M115.9 1211.5h0M77.6 1148.6h0M150.0 1225.0h0M96.9 1153.3h0M90.4 1131.2h0M144.9 1232.9h0M108.1 1159.1h0M81.9 1154.5h0M76.3 1140.9h0M146.4 1230.8h0M137.8 1223.9h0M98.8 1150.4h0M103.6 1181.2h0M148.5 1207.7h0M112.1 1196.7h0M149.4 1209.0h0M105.9 1183.9h0M98.1 1149.1h0M77.6 1144.0h0M118.1 1212.2h0M127.2 1200.3h0M144.8 1210.9h0M108.8 1169.7h0M156.3 1219.6h0M87.2 1163.9h0M160.4 1213.4h0M126.1 1199.4h0M158.1 1211.0h0M145.4 1208.5h0M147.7 1208.4h0M155.9 1220.2h0M114.7 1208.1h0M116.7 1207.1h0M83.6 1132.0h0M81.7 1152.7h0M128.8 1201.8h0M151.6 1207.3h0M155.2 1220.1h0M86.5 1160.8h0M86.5 1130.6h0M95.8 1177.4h0M120.9 1217.3h0M151.3 1225.0h0M144.0 1209.1h0M150.6 1225.0h0M116.4 1210.7h0M153.7 1207.5h0M81.8 1155.9h0M146.5 1232.7h0M156.4 1207.1h0M85.5 1158.7h0M82.2 1132.0h0M86.5 1163.0h0M160.7 1214.4h0M100.9 1154.5h0M117.6 1214.5h0M115.1 1178.2h0M160.7 1212.2h0M149.7 1227.4h0M79.0 1144.3h0M119.7 1214.4h0M157.0 1207.6h0M124.4 1224.0h0M123.5 1222.1h0M102.9 1154.1h0M137.7 1205.5h0M108.4 1158.3h0M97.2 1147.2h0M126.0 1199.1h0M88.0 1130.9h0M107.9 1160.4h0M109.3 1159.8h0M150.6 1224.8h0M147.9 1208.0h0M95.2 1144.1h0M77.4 1137.3h0M113.5 1197.1h0M121.1 1215.9h0M126.6 1222.5h0M113.6 1203.9h0M106.8 1164.5h0M112.5 1203.0h0M130.0 1204.2h0M110.1 1165.7h0M120.4 1188.2h0M99.7 1180.4h0M144.0 1209.4h0M91.5 1168.3h0M77.1 1138.4h0M80.1 1155.8h0M160.0 1215.1h0M146.5 1229.1h0M137.6 1228.0h0M94.9 1140.1h0M111.1 1194.1h0M103.9 1183.3h0M109.4 1166.9h0M125.8 1202.2h0M127.7 1222.5h0M77.6 1151.4h0M129.2 1201.2h0M90.3 1169.1h0M90.6 1134.7h0M147.3 1229.5h0M121.2 1191.1h0M92.6 1171.7h0M108.5 1160.7h0M93.4 1141.0h0M136.6 1204.6h0M111.8 1193.3h0M113.6 1202.1h0M127.4 1201.2h0M112.1 1202.4h0M103.4 1154.1h0M154.7 1206.7h0M90.7 1168.3h0M104.6 1154.5h0M113.8 1178.2h0M130.8 1202.5h0M111.6 1168.5h0M151.0 1224.2h0M147.7 1209.7h0M139.0 1228.5h0M80.9 1134.0h0M103.0 1181.8h0M139.5 1207.1h0M91.8 1130.8h0M134.0 1224.8h0M107.4 1157.4h0M110.2 1169.3h0M109.6 1195.9h0M92.8 1135.7h0M77.8 1151.4h0M111.7 1177.8h0M138.2 1227.5h0M96.3 1148.2h0M76.3 1137.3h0M77.6 1149.6h0M120.4 1221.4h0M116.1 1181.6h0M132.7 1201.7h0M141.1 1231.4h0M118.0 1184.4h0M141.8 1229.3h0M85.8 1161.9h0M103.0 1153.2h0M117.7 1184.2h0M77.6 1146.6h0M92.6 1173.5h0M84.0 1132.1h0M95.0 1142.6h0M126.5 1223.7h0M99.0 1179.0h0M75.4 1144.0h0M98.6 1152.5h0M159.2 1212.5h0M156.1 1218.7h0M95.6 1173.7h0M159.7 1215.2h0M85.7 1131.9h0M92.6 1136.7h0M159.2 1217.3h0M99.5 1153.6h0M155.0 1220.7h0M142.1 1229.2h0M158.0 1220.3h0M143.8 1229.9h0M80.6 1133.5h0M117.2 1212.8h0M85.5 1133.4h0M158.3 1217.6h0M103.4 1155.3h0M143.4 1208.9h0M104.2 1182.8h0M94.3 1175.6h0M90.8 1166.1h0M119.7 1214.8h0M150.6 1225.0h0M108.4 1183.2h0M92.7 1134.6h0M84.1 1131.7h0M90.0 1168.0h0M113.6 1205.8h0M148.4 1208.2h0M114.7 1178.8h0M77.5 1144.2h0M109.2 1169.9h0M112.0 1179.8h0M80.8 1151.8h0M111.9 1196.0h0M93.3 1175.8h0M81.4 1152.9h0M107.1 1142.9h0M182.0 1169.1h0M129.4 1184.9h0M132.0 1189.4h0M141.2 1187.3h0M157.0 1184.9h0M159.6 1186.0h0M155.7 1190.7h0M163.6 1192.8h0M168.8 1186.8h0M170.1 1193.3h0M172.8 1194.6h0M175.4 1195.4h0M182.0 1190.7h0M188.5 1190.2h0M191.2 1188.1h0M189.8 1196.5h0M196.4 1197.5h0M195.1 1203.8h0M200.4 1207.8h0M197.7 1210.4h0M214.8 1204.4h0M191.2 1213.8h0M184.6 1213.8h0M172.8 1213.6h0M176.7 1204.6h0M170.1 1210.4h0M167.5 1205.1h0M163.6 1202.5h0M159.6 1201.2h0M157.0 1203.8h0M150.4 1199.9h0M143.9 1197.3h0M141.2 1193.8h0M136.0 1195.9h0M130.7 1194.6h0M128.1 1195.9h0M138.6 1199.9h0M84.7 1159.2h0M86.0 1165.7h0M84.7 1171.8h0M90.0 1177.0h0M82.1 1152.6h0M77.6 1150.0h0M164.9 1195.9h0M162.2 1206.5h0M166.2 1209.1h0M160.9 1197.3h0M284.7 1219.0h0M284.7 1216.8h0M284.7 1204.0h0M284.7 1216.7h0M284.7 1207.5h0M284.7 1207.5h0M284.7 1227.4h0M284.7 1221.2h0M284.7 1209.7h0M284.7 1224.8h0M284.7 1230.8h0M284.7 1227.1h0M284.7 1206.9h0M284.7 1221.6h0M284.7 1214.4h0M284.7 1215.3h0M284.7 1207.9h0M284.7 1206.2h0M284.7 1230.6h0M284.7 1215.7h0M284.7 1207.3h0M284.7 1215.9h0M284.7 1215.7h0M284.7 1207.1h0M284.7 1223.9h0M284.7 1220.6h0M284.7 1223.3h0M284.7 1226.7h0M284.7 1227.8h0M284.7 1231.3h0M284.7 1222.8h0M284.7 1230.8h0M284.7 1231.0h0M284.7 1208.2h0M284.7 1213.8h0M284.7 1216.4h0M284.7 1216.1h0M284.7 1205.4h0M284.7 1213.9h0M284.7 1225.3h0M283.9 1199.9h0M446.1 1187.7h0M446.5 1132.9h0M446.2 1179.4h0M446.1 1170.3h0M446.2 1140.0h0M446.5 1158.5h0M446.0 1171.0h0M446.5 1171.7h0M446.1 1144.1h0M446.1 1131.1h0M446.5 1134.7h0M446.2 1146.8h0M446.5 1151.7h0M446.2 1144.4h0M446.2 1153.6h0M446.5 1137.3h0M446.2 1157.2h0M446.4 1153.2h0M446.4 1150.8h0M446.2 1156.3h0M446.1 1189.1h0M446.4 1184.1h0M446.1 1139.1h0M446.2 1137.1h0M446.1 1168.7h0M446.5 1136.3h0M446.2 1185.7h0M446.3 1155.7h0M446.4 1197.2h0M446.2 1155.4h0M446.3 1167.2h0M446.4 1134.7h0M446.5 1142.1h0M446.2 1142.7h0M446.2 1194.4h0M446.2 1198.1h0M446.3 1173.8h0M446.2 1173.1h0M446.2 1182.3h0M446.3 1160.4h0M446.4 1194.0h0M446.4 1146.3h0M446.4 1192.5h0M446.1 1131.7h0M446.4 1170.4h0M446.1 1172.3h0M446.4 1182.0h0M446.5 1142.7h0M446.2 1153.7h0M446.5 1193.1h0M446.3 1143.8h0M446.4 1150.5h0M446.4 1169.7h0M446.4 1197.7h0M446.1 1152.9h0M446.3 1142.1h0M446.5 1138.7h0M446.4 1197.6h0M446.3 1147.7h0M446.5 1181.0h0M446.5 1135.2h0M446.3 1159.5h0M446.4 1170.2h0M446.2 1180.4h0M446.1 1173.6h0M446.3 1159.1h0M446.4 1141.6h0M446.4 1158.6h0M446.2 1162.0h0M446.3 1151.9h0M446.4 1140.2h0M446.4 1190.6h0M446.5 1143.5h0M446.1 1156.1h0M446.4 1161.8h0M446.4 1141.6h0M446.2 1183.6h0M446.5 1141.3h0M446.3 1187.0h0M446.3 1132.1h0M446.5 1132.0h0M446.3 1165.6h0M446.4 1166.8h0M446.3 1161.6h0M446.4 1192.9h0M446.4 1181.5h0M446.1 1186.5h0M446.1 1183.4h0M446.5 1186.3h0M446.4 1185.3h0M446.1 1190.9h0M446.5 1181.9h0M446.4 1142.8h0M446.3 1165.4h0M446.4 1178.2h0M446.5 1165.0h0M446.2 1164.9h0M446.1 1152.2h0M505.6 1191.0h0M505.4 1164.7h0M504.7 1194.0h0M505.9 1191.4h0M505.4 1190.9h0M505.5 1200.8h0M505.7 1153.5h0M505.1 1155.2h0M505.2 1179.7h0M504.8 1154.2h0M505.9 1178.5h0M505.2 1161.5h0M505.9 1213.2h0M505.9 1202.6h0M505.2 1199.0h0M505.5 1204.7h0M505.0 1159.8h0M505.3 1180.4h0M505.1 1186.5h0M506.0 1145.8h0M505.6 1160.1h0M506.0 1201.6h0M505.0 1160.7h0M504.9 1207.5h0M504.6 1176.1h0M505.5 1178.2h0M505.0 1151.0h0M505.0 1203.6h0M505.3 1171.6h0M505.5 1158.2h0M505.7 1154.4h0M506.0 1154.1h0M504.9 1198.1h0M505.4 1168.6h0M506.0 1184.9h0M505.1 1167.2h0M505.4 1208.9h0M505.3 1179.3h0M505.7 1175.6h0M505.7 1210.2h0M505.2 1200.9h0M505.0 1212.9h0M505.6 1197.5h0M506.0 1158.7h0M505.2 1175.5h0M505.4 1199.1h0M505.0 1158.8h0M506.0 1174.4h0M504.7 1151.4h0M505.2 1174.1h0M504.7 1182.2h0M505.3 1154.8h0M505.5 1185.3h0M504.8 1152.8h0M505.6 1177.8h0M505.0 1192.1h0M504.9 1194.8h0M505.1 1173.4h0M506.0 1154.6h0M505.9 1212.6h0M505.1 1181.4h0M504.6 1177.3h0M504.8 1144.9h0M505.3 1196.8h0M504.6 1198.9h0M505.7 1194.0h0M505.5 1175.1h0M505.2 1175.6h0M504.8 1201.5h0M506.1 1209.4h0M505.2 1185.0h0M505.0 1188.3h0M506.1 1202.6h0M505.7 1166.6h0M505.4 1154.9h0M505.1 1196.4h0M505.8 1186.6h0M505.7 1166.7h0M506.0 1202.8h0M506.1 1196.5h0M505.5 1144.5h0M505.9 1178.6h0M506.0 1192.9h0M504.9 1207.5h0M505.6 1193.3h0M505.9 1159.2h0M505.8 1153.0h0M505.7 1211.6h0M505.3 1204.1h0M505.9 1172.7h0M505.4 1171.8h0M505.1 1197.4h0M505.3 1188.6h0M505.9 1161.2h0M504.7 1177.2h0M504.6 1212.7h0M504.7 1174.6h0M504.8 1143.7h0M505.0 1149.8h0M504.8 1153.2h0M504.6 1189.2h0M505.0 1168.7h0M505.5 1189.7h0M505.7 1162.8h0M505.3 1199.3h0M506.0 1178.0h0M504.7 1209.6h0M505.9 1197.3h0M504.7 1176.7h0M505.5 1212.3h0M504.9 1165.4h0M505.7 1176.0h0M505.7 1167.8h0M505.8 1144.5h0M505.1 1164.5h0M504.8 1147.3h0M505.8 1150.5h0M505.7 1150.7h0M505.3 1169.0h0M505.3 1182.3h0M505.4 1183.0h0M506.1 1188.0h0M504.8 1155.7h0M505.5 1163.0h0M505.9 1151.3h0M504.8 1207.4h0M505.7 1153.5h0M504.3 1128.9h0M506.4 1128.9h0M504.3 1131.6h0M506.4 1131.6h0M504.3 1134.2h0M506.4 1134.2h0M504.3 1136.8h0M506.4 1136.8h0M504.3 1218.3h0M506.4 1218.3h0M504.3 1220.9h0M506.4 1220.9h0M512.2 1136.8h0M512.5 1181.5h0M511.9 1188.1h0M512.0 1199.9h0M512.1 1201.2h0M512.7 1210.4h0M516.6 1189.4h0M516.6 1210.4h0M519.9 1148.1h0M520.5 1171.0h0M520.1 1174.9h0M520.2 1180.2h0M524.7 1164.4h0M524.8 1168.4h0M524.4 1172.3h0M524.4 1176.2h0M524.2 1181.5h0M524.9 1196.5h0M528.7 1159.2h0M529.2 1163.1h0M528.5 1167.0h0M528.9 1171.0h0M529.3 1176.2h0M533.4 1147.3h0M533.6 1152.6h0M533.7 1157.8h0M533.3 1163.1h0M532.9 1168.4h0M533.4 1173.6h0M537.3 1155.2h0M537.0 1160.5h0M536.8 1164.4h0M537.0 1169.7h0M537.5 1173.6h0M541.2 1151.3h0M541.7 1155.2h0M541.2 1159.2h0M541.7 1163.1h0M541.5 1167.0h0M541.8 1176.2h0M541.1 1180.2h0M541.6 1184.1h0M541.3 1188.1h0M545.3 1161.8h0M545.2 1167.0h0M545.3 1172.3h0M545.8 1177.6h0M545.9 1181.5h0M545.4 1184.1h0M549.6 1148.1h0M549.4 1151.3h0M549.8 1155.2h0M549.4 1159.2h0M549.6 1163.1h0M550.2 1167.0h0M554.2 1154.6h0M554.2 1149.8h0M554.2 1160.0h0M554.2 1142.7h0M554.2 1159.6h0M554.2 1161.2h0M554.2 1153.9h0M554.2 1147.6h0M554.2 1147.8h0M554.2 1163.4h0M554.2 1159.1h0M554.2 1165.0h0M554.2 1147.1h0M554.2 1152.3h0M554.2 1160.6h0M554.2 1156.1h0M554.2 1153.8h0M554.2 1145.7h0M554.2 1164.3h0M554.2 1147.6h0M554.2 1159.2h0M554.2 1156.6h0M554.2 1160.6h0M554.2 1160.4h0M554.2 1153.3h0M554.2 1155.0h0M554.2 1144.5h0M554.2 1159.9h0M554.2 1149.2h0M554.2 1145.4h0M554.2 1143.7h0M554.2 1149.4h0M554.2 1145.7h0M554.2 1146.6h0M554.2 1152.0h0M554.2 1150.6h0M554.2 1148.9h0M554.2 1146.8h0M554.2 1156.7h0M554.2 1155.1h0M554.2 1151.7h0M554.2 1147.1h0M554.2 1160.7h0M554.2 1145.0h0M554.2 1151.5h0M554.2 1147.4h0M554.2 1159.3h0M554.2 1155.0h0M554.2 1163.6h0M554.2 1158.0h0M554.2 1157.5h0M554.2 1144.5h0M554.2 1143.0h0M558.2 1164.5h0M558.2 1148.2h0M558.2 1162.4h0M558.2 1147.3h0M558.2 1163.5h0M558.2 1164.4h0M558.2 1156.5h0M558.2 1150.9h0M558.2 1160.2h0M558.2 1150.4h0M558.2 1156.6h0M558.2 1165.5h0M558.2 1147.0h0M558.2 1171.8h0M558.2 1170.4h0M558.2 1156.1h0M558.2 1168.7h0M558.2 1168.5h0M558.2 1165.6h0M558.2 1157.6h0M558.2 1156.0h0M558.2 1151.7h0M558.2 1168.1h0M558.2 1164.5h0M558.2 1172.6h0M558.2 1163.1h0M558.2 1146.2h0M558.2 1151.6h0M558.2 1147.3h0M558.2 1154.1h0M558.2 1161.8h0M558.2 1161.2h0M558.2 1162.7h0M558.2 1156.2h0M558.2 1171.2h0M558.2 1158.1h0M558.2 1152.6h0M558.2 1157.4h0M558.2 1156.7h0M558.2 1151.0h0M558.2 1161.8h0M558.2 1160.6h0M558.2 1146.5h0M558.2 1154.3h0M558.2 1149.3h0M558.2 1155.4h0M558.2 1150.7h0M558.2 1148.0h0M558.2 1156.3h0M558.2 1147.2h0M558.2 1147.9h0M558.2 1166.0h0M558.2 1152.2h0M558.2 1167.1h0M558.2 1157.5h0M558.2 1161.7h0M558.2 1169.0h0M558.2 1149.0h0M558.2 1146.8h0M558.2 1155.8h0M558.2 1172.2h0M558.2 1155.9h0M558.2 1157.3h0M562.9 1162.2h0M562.9 1148.5h0M562.9 1155.5h0M562.9 1149.3h0M562.9 1166.0h0M562.9 1155.8h0M562.9 1156.6h0M562.9 1159.1h0M562.9 1163.4h0M562.9 1165.8h0M562.9 1155.3h0M562.9 1155.7h0M562.9 1163.8h0M562.9 1161.8h0M562.9 1160.7h0M562.9 1163.1h0M562.9 1165.6h0M562.9 1148.4h0M562.9 1158.5h0M562.9 1152.6h0M562.9 1165.4h0M562.9 1147.8h0M562.9 1155.2h0M562.9 1156.6h0M562.9 1149.0h0M562.9 1153.9h0M562.9 1154.9h0M562.9 1149.4h0M562.9 1162.4h0M562.9 1154.3h0M562.9 1156.5h0M562.9 1163.1h0M562.9 1165.3h0M562.9 1152.5h0M562.9 1162.1h0M562.9 1153.2h0M562.9 1166.0h0M562.9 1165.5h0M562.9 1157.1h0M562.9 1149.2h0M562.9 1164.1h0M562.9 1160.8h0M562.9 1162.9h0M562.9 1157.5h0M562.9 1166.2h0M562.9 1154.4h0M566.9 1150.6h0M566.9 1169.4h0M566.9 1149.6h0M566.9 1169.2h0M566.9 1162.4h0M566.9 1148.9h0M566.9 1152.5h0M566.9 1151.9h0M566.9 1164.8h0M566.9 1167.7h0M566.9 1157.8h0M566.9 1164.7h0M566.9 1162.6h0M566.9 1170.0h0M566.9 1154.7h0M566.9 1151.9h0M566.9 1158.9h0M566.9 1169.4h0M566.9 1155.1h0M566.9 1169.0h0M566.9 1150.9h0M566.9 1170.0h0M566.9 1159.8h0M566.9 1169.3h0M566.9 1160.3h0M566.9 1161.8h0M566.9 1166.0h0M566.9 1152.9h0M566.9 1149.4h0M566.9 1158.4h0M566.9 1152.0h0M566.9 1154.4h0M566.9 1152.9h0M566.9 1151.6h0M566.9 1169.8h0M566.9 1164.1h0M566.9 1157.5h0M566.9 1170.8h0M566.9 1149.0h0M566.9 1171.4h0M566.9 1168.5h0M566.9 1160.4h0M566.9 1172.0h0M566.9 1157.3h0M566.9 1152.2h0M566.9 1151.2h0M566.9 1166.9h0M566.9 1156.1h0M566.9 1155.3h0M566.9 1168.7h0M566.9 1170.3h0M566.9 1158.3h0M566.9 1157.3h0M566.9 1161.5h0M566.9 1158.7h0M566.9 1170.6h0M566.9 1161.9h0M571.3 1178.7h0M571.3 1164.1h0M571.3 1160.0h0M571.3 1172.5h0M571.3 1158.4h0M571.3 1160.5h0M571.3 1171.7h0M571.3 1175.4h0M571.3 1169.8h0M571.3 1177.5h0M571.3 1161.9h0M571.3 1176.7h0M571.3 1168.5h0M571.3 1178.1h0M571.3 1161.2h0M571.3 1170.6h0M571.3 1160.1h0M571.3 1161.9h0M571.3 1166.2h0M571.3 1170.9h0M571.3 1171.1h0M571.3 1163.6h0M571.3 1165.1h0M571.3 1180.6h0M571.3 1158.6h0M571.3 1167.3h0M571.3 1177.8h0M571.3 1174.0h0M571.3 1171.5h0M571.3 1161.6h0M571.3 1163.9h0M571.3 1181.3h0M571.3 1171.3h0M571.3 1164.7h0M571.3 1179.8h0M571.3 1177.1h0M571.3 1175.7h0M571.3 1163.4h0M571.3 1167.4h0M571.3 1177.7h0M571.3 1164.6h0M571.3 1180.6h0M571.3 1167.7h0M571.3 1169.8h0M571.3 1175.9h0M571.3 1160.2h0M571.3 1172.5h0M571.3 1172.1h0M571.3 1161.9h0M571.3 1161.9h0M571.3 1158.6h0M571.3 1166.6h0M571.3 1173.0h0M571.3 1159.7h0M571.3 1170.0h0M575.5 1177.8h0M575.5 1173.8h0M575.5 1171.5h0M575.5 1177.5h0M575.5 1174.8h0M575.5 1171.5h0M575.5 1175.2h0M575.5 1173.6h0M575.5 1174.9h0M575.5 1168.4h0M575.5 1174.2h0M575.5 1165.7h0M575.5 1163.9h0M575.5 1171.0h0M575.5 1175.1h0M575.5 1166.7h0M575.5 1177.0h0M575.5 1170.5h0M575.5 1173.6h0M575.5 1176.7h0M575.5 1175.6h0M575.5 1173.4h0M575.5 1167.5h0M575.5 1166.0h0M575.5 1172.1h0M575.5 1172.4h0M575.5 1172.5h0M575.5 1169.4h0M575.5 1165.9h0M575.5 1177.6h0M575.5 1173.8h0M575.5 1174.0h0M575.5 1163.6h0M575.5 1171.5h0M575.5 1171.5h0M575.5 1164.4h0M575.5 1166.6h0M575.5 1165.6h0M579.7 1158.4h0M579.7 1179.9h0M579.7 1162.2h0M579.7 1165.7h0M579.7 1163.3h0M579.7 1169.9h0M579.7 1182.8h0M579.7 1171.2h0M579.7 1177.8h0M579.7 1162.2h0M579.7 1172.6h0M579.7 1164.0h0M579.7 1163.9h0M579.7 1166.4h0M579.7 1168.5h0M579.7 1177.6h0M579.7 1160.7h0M579.7 1165.1h0M579.7 1184.5h0M579.7 1167.8h0M579.7 1158.5h0M579.7 1181.8h0M579.7 1158.1h0M579.7 1168.3h0M579.7 1177.5h0M579.7 1183.7h0M579.7 1182.4h0M579.7 1183.6h0M579.7 1174.2h0M579.7 1184.4h0M579.7 1164.3h0M579.7 1166.7h0M579.7 1175.8h0M579.7 1175.1h0M579.7 1180.4h0M579.7 1161.3h0M579.7 1168.1h0M579.7 1175.1h0M579.7 1160.3h0M579.7 1171.8h0M579.7 1182.0h0M579.7 1158.6h0M579.7 1180.8h0M579.7 1177.6h0M579.7 1169.7h0M579.7 1163.9h0M579.7 1179.4h0M579.7 1167.7h0M579.7 1175.2h0M579.7 1161.5h0M579.7 1178.8h0M579.7 1183.1h0M579.7 1183.2h0M579.7 1184.8h0M579.7 1159.6h0M579.7 1180.2h0M579.7 1164.6h0M579.7 1160.9h0M579.7 1179.7h0M579.7 1182.5h0M579.7 1159.8h0M579.7 1163.6h0M579.7 1170.9h0M584.0 1179.3h0M584.1 1176.1h0M584.1 1164.8h0M583.7 1167.2h0M584.1 1161.5h0M583.8 1168.4h0M584.0 1169.2h0M583.8 1166.9h0M583.8 1167.9h0M583.9 1164.5h0M583.7 1176.6h0M584.1 1168.3h0M583.8 1160.9h0M584.0 1169.3h0M583.8 1167.7h0M583.7 1164.1h0M583.7 1174.3h0M583.9 1168.7h0M583.9 1175.8h0M584.0 1172.6h0M583.9 1179.2h0M583.9 1167.1h0M584.0 1161.3h0M583.8 1164.1h0M583.9 1175.3h0M584.1 1164.4h0M584.2 1172.1h0M583.9 1162.8h0M583.8 1177.3h0M584.1 1168.1h0M584.0 1166.3h0M583.7 1177.9h0M583.8 1174.3h0M588.4 1175.6h0M588.4 1163.5h0M588.3 1173.0h0M588.6 1183.3h0M588.6 1172.7h0M588.4 1171.2h0M588.4 1179.4h0M588.3 1172.9h0M588.3 1180.2h0M588.4 1160.8h0M588.4 1180.4h0M588.2 1164.5h0M588.3 1165.7h0M588.2 1173.9h0M588.3 1176.6h0M588.5 1164.4h0M588.6 1179.2h0M588.3 1171.9h0M588.5 1178.2h0M588.3 1169.0h0M588.6 1169.0h0M588.3 1173.1h0M588.2 1176.0h0M588.6 1178.6h0M588.3 1168.5h0M588.3 1175.1h0M588.4 1166.6h0M588.6 1177.1h0M588.4 1170.0h0M588.4 1182.3h0M588.5 1177.7h0M588.2 1162.3h0M588.6 1175.6h0M588.5 1169.5h0M588.4 1168.2h0M588.3 1165.5h0M588.6 1177.0h0M588.2 1180.6h0M592.3 1160.7h0M592.4 1180.8h0M592.5 1183.6h0M592.1 1165.7h0M592.3 1189.3h0M592.3 1175.4h0M592.4 1172.0h0M592.4 1184.9h0M592.4 1174.4h0M592.2 1166.1h0M592.2 1175.2h0M592.5 1161.9h0M592.3 1171.1h0M592.4 1180.4h0M592.1 1163.3h0M592.4 1175.4h0M592.2 1176.9h0M592.4 1161.8h0M592.1 1167.7h0M592.5 1162.1h0M592.4 1178.2h0M592.4 1182.3h0M592.3 1160.7h0M592.5 1179.9h0M592.3 1189.9h0M592.4 1162.1h0M592.3 1180.7h0M592.1 1171.5h0M592.3 1165.4h0M592.5 1190.1h0M592.4 1171.1h0M592.1 1189.3h0M592.1 1191.2h0M592.2 1169.1h0M592.4 1190.2h0M592.3 1191.5h0M592.2 1160.6h0M592.5 1190.6h0M592.1 1182.2h0M592.5 1160.7h0M592.3 1178.5h0M592.5 1189.6h0M592.2 1189.5h0M592.4 1190.8h0M592.2 1178.1h0M592.2 1164.1h0M592.4 1172.2h0M592.4 1170.7h0M592.2 1181.8h0M592.4 1169.6h0M592.6 1179.5h0M592.4 1171.1h0M596.4 1178.4h0M596.6 1188.9h0M596.6 1186.4h0M596.6 1188.3h0M596.4 1192.9h0M596.5 1195.5h0M596.6 1175.1h0M596.7 1177.5h0M596.8 1174.5h0M596.3 1197.1h0M596.7 1196.7h0M596.5 1190.7h0M596.6 1187.4h0M596.6 1175.2h0M596.7 1179.0h0M596.5 1174.5h0M596.5 1180.5h0M596.6 1173.6h0M596.8 1171.6h0M596.5 1172.6h0M596.5 1182.6h0M596.6 1175.3h0M596.8 1172.6h0M596.4 1190.7h0M596.6 1191.0h0M596.6 1195.7h0M596.7 1192.0h0M596.5 1195.8h0M596.6 1188.1h0M596.4 1184.9h0M596.5 1181.9h0M596.3 1179.8h0M596.4 1171.5h0M596.5 1189.6h0M596.5 1179.4h0M596.5 1190.2h0M596.4 1195.7h0M596.4 1191.7h0M596.5 1184.3h0M596.6 1185.6h0M596.6 1194.2h0M600.7 1199.3h0M600.5 1179.5h0M600.8 1195.3h0M600.6 1178.2h0M600.6 1181.7h0M600.7 1176.7h0M600.9 1188.1h0M600.6 1176.6h0M601.0 1177.9h0M600.8 1191.5h0M600.6 1191.6h0M600.6 1178.6h0M600.8 1190.9h0M600.6 1186.4h0M600.6 1196.7h0M601.0 1189.9h0M600.9 1188.7h0M600.8 1199.6h0M600.9 1182.8h0M600.6 1187.0h0M600.6 1194.5h0M600.5 1193.3h0M600.8 1177.3h0M600.5 1176.6h0M600.6 1182.9h0M601.0 1199.1h0M600.6 1177.9h0M601.0 1176.8h0M600.8 1197.9h0M600.7 1179.6h0M600.6 1183.8h0M600.7 1196.6h0M600.7 1185.7h0M600.8 1177.4h0M601.0 1186.1h0M600.7 1193.5h0M600.5 1180.1h0M601.0 1182.6h0M605.0 1187.6h0M604.9 1185.5h0M605.0 1195.5h0M604.8 1192.1h0M605.2 1189.2h0M604.9 1177.7h0M605.1 1196.6h0M604.9 1180.7h0M605.1 1191.2h0M604.7 1179.1h0M604.8 1180.4h0M605.2 1191.7h0M604.8 1195.1h0M605.1 1201.6h0M604.9 1193.3h0M604.9 1192.0h0M604.9 1190.9h0M604.9 1182.0h0M605.2 1200.0h0M604.9 1190.4h0M604.8 1175.2h0M605.1 1187.4h0M604.8 1183.5h0M605.0 1178.2h0M605.1 1193.6h0M604.9 1196.9h0M604.8 1199.5h0M605.1 1198.8h0M605.2 1202.0h0M605.0 1179.2h0M605.2 1190.1h0M604.9 1185.4h0M604.8 1194.6h0M604.9 1193.5h0M605.1 1175.8h0M605.2 1181.6h0M604.8 1180.0h0M605.1 1175.8h0M605.1 1181.5h0M604.8 1187.5h0M605.1 1182.6h0M604.9 1178.0h0M604.8 1196.7h0M605.0 1175.6h0M604.8 1180.7h0M609.6 1197.3h0M609.6 1211.4h0M609.4 1185.7h0M609.3 1197.7h0M608.9 1196.4h0M609.8 1184.7h0M608.8 1199.7h0M608.9 1187.4h0M609.6 1209.8h0M609.9 1208.1h0M609.9 1197.0h0M609.1 1187.3h0M609.8 1183.8h0M609.0 1186.7h0M609.0 1196.9h0M609.4 1198.8h0M609.5 1183.6h0M609.5 1204.4h0M609.9 1195.5h0M609.4 1212.1h0M609.2 1192.4h0M609.4 1194.7h0M609.0 1205.8h0M609.7 1192.9h0M609.0 1205.5h0M609.4 1197.3h0M608.9 1183.0h0M609.7 1209.7h0M609.2 1209.5h0M609.8 1183.3h0M609.0 1190.2h0M609.4 1198.2h0M609.9 1182.5h0M609.7 1192.7h0M609.1 1181.2h0M608.9 1197.0h0M609.5 1195.4h0M610.0 1210.5h0M609.3 1206.3h0M609.7 1188.1h0M609.7 1202.1h0M610.0 1211.5h0M609.3 1183.3h0M608.9 1197.0h0M608.9 1183.9h0M609.9 1187.6h0M609.1 1195.7h0M609.5 1179.3h0M609.6 1195.3h0M609.9 1189.0h0M609.3 1181.1h0M609.1 1197.0h0M609.9 1185.8h0M609.6 1185.8h0M610.0 1210.9h0M609.8 1193.8h0M609.6 1197.5h0M609.4 1182.4h0M608.8 1211.3h0M609.8 1198.9h0M609.2 1189.0h0M613.8 1191.1h0M613.4 1210.7h0M613.5 1217.8h0M613.1 1210.6h0M613.6 1194.5h0M612.9 1199.3h0M613.0 1199.3h0M612.8 1198.2h0M613.9 1209.1h0M613.1 1210.2h0M613.1 1197.5h0M613.3 1200.7h0M613.0 1198.7h0M613.9 1196.9h0M613.1 1208.3h0M612.8 1212.5h0M613.8 1210.0h0M613.7 1217.1h0M613.0 1216.5h0M613.2 1217.1h0M612.9 1212.0h0M613.9 1200.1h0M613.9 1210.9h0M612.8 1217.3h0M613.0 1197.4h0M613.3 1199.6h0M613.5 1190.1h0M613.8 1215.5h0M613.9 1212.3h0M613.9 1193.0h0M613.5 1202.2h0M613.7 1197.8h0M613.9 1199.5h0M613.7 1202.1h0M613.3 1216.5h0M613.8 1198.4h0M613.5 1206.0h0M613.1 1210.9h0M612.8 1209.8h0M613.7 1190.5h0M612.8 1199.4h0M613.7 1213.3h0M613.7 1194.5h0M613.0 1202.4h0M613.8 1212.1h0M613.4 1195.4h0M613.9 1203.5h0M613.9 1216.8h0M612.8 1192.3h0M613.0 1197.7h0M613.8 1190.2h0M613.4 1191.1h0M617.9 1194.6h0M617.5 1204.1h0M617.8 1199.9h0M617.3 1200.8h0M617.6 1193.7h0M618.1 1206.6h0M617.5 1212.4h0M617.6 1200.8h0M618.4 1199.0h0M617.5 1214.4h0M617.9 1207.3h0M618.5 1216.2h0M617.3 1212.8h0M617.7 1196.3h0M618.2 1209.1h0M618.2 1194.9h0M618.0 1195.1h0M618.1 1207.4h0M617.4 1191.6h0M617.3 1196.8h0M617.4 1216.1h0M618.3 1198.5h0M617.4 1209.5h0M618.1 1209.3h0M617.3 1204.9h0M618.3 1212.7h0M618.2 1196.1h0M618.3 1194.4h0M618.4 1211.5h0M618.0 1199.8h0M618.3 1196.0h0M618.5 1204.3h0M617.3 1208.8h0M617.3 1204.5h0M618.1 1211.9h0M617.9 1199.8h0M617.5 1211.7h0M618.1 1214.8h0M618.0 1206.0h0M617.6 1208.4h0M617.3 1205.7h0M618.4 1198.6h0M617.9 1197.3h0M617.3 1209.6h0M618.2 1194.6h0M618.3 1201.4h0M617.7 1200.5h0M618.2 1214.0h0M621.4 1194.2h0M621.8 1214.1h0M622.5 1222.7h0M622.1 1215.6h0M621.4 1200.5h0M622.4 1204.5h0M622.7 1213.1h0M621.6 1205.8h0M622.5 1223.3h0M622.2 1216.7h0M622.2 1205.7h0M621.5 1214.1h0M622.6 1194.3h0M622.7 1202.5h0M621.6 1193.3h0M622.4 1202.8h0M621.8 1197.6h0M621.4 1207.3h0M622.1 1202.4h0M622.5 1193.9h0M622.1 1197.1h0M621.5 1205.0h0M622.5 1211.0h0M621.9 1200.4h0M622.1 1204.7h0M621.9 1221.8h0M622.6 1204.9h0M622.1 1207.2h0M622.4 1207.7h0M622.6 1221.1h0M622.2 1197.3h0M622.5 1206.7h0M621.7 1217.5h0M621.6 1208.7h0M622.3 1202.6h0M622.3 1203.9h0M622.6 1198.2h0M621.9 1213.1h0M621.6 1218.6h0M621.9 1214.9h0M622.5 1193.7h0M622.1 1216.7h0M621.8 1215.5h0M622.0 1204.0h0M622.3 1201.0h0M621.5 1222.2h0M622.3 1196.4h0M622.0 1216.9h0M622.5 1200.6h0M622.4 1209.1h0M622.4 1214.1h0M621.5 1220.8h0M622.1 1216.3h0M621.5 1194.6h0M621.9 1219.3h0M621.6 1222.6h0M626.2 1206.9h0M626.4 1199.3h0M626.4 1202.1h0M626.3 1214.0h0M626.6 1214.6h0M626.8 1214.1h0M626.8 1213.5h0M626.8 1203.1h0M626.5 1194.5h0M626.9 1195.1h0M626.0 1209.3h0M626.6 1219.9h0M626.9 1207.4h0M626.8 1206.2h0M627.1 1217.0h0M626.0 1203.6h0M626.7 1199.5h0M626.9 1219.5h0M626.4 1193.5h0M626.2 1208.0h0M626.4 1198.2h0M626.9 1200.2h0M626.2 1219.2h0M626.9 1211.9h0M626.8 1208.5h0M626.6 1196.3h0M626.5 1218.8h0M627.1 1205.4h0M626.0 1196.2h0M626.0 1208.4h0M626.5 1195.7h0M626.0 1216.8h0M626.2 1204.5h0M626.0 1201.4h0M627.1 1200.3h0M626.5 1199.1h0M626.2 1198.7h0M626.3 1209.9h0M626.1 1198.0h0M626.3 1208.4h0M626.1 1217.4h0M626.9 1213.7h0M626.6 1208.2h0M626.0 1205.2h0M626.9 1202.9h0M626.4 1200.3h0M625.9 1204.9h0M626.8 1220.5h0M626.7 1208.5h0M626.5 1201.4h0M631.1 1207.4h0M631.2 1216.0h0M631.1 1222.8h0M631.0 1209.8h0M631.3 1220.6h0M631.3 1211.1h0M630.6 1202.6h0M630.9 1215.6h0M630.3 1217.6h0M630.9 1199.5h0M630.5 1201.9h0M631.2 1199.2h0M630.2 1197.1h0M630.3 1205.3h0M630.9 1209.5h0M630.8 1211.9h0M630.9 1209.6h0M630.8 1218.7h0M630.1 1200.9h0M630.8 1222.3h0M630.6 1216.8h0M630.3 1197.4h0M631.1 1197.6h0M631.0 1199.0h0M630.9 1212.9h0M630.6 1211.5h0M630.3 1203.0h0M630.1 1214.5h0M631.2 1205.3h0M630.7 1217.6h0M630.7 1216.1h0M630.4 1202.5h0M630.6 1198.0h0M630.9 1212.9h0M630.6 1198.4h0M631.1 1211.6h0M630.3 1214.4h0M630.2 1200.1h0M631.2 1217.1h0M630.3 1207.0h0M630.5 1213.3h0M631.0 1210.2h0M630.1 1215.6h0M630.7 1209.6h0M630.5 1210.3h0M631.3 1208.9h0M630.7 1200.4h0M630.7 1213.3h0M630.9 1196.7h0M631.1 1207.5h0M635.6 1205.7h0M634.7 1198.1h0M635.5 1214.3h0M635.4 1210.2h0M635.4 1203.4h0M634.9 1218.0h0M635.7 1218.4h0M635.3 1225.5h0M635.6 1224.5h0M634.6 1204.1h0M635.2 1208.4h0M634.8 1218.8h0M635.1 1197.9h0M635.0 1221.0h0M635.2 1216.2h0M634.7 1206.2h0M635.1 1222.6h0M635.0 1210.7h0M635.4 1204.2h0M634.9 1220.7h0M635.0 1223.7h0M634.9 1201.5h0M635.7 1224.5h0M634.7 1202.2h0M634.8 1217.1h0M635.7 1211.5h0M635.0 1222.4h0M635.5 1225.8h0M634.6 1200.3h0M634.7 1210.4h0M635.3 1222.2h0M634.8 1209.0h0M634.8 1202.3h0M635.0 1211.2h0M635.3 1198.6h0M634.8 1202.4h0M634.6 1221.9h0M635.0 1221.3h0M635.4 1220.5h0M635.6 1199.1h0M635.3 1216.1h0M635.0 1210.4h0M635.7 1216.5h0M634.9 1207.1h0M635.5 1205.8h0M635.5 1224.0h0M635.4 1217.2h0M635.2 1215.5h0M634.8 1212.0h0M635.3 1205.9h0M634.6 1210.0h0M635.7 1222.9h0M638.5 1210.9h0M638.8 1210.0h0M638.6 1219.8h0M638.5 1217.8h0M639.2 1206.1h0M638.9 1219.5h0M639.3 1219.0h0M638.7 1203.5h0M638.6 1208.9h0M639.4 1208.0h0M638.5 1211.6h0M639.2 1213.6h0M638.5 1208.4h0M639.7 1213.8h0M639.6 1212.9h0M638.6 1210.4h0M639.7 1200.5h0M639.2 1205.5h0M639.4 1207.9h0M639.6 1214.9h0M639.1 1207.5h0M639.1 1205.3h0M638.9 1200.8h0M639.3 1214.8h0M638.5 1207.7h0M639.3 1210.9h0M639.4 1218.3h0M639.4 1213.7h0M639.3 1205.1h0M638.9 1205.8h0M639.3 1213.0h0M639.0 1217.3h0M639.3 1203.7h0M638.8 1208.7h0M638.8 1204.3h0M639.3 1202.5h0M638.7 1214.4h0M639.5 1208.4h0M639.5 1208.5h0M639.2 1217.5h0M643.5 1203.4h0M643.3 1204.9h0M643.5 1201.4h0M643.7 1212.3h0M643.3 1216.1h0M643.6 1200.8h0M643.4 1200.0h0M643.1 1206.6h0M643.0 1216.4h0M644.0 1202.4h0M644.1 1202.4h0M643.3 1206.0h0M643.9 1204.8h0M643.5 1203.5h0M643.4 1209.1h0M643.3 1200.6h0M643.4 1200.3h0M643.4 1207.6h0M643.1 1215.9h0M644.0 1202.2h0M643.5 1202.8h0M643.2 1202.8h0M643.5 1200.2h0M643.6 1200.4h0M643.9 1204.5h0M643.2 1203.9h0M643.6 1209.4h0M643.9 1201.6h0M644.0 1215.2h0M643.1 1209.0h0M643.4 1213.3h0M643.8 1201.0h0M643.4 1213.5h0M643.8 1206.1h0M643.3 1204.7h0M643.4 1214.7h0M647.7 1204.2h0M647.8 1216.0h0M647.6 1208.7h0M647.5 1204.4h0M647.8 1208.1h0M646.9 1206.4h0M648.1 1210.4h0M647.7 1222.5h0M647.5 1221.8h0M647.2 1220.1h0M647.2 1219.3h0M647.7 1221.5h0M647.1 1206.1h0M647.8 1213.0h0M647.0 1219.0h0M647.4 1222.2h0M647.3 1215.3h0M646.9 1205.4h0M647.8 1209.9h0M648.0 1206.5h0M647.4 1218.6h0M647.2 1219.4h0M647.7 1210.9h0M647.0 1202.6h0M648.0 1221.9h0M647.5 1220.9h0M647.8 1222.0h0M647.3 1218.2h0M647.6 1223.2h0M647.6 1208.3h0M647.7 1205.2h0M647.9 1220.0h0M647.4 1219.6h0M647.4 1208.2h0M647.4 1215.1h0M646.9 1204.5h0M647.4 1205.7h0M648.1 1222.9h0M647.8 1220.8h0M647.4 1206.2h0M652.2 1223.9h0M651.7 1213.2h0M651.9 1216.0h0M652.4 1213.5h0M651.7 1215.8h0M652.4 1210.6h0M651.4 1219.1h0M651.5 1210.6h0M651.8 1216.7h0M652.2 1222.7h0M651.6 1225.4h0M652.6 1220.8h0M652.1 1215.3h0M651.5 1211.8h0M651.7 1213.3h0M652.4 1213.2h0M651.5 1220.8h0M651.4 1222.9h0M651.7 1210.6h0M651.4 1216.7h0M651.6 1222.7h0M652.0 1221.5h0M652.4 1210.0h0M651.9 1219.1h0M652.1 1226.1h0M651.5 1224.6h0M651.8 1212.5h0M652.2 1224.3h0M652.0 1227.1h0M652.5 1226.1h0M651.9 1224.8h0M652.5 1210.2h0M651.6 1216.4h0M652.2 1220.7h0M652.3 1224.8h0M652.6 1224.1h0M651.6 1215.9h0M652.1 1214.8h0M656.4 1224.7h0M656.2 1216.3h0M656.8 1225.8h0M655.8 1224.2h0M656.5 1212.3h0M655.7 1216.1h0M656.2 1212.9h0M655.6 1222.3h0M655.6 1207.6h0M656.7 1220.0h0M656.5 1206.6h0M655.6 1207.6h0M655.7 1221.7h0M655.7 1210.7h0M656.6 1217.7h0M656.2 1224.4h0M656.6 1210.0h0M656.3 1214.2h0M656.5 1221.7h0M655.7 1218.6h0M656.5 1218.8h0M655.9 1210.3h0M656.4 1216.8h0M655.8 1222.9h0M656.0 1216.8h0M656.6 1219.0h0M655.7 1220.2h0M655.8 1213.7h0M655.9 1216.6h0M655.8 1213.5h0M656.6 1211.9h0M656.7 1208.0h0M656.6 1223.9h0M656.1 1213.2h0M656.4 1220.5h0M656.3 1210.6h0M656.4 1218.2h0M656.3 1221.0h0M661.1 1213.2h0M660.9 1209.3h0M661.1 1200.4h0M660.8 1210.7h0M660.2 1207.9h0M660.3 1211.2h0M660.6 1204.8h0M661.2 1202.9h0M660.6 1207.2h0M661.2 1203.2h0M660.6 1208.4h0M661.0 1207.7h0M660.9 1209.8h0M660.0 1200.3h0M660.6 1211.2h0M660.8 1201.7h0M661.3 1206.8h0M661.1 1205.9h0M660.3 1214.0h0M660.4 1211.4h0M660.6 1213.0h0M660.5 1203.8h0M660.5 1207.1h0M660.7 1212.5h0M660.1 1212.2h0M660.6 1208.4h0M660.1 1207.2h0M660.1 1203.6h0M661.1 1207.5h0M664.5 1206.9h0M664.6 1209.9h0M664.0 1210.5h0M664.2 1207.0h0M664.3 1206.9h0M664.5 1206.7h0M664.0 1211.0h0M664.1 1209.0h0M664.7 1207.3h0M665.2 1211.5h0M664.3 1209.7h0M664.6 1211.0h0M664.6 1207.0h0M665.0 1209.5h0M664.6 1210.4h0M562.9 1176.2h0M652.0 1231.4h0M669.1 1192.8h0M669.1 1209.1h0M673.3 1209.6h0M660.7 1199.1h0M571.3 1183.3h0M579.7 1186.8h0M46.4 1356.5h0M47.1 1338.1h0M46.5 1337.1h0M46.9 1353.9h0M46.5 1341.3h0M46.5 1349.0h0M46.6 1342.3h0M46.9 1367.6h0M45.8 1348.0h0M46.7 1361.9h0M46.7 1359.7h0M47.1 1363.9h0M46.1 1347.1h0M46.7 1342.8h0M46.2 1370.6h0M46.5 1355.8h0M45.6 1364.6h0M46.9 1353.9h0M45.9 1337.5h0M46.3 1341.3h0M45.8 1342.2h0M47.0 1337.7h0M46.7 1364.6h0M46.9 1374.1h0M46.8 1352.3h0M47.0 1374.6h0M46.6 1340.9h0M45.7 1350.2h0M45.7 1360.1h0M46.7 1361.8h0M46.0 1337.6h0M46.7 1371.6h0M46.3 1375.5h0M46.9 1348.1h0M46.1 1348.1h0M45.7 1361.2h0M46.9 1352.9h0M46.1 1356.9h0M46.2 1370.4h0M46.8 1361.7h0M46.0 1341.1h0M47.0 1349.4h0M45.6 1370.4h0M46.8 1373.1h0M46.9 1348.5h0M46.6 1339.5h0M45.9 1367.2h0M45.8 1345.0h0M46.8 1345.3h0M46.7 1352.6h0M46.8 1339.7h0M47.1 1363.1h0M46.5 1370.1h0M47.0 1349.7h0M47.1 1362.9h0M46.5 1341.7h0M46.8 1350.6h0M45.9 1342.6h0M47.1 1340.6h0M46.4 1347.3h0M46.4 1350.9h0M46.6 1337.4h0M46.9 1361.6h0M46.0 1361.7h0M46.8 1347.8h0M46.9 1353.5h0M46.2 1347.1h0M46.3 1340.4h0M46.9 1373.9h0M46.1 1373.0h0M46.8 1354.5h0M47.0 1368.6h0M44.8 1313.5h0M46.4 1313.5h0M47.9 1313.5h0M44.8 1316.1h0M46.4 1316.1h0M47.9 1316.1h0M44.8 1318.8h0M46.4 1318.8h0M47.9 1318.8h0M44.8 1321.4h0M46.4 1321.4h0M47.9 1321.4h0M44.8 1324.0h0M46.4 1324.0h0M47.9 1324.0h0M44.8 1326.7h0M46.4 1326.7h0M47.9 1326.7h0M44.8 1329.3h0M46.4 1329.3h0M47.9 1329.3h0M44.8 1331.9h0M46.4 1331.9h0M47.9 1331.9h0M44.8 1378.4h0M46.4 1378.4h0M47.9 1378.4h0M44.8 1380.3h0M46.4 1380.3h0M47.9 1380.3h0M53.0 1354.3h0M53.0 1353.7h0M53.0 1352.0h0M53.0 1352.2h0M53.4 1360.8h0M53.3 1353.2h0M53.2 1353.1h0M53.0 1358.0h0M53.3 1353.3h0M53.3 1353.3h0M53.1 1361.7h0M53.2 1362.4h0M53.4 1359.5h0M53.4 1359.8h0M53.4 1354.4h0M53.2 1354.1h0M53.2 1360.2h0M53.2 1356.4h0M53.0 1352.3h0M53.1 1353.8h0M53.4 1359.0h0M53.1 1354.6h0M53.3 1360.1h0M53.4 1352.5h0M93.1 1357.2h0M92.6 1349.8h0M93.0 1348.6h0M92.9 1359.3h0M92.9 1348.2h0M93.1 1356.0h0M92.7 1354.8h0M92.8 1353.7h0M93.0 1349.7h0M92.7 1360.1h0M93.1 1356.9h0M92.7 1351.3h0M92.8 1347.4h0M93.0 1351.2h0M93.1 1345.6h0M93.0 1347.8h0M93.0 1348.6h0M92.8 1347.3h0M92.8 1353.2h0M92.9 1347.1h0M92.7 1346.3h0M92.9 1346.0h0M92.9 1358.7h0M92.8 1346.1h0M92.7 1359.8h0M92.7 1359.4h0M92.8 1352.8h0M92.9 1339.0h0M133.7 1337.9h0M133.7 1347.8h0M133.5 1330.3h0M132.9 1326.4h0M133.3 1332.6h0M133.8 1336.3h0M133.5 1338.8h0M133.2 1333.4h0M133.7 1346.2h0M133.2 1330.7h0M133.2 1331.8h0M133.4 1331.7h0M133.5 1347.4h0M133.4 1336.6h0M133.2 1333.8h0M133.4 1327.1h0M133.2 1334.5h0M133.5 1343.8h0M133.4 1344.5h0M132.9 1347.0h0M133.5 1330.4h0M133.8 1326.8h0M133.5 1329.9h0M132.9 1327.5h0M133.4 1345.1h0M133.0 1332.3h0M133.3 1344.5h0M133.0 1332.4h0M133.8 1328.3h0M133.6 1332.0h0M133.4 1339.5h0M133.1 1347.5h0M132.9 1340.1h0M133.6 1343.8h0M133.1 1337.3h0M133.8 1346.4h0M133.7 1345.0h0M133.0 1347.9h0M133.8 1344.7h0M133.8 1341.4h0M173.1 1283.8h0M173.4 1305.0h0M173.4 1294.2h0M173.1 1310.8h0M173.5 1321.1h0M173.1 1292.9h0M173.3 1283.4h0M173.3 1297.9h0M173.3 1289.7h0M173.5 1314.7h0M173.1 1294.4h0M173.4 1309.3h0M173.5 1285.4h0M173.1 1293.2h0M173.0 1317.6h0M173.2 1320.7h0M173.1 1307.0h0M173.1 1308.2h0M173.4 1282.7h0M173.1 1308.9h0M173.2 1308.6h0M173.1 1290.8h0M173.1 1315.4h0M173.3 1286.1h0M173.5 1306.0h0M173.5 1284.5h0M173.1 1321.4h0M173.4 1299.7h0M173.5 1327.1h0M173.2 1302.0h0M173.1 1317.9h0M173.2 1304.6h0M173.4 1282.4h0M173.5 1295.5h0M173.3 1308.7h0M173.2 1318.8h0M173.2 1283.1h0M173.3 1304.9h0M173.2 1317.9h0M173.4 1290.6h0M173.3 1296.9h0M173.2 1294.0h0M173.4 1316.2h0M173.4 1294.0h0M173.1 1324.4h0M173.2 1320.7h0M173.3 1306.8h0M173.4 1327.8h0M173.1 1295.6h0M173.1 1280.6h0M173.4 1313.3h0M173.4 1319.8h0M173.1 1326.1h0M173.2 1288.2h0M173.4 1281.7h0M173.3 1308.9h0M173.4 1299.5h0M173.1 1291.3h0M173.2 1312.7h0M173.2 1305.6h0M173.4 1310.0h0M173.2 1325.1h0M173.4 1322.1h0M173.3 1288.6h0M173.1 1283.1h0M173.3 1311.6h0M173.1 1280.5h0M173.1 1290.2h0M173.5 1324.9h0M173.5 1299.1h0M173.2 1315.8h0M173.2 1312.2h0M214.8 1277.8h0M214.8 1285.7h0M214.8 1289.1h0M214.8 1290.9h0M214.8 1292.5h0M214.8 1305.4h0M214.8 1310.1h0M284.7 1380.5h0M284.5 1378.6h0M285.8 1382.4h0M287.4 1375.0h0M282.8 1377.8h0M288.2 1375.2h0M282.2 1376.8h0M282.5 1374.8h0M287.0 1375.7h0M284.1 1381.8h0M299.9 1358.4h0M293.3 1352.8h0M299.5 1357.1h0M287.6 1362.3h0M288.5 1365.6h0M298.6 1366.7h0M291.2 1373.0h0M299.2 1361.5h0M296.8 1369.7h0M286.9 1362.4h0M289.2 1357.5h0M297.6 1352.3h0M289.1 1367.9h0M298.9 1356.8h0M300.4 1363.1h0M298.4 1359.1h0M294.9 1351.8h0M297.6 1351.6h0M287.9 1362.3h0M297.3 1368.1h0M297.1 1351.1h0M287.4 1357.0h0M290.8 1367.5h0M288.5 1370.1h0M298.7 1366.6h0M296.6 1370.9h0M292.1 1352.5h0M296.0 1350.8h0M294.3 1374.4h0M293.6 1372.6h0M288.6 1374.0h0M287.0 1375.0h0M295.7 1341.6h0M301.5 1328.5h0M301.5 1334.5h0M301.5 1337.7h0M301.5 1342.4h0M301.5 1345.1h0M302.3 1349.5h0M303.6 1356.1h0M304.9 1364.0h0M302.3 1369.2h0M298.3 1375.0h0M306.2 1333.8h0M307.5 1342.9h0M308.8 1325.9h0M308.8 1330.3h0M308.8 1350.8h0M309.6 1356.1h0M308.8 1362.7h0M312.8 1325.9h0M312.8 1329.8h0M311.5 1344.3h0M311.5 1350.8h0M312.8 1356.1h0M315.4 1335.1h0M318.0 1327.2h0M318.0 1344.3h0M319.4 1349.5h0M320.7 1320.6h0M320.7 1327.2h0M320.7 1352.1h0M322.0 1331.1h0M323.3 1314.0h0M323.8 1318.0h0M324.1 1340.3h0M325.9 1336.4h0M326.7 1309.6h0M327.2 1331.1h0M327.2 1350.3h0M329.9 1329.3h0M329.9 1336.4h0M329.9 1345.1h0M337.8 1349.0h0M340.9 1319.8h0M347.5 1308.8h0M347.5 1325.9h0M347.5 1342.4h0M351.7 1303.5h0M352.2 1310.9h0M352.2 1326.1h0M352.2 1333.0h0M366.1 1304.1h0M366.1 1326.1h0M366.1 1334.3h0M393.5 1308.8h0M415.3 1329.3h0M425.0 1278.0h0M446.3 1305.6h0M304.4 1350.8h0M306.2 1356.1h0M310.2 1358.7h0M315.4 1350.8h0M318.0 1350.8h0M322.0 1350.8h0M304.9 1345.6h0M295.7 1361.3h0M294.4 1350.8h0M302.3 1361.3h0M301.0 1365.3h0M307.0 1364.0h0M304.1 1367.9h0M514.6 1379.9h0M520.0 1373.3h0M523.1 1380.6h0M532.1 1370.2h0M527.3 1381.3h0M528.2 1372.6h0M513.8 1381.2h0M537.7 1368.6h0M519.0 1372.5h0M517.3 1381.2h0M534.6 1366.8h0M517.6 1372.8h0M515.0 1381.9h0M516.5 1371.8h0M528.2 1373.7h0M524.5 1374.6h0M539.5 1365.4h0M509.6 1375.5h0M516.1 1373.0h0M510.0 1376.0h0M530.6 1370.6h0M539.4 1365.7h0M520.0 1380.7h0M515.1 1380.9h0M519.2 1374.1h0M526.6 1380.3h0M538.3 1366.1h0M516.6 1371.6h0M511.8 1374.6h0M538.5 1363.7h0M528.0 1380.5h0M521.5 1379.2h0M529.3 1373.3h0M531.3 1369.4h0M537.2 1363.6h0M512.1 1381.3h0M515.5 1381.9h0M528.5 1379.8h0M535.0 1366.2h0M532.9 1368.1h0M536.8 1365.2h0M538.2 1365.4h0M537.9 1369.7h0M536.0 1364.5h0M534.6 1366.8h0M523.2 1380.6h0M512.8 1382.1h0M513.2 1380.1h0M523.5 1373.2h0M533.0 1376.0h0M523.8 1372.5h0M512.7 1380.9h0M536.8 1370.2h0M514.0 1374.0h0M518.1 1381.3h0M526.1 1380.9h0M519.3 1373.7h0M513.3 1381.9h0M515.5 1373.1h0M513.1 1381.9h0M534.4 1363.4h0M536.5 1363.4h0M537.6 1361.9h0M535.2 1360.8h0M537.4 1362.4h0M538.8 1362.7h0M538.7 1359.7h0M539.7 1359.1h0M538.9 1357.8h0M540.8 1360.1h0M541.6 1354.5h0M541.8 1354.5h0M540.7 1356.4h0M540.1 1352.8h0M541.2 1356.7h0M543.5 1351.9h0M543.0 1352.7h0M543.6 1350.7h0M545.2 1350.4h0M545.0 1347.6h0M545.0 1349.8h0M546.5 1344.7h0M546.1 1349.3h0M545.6 1349.4h0M548.6 1347.9h0M547.6 1347.9h0M547.7 1347.0h0M548.3 1343.2h0M547.0 1345.4h0M549.2 1341.7h0M549.0 1344.4h0M547.6 1339.9h0M550.6 1341.9h0M549.1 1338.2h0M550.9 1341.3h0M551.2 1334.7h0M552.7 1337.5h0M551.6 1335.0h0M553.7 1336.5h0M553.3 1335.9h0M530.6 1371.9h0M537.2 1368.7h0M541.1 1361.3h0M543.7 1358.7h0M542.4 1350.8h0M542.9 1349.5h0M545.0 1364.0h0M546.4 1348.2h0M547.7 1350.8h0M549.0 1345.6h0M549.0 1341.6h0M549.8 1339.0h0M551.6 1336.4h0M551.6 1341.6h0M552.9 1335.1h0M553.5 1327.7h0M555.0 1328.5h0M554.2 1349.5h0M556.9 1362.7h0M557.7 1332.4h0M558.7 1330.3h0M559.5 1342.9h0M560.3 1341.6h0M560.3 1354.8h0M562.9 1340.3h0M565.3 1335.1h0M565.5 1345.1h0M556.9 1333.8h0M550.3 1348.2h0M547.7 1356.1h0M545.0 1356.1h0M539.8 1362.7h0M570.5 1314.8h0M573.9 1320.6h0M576.1 1322.7h0M578.7 1339.5h0M581.3 1346.1h0M583.1 1329.3h0M594.4 1323.2h0M612.8 1305.6h0M560.8 1288.3h0M570.5 1278.0h0M573.9 1289.3h0M599.7 1291.2h0M615.5 1284.6h0M650.7 1293.5h0M660.1 1284.1h0M673.8 1294.6h0M539.8 1366.6h0M535.8 1370.5h0M531.9 1374.5h0M550.3 1342.9h0M548.2 1348.2h0M552.4 1339.0h0M52.6 1523.1h0M52.6 1524.0h0M52.8 1519.2h0M52.6 1524.8h0M52.6 1505.6h0M52.8 1525.6h0M52.6 1507.8h0M52.8 1506.0h0M52.6 1508.1h0M52.8 1511.1h0M52.4 1517.5h0M52.7 1506.8h0M52.6 1525.7h0M52.8 1515.2h0M52.7 1527.3h0M52.7 1521.3h0M52.5 1511.2h0M52.8 1510.0h0M52.8 1523.6h0M52.7 1518.2h0M52.7 1507.6h0M52.6 1511.5h0M52.6 1508.2h0M52.7 1518.6h0M52.6 1525.2h0M52.5 1513.6h0M52.9 1506.1h0M52.8 1526.3h0M52.5 1523.9h0M52.9 1506.2h0M52.7 1511.7h0M52.7 1514.0h0M52.8 1527.3h0M52.5 1506.2h0M52.5 1527.6h0M52.9 1519.3h0M53.2 1501.5h0M214.6 1436.8h0M214.7 1464.3h0M214.6 1508.6h0M214.0 1453.1h0M214.7 1504.4h0M214.0 1440.3h0M214.3 1500.9h0M214.4 1426.8h0M214.4 1469.1h0M214.4 1505.1h0M214.0 1492.1h0M214.6 1483.8h0M213.9 1466.6h0M214.5 1491.7h0M213.8 1486.7h0M214.7 1440.1h0M214.7 1486.8h0M214.0 1494.7h0M214.3 1483.3h0M214.3 1446.5h0M214.7 1459.5h0M214.1 1444.4h0M213.9 1458.0h0M214.2 1460.8h0M214.1 1494.1h0M214.0 1489.4h0M214.6 1441.4h0M214.2 1494.5h0M213.9 1485.4h0M214.0 1454.6h0M214.6 1475.6h0M214.2 1435.8h0M214.0 1440.6h0M214.3 1448.9h0M213.9 1491.7h0M214.3 1442.1h0M214.0 1449.8h0M214.2 1469.9h0M214.7 1461.5h0M214.3 1444.1h0M214.5 1470.6h0M214.1 1510.4h0M214.0 1469.2h0M214.1 1499.1h0M214.0 1497.1h0M214.3 1439.5h0M214.5 1468.3h0M214.0 1463.3h0M214.5 1495.2h0M214.3 1485.5h0M214.6 1479.5h0M214.5 1501.9h0M214.7 1435.8h0M214.5 1436.6h0M213.8 1467.4h0M214.1 1481.6h0M214.2 1482.6h0M214.7 1498.8h0M214.6 1441.4h0M214.0 1435.5h0M214.7 1456.0h0M214.2 1484.8h0M214.5 1451.9h0M214.4 1487.5h0M214.2 1472.4h0M214.3 1450.9h0M214.2 1473.5h0M214.5 1465.6h0M214.6 1497.6h0M214.3 1494.0h0M214.7 1446.1h0M214.3 1444.9h0M213.8 1497.6h0M214.4 1497.9h0M214.1 1499.1h0M214.5 1457.9h0M214.1 1437.3h0M214.4 1472.5h0M214.0 1506.6h0M214.4 1475.9h0M214.4 1484.1h0M214.5 1429.2h0M213.8 1461.1h0M214.2 1441.5h0M214.5 1433.5h0M214.2 1445.1h0M214.1 1450.8h0M214.5 1468.6h0M214.5 1478.1h0M214.2 1472.1h0M214.6 1456.6h0M214.5 1439.5h0M214.8 1468.2h0M214.4 1502.1h0M214.7 1502.1h0M214.5 1503.4h0M214.2 1501.4h0M213.8 1474.8h0M214.5 1470.2h0M214.2 1445.2h0M214.6 1489.2h0M214.7 1475.5h0M214.6 1460.4h0M214.3 1431.8h0M214.4 1441.8h0M214.4 1484.3h0M214.2 1469.9h0M214.2 1491.8h0M214.8 1436.3h0M213.8 1483.4h0M214.6 1500.5h0M213.9 1429.2h0M213.9 1508.6h0M214.5 1431.7h0M213.8 1487.7h0M214.4 1471.5h0M214.0 1452.7h0M214.6 1456.1h0M214.3 1429.7h0M214.0 1490.3h0M214.4 1428.5h0M214.5 1507.3h0M214.6 1508.1h0M213.8 1496.8h0M214.7 1437.3h0M214.6 1478.8h0M214.0 1494.8h0M214.4 1460.6h0M214.3 1462.2h0M214.4 1493.2h0M214.0 1428.4h0M214.7 1458.2h0M214.5 1497.4h0M214.3 1515.9h0M320.0 1497.2h0M313.8 1460.0h0M328.4 1482.7h0M325.7 1498.4h0M312.3 1496.4h0M315.0 1498.3h0M329.2 1477.2h0M316.4 1498.8h0M328.7 1490.7h0M311.9 1485.5h0M328.2 1482.8h0M330.0 1491.0h0M316.1 1498.7h0M328.9 1458.4h0M321.7 1497.9h0M312.8 1467.6h0M313.4 1489.3h0M328.5 1498.2h0M328.6 1452.6h0M320.4 1495.5h0M330.0 1487.3h0M328.1 1482.3h0M314.3 1487.6h0M311.3 1454.9h0M326.8 1499.3h0M329.6 1459.3h0M313.6 1491.7h0M328.5 1492.0h0M310.9 1471.9h0M313.6 1482.1h0M328.0 1478.9h0M313.3 1474.4h0M324.9 1499.2h0M310.9 1487.6h0M319.7 1453.8h0M328.6 1469.7h0M313.3 1470.7h0M317.2 1453.1h0M312.6 1490.2h0M312.2 1462.3h0M313.9 1471.6h0M328.7 1456.9h0M328.5 1453.3h0M327.7 1481.9h0M318.2 1451.5h0M315.4 1498.8h0M312.8 1493.0h0M313.1 1492.4h0M312.9 1474.9h0M328.8 1474.5h0M314.0 1452.6h0M331.1 1459.3h0M312.8 1474.7h0M329.0 1454.5h0M325.8 1452.6h0M313.8 1492.2h0M316.9 1497.2h0M313.6 1462.2h0M312.0 1475.7h0M313.7 1467.6h0M313.9 1465.5h0M315.3 1452.7h0M311.7 1460.7h0M328.3 1469.7h0M324.8 1452.5h0M314.9 1465.3h0M328.8 1472.6h0M327.9 1453.3h0M321.4 1497.1h0M312.6 1474.3h0M328.5 1477.0h0M312.4 1469.7h0M314.0 1456.0h0M325.3 1498.0h0M328.8 1463.3h0M327.5 1472.1h0M327.5 1458.3h0M328.0 1489.2h0M328.3 1485.0h0M327.2 1472.9h0M329.5 1485.3h0M329.6 1467.2h0M312.5 1469.8h0M313.1 1464.1h0M328.5 1488.6h0M327.3 1453.0h0M329.3 1472.2h0M313.2 1490.4h0M313.6 1454.7h0M312.4 1483.5h0M320.2 1452.8h0M329.4 1478.9h0M322.1 1452.3h0M322.4 1496.0h0M327.5 1484.9h0M330.2 1492.7h0M328.0 1471.5h0M323.4 1450.7h0M313.8 1478.7h0M330.2 1478.9h0M321.0 1452.2h0M328.6 1462.0h0M318.6 1455.6h0M313.3 1466.9h0M328.9 1459.0h0M313.5 1459.9h0M312.4 1455.5h0M326.7 1452.3h0M313.3 1477.7h0M330.4 1463.5h0M312.6 1487.6h0M314.5 1455.2h0M329.0 1495.7h0M329.8 1462.2h0M313.2 1493.7h0M318.4 1496.9h0M328.5 1466.2h0M322.7 1494.3h0M327.6 1498.0h0M328.4 1487.2h0M329.6 1482.8h0M311.4 1463.7h0M313.9 1494.7h0M328.8 1486.7h0M320.6 1497.9h0M314.4 1497.0h0M313.9 1468.2h0M329.4 1491.4h0M313.9 1477.2h0M329.0 1455.7h0M312.6 1486.1h0M312.6 1489.8h0M314.8 1453.7h0M312.5 1494.9h0M321.2 1453.2h0M312.3 1464.5h0M320.1 1496.9h0M328.7 1453.4h0M312.4 1483.7h0M328.7 1469.8h0M322.1 1452.0h0M319.8 1497.0h0M313.2 1477.1h0M313.2 1488.6h0M312.7 1476.4h0M312.2 1487.3h0M329.8 1484.0h0M326.2 1464.6h0M326.9 1477.7h0M314.0 1473.2h0M316.4 1453.7h0M322.7 1451.6h0M313.4 1462.0h0M311.9 1452.6h0M322.7 1497.6h0M313.1 1467.2h0M326.5 1498.4h0M313.4 1485.4h0M316.3 1454.0h0M314.9 1484.1h0M315.7 1496.2h0M313.4 1497.9h0M328.0 1468.6h0M315.6 1497.2h0M313.2 1481.8h0M313.9 1473.2h0M322.8 1451.4h0M313.7 1467.0h0M313.2 1489.2h0M323.6 1497.2h0M313.5 1483.2h0M314.0 1483.5h0M324.3 1498.2h0M313.4 1470.0h0M311.9 1468.0h0M313.4 1477.0h0M329.3 1464.6h0M329.5 1483.3h0M313.4 1462.3h0M319.6 1496.1h0M329.7 1459.1h0M314.5 1475.4h0M330.3 1459.9h0M312.3 1457.8h0M314.8 1494.1h0M314.3 1458.6h0M328.5 1475.8h0M312.9 1467.2h0M328.9 1473.1h0M323.8 1452.8h0M312.8 1482.1h0M313.2 1460.2h0M313.9 1461.8h0M329.6 1452.4h0M321.1 1496.6h0M313.3 1491.8h0M329.7 1474.8h0M314.0 1485.1h0M329.7 1481.7h0M312.0 1469.7h0M320.8 1498.6h0M328.2 1489.5h0M327.9 1495.8h0M330.3 1487.0h0M329.8 1495.9h0M311.4 1489.7h0M329.9 1478.1h0M317.5 1453.3h0M313.0 1491.6h0M327.7 1492.2h0M313.8 1469.7h0M315.0 1453.5h0M312.5 1482.3h0M328.2 1473.0h0M312.8 1474.2h0M328.0 1475.8h0M325.5 1454.8h0M313.4 1495.9h0M328.0 1462.9h0M313.1 1477.4h0M320.9 1497.4h0M311.2 1470.6h0M312.2 1491.6h0M328.5 1492.7h0M317.7 1497.6h0M318.7 1454.3h0M323.8 1452.3h0M328.6 1466.6h0M328.4 1497.9h0M314.1 1465.0h0M315.0 1452.7h0M328.7 1469.1h0M324.4 1453.4h0M312.8 1473.1h0M312.7 1464.1h0M322.1 1496.7h0M329.6 1460.9h0M315.0 1473.5h0M327.2 1477.6h0M315.0 1497.9h0M315.2 1476.9h0M329.1 1478.2h0M328.1 1463.2h0M322.7 1452.0h0M313.5 1463.7h0M318.1 1451.3h0M313.3 1474.2h0M314.3 1460.4h0M330.8 1486.3h0M329.3 1452.5h0M314.8 1492.1h0M327.9 1461.6h0M328.8 1488.4h0M327.8 1477.2h0M313.6 1485.4h0M313.3 1483.6h0M314.8 1496.3h0M327.9 1498.0h0M311.6 1485.8h0M330.3 1459.1h0M316.7 1424.7h0M312.8 1430.5h0M314.1 1432.6h0M315.4 1438.4h0M316.7 1441.0h0M322.0 1438.4h0M324.6 1433.7h0M328.0 1432.6h0M325.9 1438.9h0M323.3 1445.0h0M327.2 1446.3h0M319.4 1447.6h0M322.8 1506.7h0M325.9 1502.8h0M403.0 1484.9h0M418.2 1490.8h0M402.4 1493.3h0M419.9 1469.3h0M403.4 1484.1h0M418.7 1458.5h0M418.2 1449.4h0M417.5 1484.5h0M401.6 1488.0h0M401.2 1487.0h0M416.2 1469.2h0M407.5 1446.8h0M409.2 1499.8h0M401.5 1483.5h0M406.9 1446.0h0M417.9 1450.0h0M417.3 1495.1h0M418.6 1458.5h0M417.3 1485.4h0M420.0 1456.0h0M402.5 1485.9h0M403.2 1479.4h0M403.1 1452.9h0M407.0 1449.0h0M417.5 1448.8h0M402.9 1463.8h0M399.7 1490.0h0M402.2 1489.5h0M404.8 1446.3h0M400.1 1447.0h0M420.3 1476.6h0M408.5 1444.7h0M417.5 1446.3h0M416.8 1449.5h0M403.2 1496.4h0M419.2 1488.6h0M419.2 1472.4h0M417.6 1452.6h0M416.3 1468.7h0M400.5 1472.8h0M418.3 1482.3h0M403.4 1445.6h0M401.8 1447.5h0M401.7 1452.0h0M415.7 1481.7h0M402.9 1495.2h0M413.9 1447.0h0M406.7 1501.9h0M409.2 1445.4h0M416.1 1464.6h0M400.0 1453.2h0M418.9 1447.2h0M414.8 1500.9h0M404.1 1499.9h0M417.5 1461.8h0M400.9 1452.1h0M417.7 1501.5h0M413.2 1446.6h0M402.2 1479.9h0M418.5 1497.7h0M417.2 1452.8h0M418.2 1481.4h0M408.9 1499.3h0M417.6 1500.8h0M419.0 1492.0h0M401.3 1445.9h0M416.7 1445.9h0M419.1 1488.5h0M402.7 1451.0h0M417.1 1453.4h0M418.8 1466.8h0M418.6 1494.6h0M419.4 1473.6h0M400.2 1462.1h0M403.2 1479.0h0M400.4 1490.8h0M418.3 1450.8h0M417.1 1481.5h0M401.5 1474.4h0M409.2 1500.7h0M419.0 1450.1h0M401.4 1467.8h0M402.9 1458.6h0M402.1 1479.3h0M404.1 1499.6h0M418.2 1453.1h0M419.8 1480.1h0M418.9 1494.2h0M406.1 1500.3h0M412.3 1501.0h0M417.0 1451.1h0M405.1 1501.4h0M402.5 1472.1h0M419.3 1459.3h0M410.4 1446.1h0M418.6 1484.8h0M416.5 1484.2h0M401.7 1454.0h0M419.2 1468.7h0M401.7 1479.2h0M401.7 1470.0h0M418.8 1449.1h0M400.9 1457.6h0M406.5 1502.1h0M401.5 1468.3h0M401.2 1476.6h0M418.5 1498.9h0M402.7 1467.0h0M418.1 1475.1h0M416.0 1475.6h0M403.1 1499.6h0M418.7 1483.1h0M418.5 1461.4h0M402.0 1473.9h0M400.7 1473.6h0M414.5 1444.9h0M402.5 1488.1h0M401.6 1457.6h0M404.3 1472.1h0M417.8 1450.7h0M414.1 1444.2h0M418.8 1494.0h0M403.6 1460.4h0M400.6 1459.2h0M404.5 1446.0h0M401.4 1460.5h0M401.4 1497.2h0M400.9 1497.1h0M418.9 1462.9h0M400.9 1498.9h0M401.4 1453.7h0M407.8 1501.9h0M400.8 1458.9h0M401.9 1491.1h0M417.5 1465.8h0M418.2 1481.7h0M417.7 1467.9h0M418.0 1473.9h0M401.7 1492.2h0M417.1 1498.9h0M402.5 1460.2h0M418.3 1458.9h0M419.8 1447.3h0M415.5 1448.3h0M417.5 1464.6h0M402.3 1486.8h0M417.6 1453.2h0M403.5 1498.3h0M401.1 1456.8h0M400.8 1499.4h0M417.4 1458.3h0M402.6 1479.5h0M401.5 1469.2h0M415.7 1501.2h0M418.8 1484.3h0M404.6 1499.7h0M414.7 1445.5h0M403.9 1496.0h0M417.1 1461.6h0M402.4 1497.8h0M419.0 1473.5h0M416.5 1483.2h0M403.1 1454.7h0M416.3 1477.9h0M400.0 1476.6h0M415.4 1446.8h0M401.5 1490.1h0M413.5 1445.8h0M416.2 1501.8h0M400.4 1463.4h0M417.6 1467.5h0M418.6 1470.1h0M402.4 1456.5h0M417.3 1491.3h0M402.2 1498.1h0M403.2 1486.6h0M402.8 1486.3h0M402.2 1451.0h0M402.6 1453.1h0M413.4 1445.2h0M409.7 1447.6h0M401.6 1482.6h0M417.9 1459.4h0M399.8 1490.2h0M418.7 1445.8h0M418.4 1496.3h0M418.5 1492.3h0M419.4 1492.0h0M411.0 1502.4h0M418.7 1447.5h0M418.9 1495.4h0M401.6 1447.8h0M410.9 1446.9h0M401.5 1475.7h0M410.3 1501.6h0M417.6 1457.0h0M401.9 1494.6h0M416.6 1478.4h0M419.2 1497.0h0M417.4 1460.9h0M401.9 1446.2h0M402.2 1454.2h0M416.7 1502.7h0M417.5 1498.5h0M418.1 1486.6h0M407.5 1501.4h0M403.0 1499.0h0M400.2 1479.8h0M419.6 1451.6h0M401.7 1457.0h0M411.8 1448.1h0M403.1 1456.6h0M416.6 1459.3h0M417.6 1497.8h0M402.0 1467.9h0M418.6 1479.9h0M416.2 1446.7h0M402.3 1491.7h0M401.5 1484.7h0M416.3 1485.8h0M401.2 1494.7h0M403.6 1469.1h0M401.3 1445.5h0M400.6 1495.9h0M401.8 1499.7h0M418.4 1495.4h0M418.8 1457.0h0M419.0 1477.1h0M418.6 1488.0h0M403.5 1472.1h0M401.8 1482.6h0M417.6 1501.3h0M417.9 1473.7h0M404.0 1465.9h0M409.0 1445.5h0M418.1 1481.3h0M416.5 1479.1h0M416.8 1499.1h0M407.1 1446.2h0M419.0 1490.9h0M417.3 1449.6h0M411.4 1446.0h0M402.0 1448.0h0M399.4 1470.0h0M419.4 1479.3h0M402.6 1495.0h0M419.1 1465.5h0M401.3 1461.4h0M401.7 1497.2h0M416.2 1489.9h0M416.9 1470.2h0M418.6 1492.0h0M402.1 1483.1h0M404.8 1478.4h0M408.7 1447.0h0M401.9 1450.4h0M416.0 1501.7h0M400.6 1458.7h0M410.2 1446.7h0M404.0 1466.6h0M417.9 1427.1h0M404.2 1437.6h0M409.5 1440.2h0M402.1 1508.0h0M404.8 1512.0h0M406.1 1513.3h0M412.6 1510.7h0M416.6 1506.7h0M414.0 1518.5h0M403.4 1517.8h0M403.4 1521.2h0M417.4 1527.7h0M407.4 1509.3h0M410.0 1506.7h0M400.8 1506.7h0M511.7 1525.5h0M511.7 1524.9h0M511.7 1524.6h0M511.7 1524.6h0M511.7 1528.3h0M511.7 1524.8h0M511.7 1525.0h0M511.7 1528.1h0M511.7 1524.4h0M511.7 1527.7h0M511.7 1527.5h0M531.4 1507.9h0M531.4 1520.5h0M531.4 1504.8h0M531.4 1510.4h0M531.4 1513.0h0M531.4 1516.3h0M531.4 1515.3h0M531.4 1523.8h0M531.4 1522.4h0M531.4 1507.2h0M531.4 1506.7h0M531.4 1518.5h0M531.4 1512.0h0M531.4 1525.9h0M531.4 1510.3h0M531.4 1508.0h0M531.4 1511.3h0M531.4 1519.5h0M531.4 1516.4h0M531.4 1509.1h0M531.4 1524.3h0M531.4 1524.8h0M531.4 1522.0h0M531.4 1510.2h0M531.4 1504.7h0M531.4 1518.2h0M531.4 1518.6h0M531.4 1524.0h0M531.4 1504.0h0M531.4 1508.8h0M531.4 1524.8h0M531.4 1526.2h0M531.4 1511.3h0M551.6 1521.8h0M551.6 1507.0h0M551.6 1517.9h0M551.6 1521.4h0M551.6 1518.9h0M551.6 1519.9h0M551.6 1510.8h0M551.6 1514.8h0M551.6 1514.0h0M551.6 1506.1h0M551.6 1518.9h0M551.6 1506.6h0M551.6 1509.3h0M551.6 1510.3h0M551.6 1521.3h0M551.6 1520.9h0M551.6 1511.3h0M551.6 1511.7h0M551.6 1508.5h0M551.6 1510.2h0M551.6 1506.9h0M551.6 1521.0h0M551.6 1511.3h0M551.6 1508.9h0M551.6 1507.0h0M551.6 1508.0h0M551.6 1506.1h0M551.6 1512.4h0M551.6 1519.4h0M551.6 1521.0h0M551.6 1509.6h0M551.6 1507.4h0M551.6 1511.9h0M551.6 1505.8h0M551.6 1519.2h0M551.6 1510.7h0M551.6 1510.6h0M551.6 1520.4h0M551.6 1521.3h0M551.6 1520.8h0M551.6 1519.1h0M551.6 1516.7h0M551.6 1519.7h0M551.6 1516.3h0M551.6 1519.7h0M551.6 1519.4h0M551.6 1514.6h0M551.6 1514.7h0M551.6 1521.0h0M551.6 1515.7h0M551.6 1517.7h0M551.6 1520.3h0M551.6 1516.9h0M551.6 1512.7h0M551.6 1515.8h0M551.6 1516.8h0M551.6 1520.6h0M572.6 1483.6h0M572.6 1492.3h0M572.6 1493.1h0M572.6 1498.8h0M572.6 1499.6h0M592.3 1494.4h0M592.3 1500.9h0M612.8 1479.1h0M612.8 1483.6h0M612.8 1494.4h0M612.8 1495.4h0M632.5 1459.4h0M632.5 1461.5h0M632.5 1462.6h0M653.3 1475.7h0M673.8 1425.8h0" stroke="#1270de" stroke-width="3.2" stroke-linecap="round" fill="none"/>
<path d="M44.0 132.7H222.3M44.0 104.5H222.3M44.0 76.3H222.3M44.0 48.1H222.3M64.5 36.0V157.7M105.1 36.0V157.7M145.6 36.0V157.7M186.2 36.0V157.7" stroke="#b0b0b0" stroke-width="0.9" opacity="0.68" fill="none"/>
<path d="M275.3 147.3H453.3M275.3 129.7H453.3M275.3 112.1H453.3M275.3 94.5H453.3M275.3 76.9H453.3M275.3 59.3H453.3M275.3 41.7H453.3M281.4 36.0V157.7M295.2 36.0V157.7M308.9 36.0V157.7M322.7 36.0V157.7M336.5 36.0V157.7M350.2 36.0V157.7M364.0 36.0V157.7M377.8 36.0V157.7M391.5 36.0V157.7M405.3 36.0V157.7M419.1 36.0V157.7M432.8 36.0V157.7M446.6 36.0V157.7" stroke="#b0b0b0" stroke-width="0.9" opacity="0.68" fill="none"/>
<path d="M502.0 136.2H680.7M502.0 115.3H680.7M502.0 94.5H680.7M502.0 73.7H680.7M502.0 52.8H680.7M549.7 36.0V157.7M600.5 36.0V157.7M651.4 36.0V157.7" stroke="#b0b0b0" stroke-width="0.9" opacity="0.68" fill="none"/>
<path d="M44.0 362.6H222.3M44.0 340.9H222.3M44.0 319.2H222.3M44.0 297.5H222.3M44.0 275.8H222.3M44.0 254.1H222.3M52.0 252.5V372.8M92.5 252.5V372.8M133.1 252.5V372.8M173.6 252.5V372.8M214.2 252.5V372.8" stroke="#b0b0b0" stroke-width="0.9" opacity="0.68" fill="none"/>
<path d="M275.3 371.6H453.3M275.3 344.1H453.3M275.3 316.6H453.3M275.3 289.0H453.3M275.3 261.5H453.3M304.5 252.5V372.8M347.2 252.5V372.8M389.8 252.5V372.8M432.5 252.5V372.8" stroke="#b0b0b0" stroke-width="0.9" opacity="0.68" fill="none"/>
<path d="M502.0 359.9H680.7M502.0 338.6H680.7M502.0 317.3H680.7M502.0 296.0H680.7M502.0 274.7H680.7M502.0 253.4H680.7M510.4 252.5V372.8M543.0 252.5V372.8M575.7 252.5V372.8M608.3 252.5V372.8M641.0 252.5V372.8M673.6 252.5V372.8" stroke="#b0b0b0" stroke-width="0.9" opacity="0.68" fill="none"/>
<path d="M44.0 506.5H222.3M44.0 472.8H222.3M44.0 439.0H222.3M88.6 408.4V529.3M177.6 408.4V529.3" stroke="#b0b0b0" stroke-width="0.9" opacity="0.68" fill="none"/>
<path d="M275.3 509.2H453.3M275.3 476.5H453.3M275.3 443.8H453.3M275.3 411.1H453.3M283.0 408.4V529.3M315.5 408.4V529.3M348.0 408.4V529.3M380.6 408.4V529.3M413.1 408.4V529.3M445.6 408.4V529.3" stroke="#b0b0b0" stroke-width="0.9" opacity="0.68" fill="none"/>
<path d="M502.0 519.2H680.7M502.0 498.5H680.7M502.0 477.8H680.7M502.0 457.2H680.7M502.0 436.5H680.7M502.0 415.8H680.7M510.7 408.4V529.3M555.7 408.4V529.3M600.7 408.4V529.3M645.7 408.4V529.3" stroke="#b0b0b0" stroke-width="0.9" opacity="0.68" fill="none"/>
<path d="M44.0 677.2H222.3M44.0 645.2H222.3M44.0 613.2H222.3M44.0 581.2H222.3M52.0 564.4V685.3M92.5 564.4V685.3M133.1 564.4V685.3M173.6 564.4V685.3M214.2 564.4V685.3" stroke="#b0b0b0" stroke-width="0.9" opacity="0.68" fill="none"/>
<path d="M275.3 677.6H453.3M275.3 655.8H453.3M275.3 633.9H453.3M275.3 612.1H453.3M275.3 590.2H453.3M275.3 568.4H453.3M283.0 564.4V685.3M315.5 564.4V685.3M348.0 564.4V685.3M380.6 564.4V685.3M413.1 564.4V685.3M445.6 564.4V685.3" stroke="#b0b0b0" stroke-width="0.9" opacity="0.68" fill="none"/>
<path d="M502.0 664.8H680.7M502.0 641.7H680.7M502.0 618.6H680.7M502.0 595.6H680.7M502.0 572.5H680.7M510.4 564.4V685.3M569.5 564.4V685.3M628.6 564.4V685.3" stroke="#b0b0b0" stroke-width="0.9" opacity="0.68" fill="none"/>
<path d="M44.0 865.1H221.6M44.0 830.2H221.6M44.0 795.3H221.6M52.0 771.1V884.2M84.4 771.1V884.2M116.8 771.1V884.2M149.1 771.1V884.2M181.5 771.1V884.2M213.9 771.1V884.2" stroke="#b0b0b0" stroke-width="0.9" opacity="0.68" fill="none"/>
<path d="M276.3 873.5H454.3M276.3 851.2H454.3M276.3 828.9H454.3M276.3 806.5H454.3M276.3 784.2H454.3M282.4 771.1V884.2M341.0 771.1V884.2M399.6 771.1V884.2" stroke="#b0b0b0" stroke-width="0.9" opacity="0.68" fill="none"/>
<path d="M503.0 878.9H680.7M503.0 853.2H680.7M503.0 827.5H680.7M503.0 801.8H680.7M503.0 776.1H680.7M523.5 771.1V884.2M563.8 771.1V884.2M604.1 771.1V884.2M644.4 771.1V884.2" stroke="#b0b0b0" stroke-width="0.9" opacity="0.68" fill="none"/>
<path d="M44.0 1018.2H221.6M44.0 981.4H221.6M44.0 944.6H221.6M69.8 919.1V1031.9M105.8 919.1V1031.9M141.7 919.1V1031.9M177.7 919.1V1031.9M213.6 919.1V1031.9" stroke="#b0b0b0" stroke-width="0.9" opacity="0.68" fill="none"/>
<path d="M276.3 1003.7H454.3M276.3 972.0H454.3M276.3 940.3H454.3M282.7 919.1V1031.9M296.4 919.1V1031.9M310.2 919.1V1031.9M323.9 919.1V1031.9M337.7 919.1V1031.9M351.4 919.1V1031.9M365.2 919.1V1031.9M378.9 919.1V1031.9M392.6 919.1V1031.9M406.4 919.1V1031.9M420.1 919.1V1031.9M433.9 919.1V1031.9M447.6 919.1V1031.9" stroke="#b0b0b0" stroke-width="0.9" opacity="0.68" fill="none"/>
<path d="M503.0 1031.9H680.7M503.0 1014.7H680.7M503.0 997.4H680.7M503.0 980.2H680.7M503.0 963.0H680.7M503.0 945.7H680.7M503.0 928.5H680.7M510.4 919.1V1031.9M524.0 919.1V1031.9M537.6 919.1V1031.9M551.2 919.1V1031.9M564.8 919.1V1031.9M578.4 919.1V1031.9M592.0 919.1V1031.9M605.6 919.1V1031.9M619.2 919.1V1031.9M632.8 919.1V1031.9M646.4 919.1V1031.9M660.0 919.1V1031.9M673.6 919.1V1031.9" stroke="#b0b0b0" stroke-width="0.9" opacity="0.68" fill="none"/>
<path d="M44.0 1222.8H221.6M44.0 1199.5H221.6M44.0 1176.1H221.6M44.0 1152.8H221.6M44.0 1129.4H221.6M90.7 1125.1V1237.0M141.6 1125.1V1237.0M192.4 1125.1V1237.0" stroke="#b0b0b0" stroke-width="0.9" opacity="0.68" fill="none"/>
<path d="M276.3 1234.9H454.3M276.3 1202.3H454.3M276.3 1169.8H454.3M276.3 1137.2H454.3M284.4 1125.1V1237.0M316.8 1125.1V1237.0M349.3 1125.1V1237.0M381.7 1125.1V1237.0M414.2 1125.1V1237.0M446.6 1125.1V1237.0" stroke="#b0b0b0" stroke-width="0.9" opacity="0.68" fill="none"/>
<path d="M503.0 1218.4H680.7M503.0 1193.9H680.7M503.0 1169.4H680.7M503.0 1144.9H680.7M532.9 1125.1V1237.0M575.4 1125.1V1237.0M618.0 1125.1V1237.0M660.5 1125.1V1237.0" stroke="#b0b0b0" stroke-width="0.9" opacity="0.68" fill="none"/>
<path d="M44.0 1371.4H221.6M44.0 1343.7H221.6M44.0 1315.9H221.6M44.0 1288.2H221.6M52.0 1272.4V1385.2M92.5 1272.4V1385.2M132.9 1272.4V1385.2M173.4 1272.4V1385.2M213.9 1272.4V1385.2" stroke="#b0b0b0" stroke-width="0.9" opacity="0.68" fill="none"/>
<path d="M276.3 1375.5H454.3M276.3 1349.0H454.3M276.3 1322.4H454.3M276.3 1295.9H454.3M284.4 1272.4V1385.2M319.5 1272.4V1385.2M354.6 1272.4V1385.2M389.7 1272.4V1385.2M424.8 1272.4V1385.2" stroke="#b0b0b0" stroke-width="0.9" opacity="0.68" fill="none"/>
<path d="M503.0 1376.8H680.7M503.0 1355.0H680.7M503.0 1333.3H680.7M503.0 1311.5H680.7M503.0 1289.8H680.7M510.7 1272.4V1385.2M555.9 1272.4V1385.2M601.2 1272.4V1385.2M646.4 1272.4V1385.2" stroke="#b0b0b0" stroke-width="0.9" opacity="0.68" fill="none"/>
<path d="M44.0 1518.2H221.6M44.0 1496.4H221.6M44.0 1474.6H221.6M44.0 1452.7H221.6M44.0 1430.9H221.6M52.0 1420.1V1533.0M84.4 1420.1V1533.0M116.8 1420.1V1533.0M149.1 1420.1V1533.0M181.5 1420.1V1533.0M213.9 1420.1V1533.0" stroke="#b0b0b0" stroke-width="0.9" opacity="0.68" fill="none"/>
<path d="M276.3 1532.6H454.3M276.3 1504.4H454.3M276.3 1476.2H454.3M276.3 1448.0H454.3M320.7 1420.1V1533.0M409.6 1420.1V1533.0" stroke="#b0b0b0" stroke-width="0.9" opacity="0.68" fill="none"/>
<path d="M503.0 1526.6H680.7M503.0 1506.4H680.7M503.0 1486.3H680.7M503.0 1466.1H680.7M503.0 1446.0H680.7M503.0 1425.8H680.7M511.4 1420.1V1533.0M551.8 1420.1V1533.0M592.1 1420.1V1533.0M632.5 1420.1V1533.0M672.9 1420.1V1533.0" stroke="#b0b0b0" stroke-width="0.9" opacity="0.68" fill="none"/>
<path d="M41.4 132.7H44.0M41.4 104.5H44.0M41.4 76.3H44.0M41.4 48.1H44.0M64.5 157.7V160.3M105.1 157.7V160.3M145.6 157.7V160.3M186.2 157.7V160.3" stroke="#555555" stroke-width="0.9" fill="none"/>
<text x="38.4" y="135.7" font-size="9.296000000000001" text-anchor="end" textLength="20.2" lengthAdjust="spacingAndGlyphs" fill="#262626">−0.5</text>
<text x="38.4" y="107.5" font-size="9.296000000000001" text-anchor="end" textLength="13.2" lengthAdjust="spacingAndGlyphs" fill="#262626">0.0</text>
<text x="38.4" y="79.3" font-size="9.296000000000001" text-anchor="end" textLength="13.2" lengthAdjust="spacingAndGlyphs" fill="#262626">0.5</text>
<text x="38.4" y="51.1" font-size="9.296000000000001" text-anchor="end" textLength="13.2" lengthAdjust="spacingAndGlyphs" fill="#262626">1.0</text>
<text x="64.5" y="170.0" font-size="9.296000000000001" text-anchor="middle" textLength="10.6" lengthAdjust="spacingAndGlyphs" fill="#262626">20</text>
<text x="105.1" y="170.0" font-size="9.296000000000001" text-anchor="middle" textLength="10.6" lengthAdjust="spacingAndGlyphs" fill="#262626">40</text>
<text x="145.6" y="170.0" font-size="9.296000000000001" text-anchor="middle" textLength="10.6" lengthAdjust="spacingAndGlyphs" fill="#262626">60</text>
<text x="186.2" y="170.0" font-size="9.296000000000001" text-anchor="middle" textLength="10.6" lengthAdjust="spacingAndGlyphs" fill="#262626">80</text>
<text x="133.2" y="182.9" font-size="10.2" text-anchor="middle" textLength="19.7" lengthAdjust="spacingAndGlyphs" fill="#262626">Age</text>
<text x="12.8" y="96.8" font-size="10.2" text-anchor="middle" textLength="63.7" lengthAdjust="spacingAndGlyphs" transform="rotate(-90 12.8 96.8)" fill="#262626">SHAP values</text>
<path d="M131.0 157.7V36.0" stroke="#ff0d0d" stroke-width="2.1" stroke-dasharray="3.7 2.45" opacity="0.85" fill="none"/>
<path d="M272.7 147.3H275.3M272.7 129.7H275.3M272.7 112.1H275.3M272.7 94.5H275.3M272.7 76.9H275.3M272.7 59.3H275.3M272.7 41.7H275.3M281.4 157.7V160.3M295.2 157.7V160.3M308.9 157.7V160.3M322.7 157.7V160.3M336.5 157.7V160.3M350.2 157.7V160.3M364.0 157.7V160.3M377.8 157.7V160.3M391.5 157.7V160.3M405.3 157.7V160.3M419.1 157.7V160.3M432.8 157.7V160.3M446.6 157.7V160.3" stroke="#555555" stroke-width="0.9" fill="none"/>
<text x="269.7" y="150.0" font-size="8.4" text-anchor="end" textLength="23.0" lengthAdjust="spacingAndGlyphs" fill="#262626">−0.25</text>
<text x="269.7" y="132.4" font-size="8.4" text-anchor="end" textLength="16.7" lengthAdjust="spacingAndGlyphs" fill="#262626">0.00</text>
<text x="269.7" y="114.8" font-size="8.4" text-anchor="end" textLength="16.7" lengthAdjust="spacingAndGlyphs" fill="#262626">0.25</text>
<text x="269.7" y="97.2" font-size="8.4" text-anchor="end" textLength="16.7" lengthAdjust="spacingAndGlyphs" fill="#262626">0.50</text>
<text x="269.7" y="79.6" font-size="8.4" text-anchor="end" textLength="16.7" lengthAdjust="spacingAndGlyphs" fill="#262626">0.75</text>
<text x="269.7" y="62.0" font-size="8.4" text-anchor="end" textLength="16.7" lengthAdjust="spacingAndGlyphs" fill="#262626">1.00</text>
<text x="269.7" y="44.4" font-size="8.4" text-anchor="end" textLength="16.7" lengthAdjust="spacingAndGlyphs" fill="#262626">1.25</text>
<text x="284.3" y="162.9" font-size="8.008000000000001" text-anchor="end" textLength="20.5" lengthAdjust="spacingAndGlyphs" transform="rotate(-90 284.3 162.9)" fill="#262626">other</text>
<text x="298.1" y="162.9" font-size="8.008000000000001" text-anchor="end" textLength="24.4" lengthAdjust="spacingAndGlyphs" transform="rotate(-90 298.1 162.9)" fill="#262626">breast</text>
<text x="311.8" y="162.9" font-size="8.008000000000001" text-anchor="end" textLength="57.8" lengthAdjust="spacingAndGlyphs" transform="rotate(-90 311.8 162.9)" fill="#262626">appendectomy</text>
<text x="325.6" y="162.9" font-size="8.008000000000001" text-anchor="end" textLength="49.0" lengthAdjust="spacingAndGlyphs" transform="rotate(-90 325.6 162.9)" fill="#262626">gynaecology</text>
<text x="339.4" y="162.9" font-size="8.008000000000001" text-anchor="end" textLength="44.3" lengthAdjust="spacingAndGlyphs" transform="rotate(-90 339.4 162.9)" fill="#262626">biliary tract</text>
<text x="353.1" y="162.9" font-size="8.008000000000001" text-anchor="end" textLength="64.0" lengthAdjust="spacingAndGlyphs" transform="rotate(-90 353.1 162.9)" fill="#262626">gastroesophagal</text>
<text x="366.9" y="162.9" font-size="8.008000000000001" text-anchor="end" textLength="39.6" lengthAdjust="spacingAndGlyphs" transform="rotate(-90 366.9 162.9)" fill="#262626">diagnostic</text>
<text x="380.7" y="162.9" font-size="8.008000000000001" text-anchor="end" textLength="36.2" lengthAdjust="spacingAndGlyphs" transform="rotate(-90 380.7 162.9)" fill="#262626">anorectal</text>
<text x="394.4" y="162.9" font-size="8.008000000000001" text-anchor="end" textLength="24.4" lengthAdjust="spacingAndGlyphs" transform="rotate(-90 394.4 162.9)" fill="#262626">hernia</text>
<text x="408.2" y="162.9" font-size="8.008000000000001" text-anchor="end" textLength="63.1" lengthAdjust="spacingAndGlyphs" transform="rotate(-90 408.2 162.9)" fill="#262626">retroperitoneum</text>
<text x="422.0" y="162.9" font-size="8.008000000000001" text-anchor="end" textLength="28.6" lengthAdjust="spacingAndGlyphs" transform="rotate(-90 422.0 162.9)" fill="#262626">hepatic</text>
<text x="435.7" y="162.9" font-size="8.008000000000001" text-anchor="end" textLength="45.7" lengthAdjust="spacingAndGlyphs" transform="rotate(-90 435.7 162.9)" fill="#262626">small bowel</text>
<text x="449.5" y="162.9" font-size="8.008000000000001" text-anchor="end" textLength="37.6" lengthAdjust="spacingAndGlyphs" transform="rotate(-90 449.5 162.9)" fill="#262626">colorectal</text>
<text x="364.3" y="239.3" font-size="10.2" text-anchor="middle" textLength="102.3" lengthAdjust="spacingAndGlyphs" fill="#262626">Past procedure type</text>
<text x="241.3" y="96.8" font-size="10.2" text-anchor="middle" textLength="63.7" lengthAdjust="spacingAndGlyphs" transform="rotate(-90 241.3 96.8)" fill="#262626">SHAP values</text>
<path d="M357.0 157.7V36.0" stroke="#ff0d0d" stroke-width="2.1" stroke-dasharray="3.7 2.45" opacity="0.85" fill="none"/>
<path d="M499.4 136.2H502.0M499.4 115.3H502.0M499.4 94.5H502.0M499.4 73.7H502.0M499.4 52.8H502.0M549.7 157.7V160.3M600.5 157.7V160.3M651.4 157.7V160.3" stroke="#555555" stroke-width="0.9" fill="none"/>
<text x="496.4" y="139.2" font-size="9.296000000000001" text-anchor="end" textLength="20.2" lengthAdjust="spacingAndGlyphs" fill="#262626">−0.4</text>
<text x="496.4" y="118.3" font-size="9.296000000000001" text-anchor="end" textLength="20.2" lengthAdjust="spacingAndGlyphs" fill="#262626">−0.2</text>
<text x="496.4" y="97.5" font-size="9.296000000000001" text-anchor="end" textLength="13.2" lengthAdjust="spacingAndGlyphs" fill="#262626">0.0</text>
<text x="496.4" y="76.7" font-size="9.296000000000001" text-anchor="end" textLength="13.2" lengthAdjust="spacingAndGlyphs" fill="#262626">0.2</text>
<text x="496.4" y="55.8" font-size="9.296000000000001" text-anchor="end" textLength="13.2" lengthAdjust="spacingAndGlyphs" fill="#262626">0.4</text>
<text x="549.7" y="170.0" font-size="9.296000000000001" text-anchor="middle" textLength="10.6" lengthAdjust="spacingAndGlyphs" fill="#262626">20</text>
<text x="600.5" y="170.0" font-size="9.296000000000001" text-anchor="middle" textLength="10.6" lengthAdjust="spacingAndGlyphs" fill="#262626">40</text>
<text x="651.4" y="170.0" font-size="9.296000000000001" text-anchor="middle" textLength="10.6" lengthAdjust="spacingAndGlyphs" fill="#262626">60</text>
<text x="591.4" y="182.9" font-size="10.2" text-anchor="middle" textLength="18.8" lengthAdjust="spacingAndGlyphs" fill="#262626">BMI</text>
<text x="470.8" y="96.8" font-size="10.2" text-anchor="middle" textLength="63.7" lengthAdjust="spacingAndGlyphs" transform="rotate(-90 470.8 96.8)" fill="#262626">SHAP values</text>
<path d="M569.8 157.7V36.0" stroke="#ff0d0d" stroke-width="2.1" stroke-dasharray="3.7 2.45" opacity="0.85" fill="none"/>
<path d="M41.4 362.6H44.0M41.4 340.9H44.0M41.4 319.2H44.0M41.4 297.5H44.0M41.4 275.8H44.0M41.4 254.1H44.0M52.0 372.8V375.4M92.5 372.8V375.4M133.1 372.8V375.4M173.6 372.8V375.4M214.2 372.8V375.4" stroke="#555555" stroke-width="0.9" fill="none"/>
<text x="38.4" y="365.6" font-size="9.296000000000001" text-anchor="end" textLength="20.2" lengthAdjust="spacingAndGlyphs" fill="#262626">−0.4</text>
<text x="38.4" y="343.9" font-size="9.296000000000001" text-anchor="end" textLength="20.2" lengthAdjust="spacingAndGlyphs" fill="#262626">−0.2</text>
<text x="38.4" y="322.2" font-size="9.296000000000001" text-anchor="end" textLength="13.2" lengthAdjust="spacingAndGlyphs" fill="#262626">0.0</text>
<text x="38.4" y="300.5" font-size="9.296000000000001" text-anchor="end" textLength="13.2" lengthAdjust="spacingAndGlyphs" fill="#262626">0.2</text>
<text x="38.4" y="278.8" font-size="9.296000000000001" text-anchor="end" textLength="13.2" lengthAdjust="spacingAndGlyphs" fill="#262626">0.4</text>
<text x="38.4" y="257.1" font-size="9.296000000000001" text-anchor="end" textLength="13.2" lengthAdjust="spacingAndGlyphs" fill="#262626">0.6</text>
<text x="52.0" y="385.1" font-size="9.296000000000001" text-anchor="middle" textLength="5.3" lengthAdjust="spacingAndGlyphs" fill="#262626">1</text>
<text x="92.5" y="385.1" font-size="9.296000000000001" text-anchor="middle" textLength="5.3" lengthAdjust="spacingAndGlyphs" fill="#262626">2</text>
<text x="133.1" y="385.1" font-size="9.296000000000001" text-anchor="middle" textLength="5.3" lengthAdjust="spacingAndGlyphs" fill="#262626">3</text>
<text x="173.6" y="385.1" font-size="9.296000000000001" text-anchor="middle" textLength="5.3" lengthAdjust="spacingAndGlyphs" fill="#262626">4</text>
<text x="214.2" y="385.1" font-size="9.296000000000001" text-anchor="middle" textLength="5.3" lengthAdjust="spacingAndGlyphs" fill="#262626">5</text>
<text x="133.2" y="398.0" font-size="10.2" text-anchor="middle" textLength="20.6" lengthAdjust="spacingAndGlyphs" fill="#262626">ASA</text>
<text x="12.8" y="312.6" font-size="10.2" text-anchor="middle" textLength="63.7" lengthAdjust="spacingAndGlyphs" transform="rotate(-90 12.8 312.6)" fill="#262626">SHAP values</text>
<path d="M112.8 372.8V252.5" stroke="#ff0d0d" stroke-width="2.1" stroke-dasharray="3.7 2.45" opacity="0.85" fill="none"/>
<path d="M272.7 371.6H275.3M272.7 344.1H275.3M272.7 316.6H275.3M272.7 289.0H275.3M272.7 261.5H275.3M304.5 372.8V375.4M347.2 372.8V375.4M389.8 372.8V375.4M432.5 372.8V375.4" stroke="#555555" stroke-width="0.9" fill="none"/>
<text x="269.7" y="374.6" font-size="9.296000000000001" text-anchor="end" textLength="20.2" lengthAdjust="spacingAndGlyphs" fill="#262626">−0.4</text>
<text x="269.7" y="347.1" font-size="9.296000000000001" text-anchor="end" textLength="20.2" lengthAdjust="spacingAndGlyphs" fill="#262626">−0.2</text>
<text x="269.7" y="319.6" font-size="9.296000000000001" text-anchor="end" textLength="13.2" lengthAdjust="spacingAndGlyphs" fill="#262626">0.0</text>
<text x="269.7" y="292.0" font-size="9.296000000000001" text-anchor="end" textLength="13.2" lengthAdjust="spacingAndGlyphs" fill="#262626">0.2</text>
<text x="269.7" y="264.5" font-size="9.296000000000001" text-anchor="end" textLength="13.2" lengthAdjust="spacingAndGlyphs" fill="#262626">0.4</text>
<text x="304.5" y="385.1" font-size="9.296000000000001" text-anchor="middle" textLength="5.3" lengthAdjust="spacingAndGlyphs" fill="#262626">2</text>
<text x="347.2" y="385.1" font-size="9.296000000000001" text-anchor="middle" textLength="5.3" lengthAdjust="spacingAndGlyphs" fill="#262626">3</text>
<text x="389.8" y="385.1" font-size="9.296000000000001" text-anchor="middle" textLength="5.3" lengthAdjust="spacingAndGlyphs" fill="#262626">4</text>
<text x="432.5" y="385.1" font-size="9.296000000000001" text-anchor="middle" textLength="5.3" lengthAdjust="spacingAndGlyphs" fill="#262626">5</text>
<text x="364.3" y="398.0" font-size="10.2" text-anchor="middle" textLength="95.1" lengthAdjust="spacingAndGlyphs" fill="#262626">Albumin blood last</text>
<text x="244.1" y="312.6" font-size="10.2" text-anchor="middle" textLength="63.7" lengthAdjust="spacingAndGlyphs" transform="rotate(-90 244.1 312.6)" fill="#262626">SHAP values</text>
<path d="M376.7 372.8V252.5" stroke="#ff0d0d" stroke-width="2.1" stroke-dasharray="3.7 2.45" opacity="0.85" fill="none"/>
<path d="M499.4 359.9H502.0M499.4 338.6H502.0M499.4 317.3H502.0M499.4 296.0H502.0M499.4 274.7H502.0M499.4 253.4H502.0M510.4 372.8V375.4M543.0 372.8V375.4M575.7 372.8V375.4M608.3 372.8V375.4M641.0 372.8V375.4M673.6 372.8V375.4" stroke="#555555" stroke-width="0.9" fill="none"/>
<text x="496.4" y="362.9" font-size="9.296000000000001" text-anchor="end" textLength="20.2" lengthAdjust="spacingAndGlyphs" fill="#262626">−0.1</text>
<text x="496.4" y="341.6" font-size="9.296000000000001" text-anchor="end" textLength="13.2" lengthAdjust="spacingAndGlyphs" fill="#262626">0.0</text>
<text x="496.4" y="320.3" font-size="9.296000000000001" text-anchor="end" textLength="13.2" lengthAdjust="spacingAndGlyphs" fill="#262626">0.1</text>
<text x="496.4" y="299.0" font-size="9.296000000000001" text-anchor="end" textLength="13.2" lengthAdjust="spacingAndGlyphs" fill="#262626">0.2</text>
<text x="496.4" y="277.7" font-size="9.296000000000001" text-anchor="end" textLength="13.2" lengthAdjust="spacingAndGlyphs" fill="#262626">0.3</text>
<text x="496.4" y="256.4" font-size="9.296000000000001" text-anchor="end" textLength="13.2" lengthAdjust="spacingAndGlyphs" fill="#262626">0.4</text>
<text x="510.4" y="385.1" font-size="9.296000000000001" text-anchor="middle" textLength="13.2" lengthAdjust="spacingAndGlyphs" fill="#262626">0.0</text>
<text x="543.0" y="385.1" font-size="9.296000000000001" text-anchor="middle" textLength="13.2" lengthAdjust="spacingAndGlyphs" fill="#262626">0.2</text>
<text x="575.7" y="385.1" font-size="9.296000000000001" text-anchor="middle" textLength="13.2" lengthAdjust="spacingAndGlyphs" fill="#262626">0.4</text>
<text x="608.3" y="385.1" font-size="9.296000000000001" text-anchor="middle" textLength="13.2" lengthAdjust="spacingAndGlyphs" fill="#262626">0.6</text>
<text x="641.0" y="385.1" font-size="9.296000000000001" text-anchor="middle" textLength="13.2" lengthAdjust="spacingAndGlyphs" fill="#262626">0.8</text>
<text x="673.6" y="385.1" font-size="9.296000000000001" text-anchor="middle" textLength="13.2" lengthAdjust="spacingAndGlyphs" fill="#262626">1.0</text>
<text x="591.4" y="398.0" font-size="10.2" text-anchor="middle" textLength="76.7" lengthAdjust="spacingAndGlyphs" fill="#262626">Urgent surgery</text>
<text x="470.8" y="312.6" font-size="10.2" text-anchor="middle" textLength="63.7" lengthAdjust="spacingAndGlyphs" transform="rotate(-90 470.8 312.6)" fill="#262626">SHAP values</text>
<path d="M592.0 372.8V252.5" stroke="#ff0d0d" stroke-width="2.1" stroke-dasharray="3.7 2.45" opacity="0.85" fill="none"/>
<path d="M41.4 506.5H44.0M41.4 472.8H44.0M41.4 439.0H44.0M88.6 529.3V531.9M177.6 529.3V531.9" stroke="#555555" stroke-width="0.9" fill="none"/>
<text x="38.4" y="509.2" font-size="8.4" text-anchor="end" textLength="18.2" lengthAdjust="spacingAndGlyphs" fill="#262626">−0.2</text>
<text x="38.4" y="475.5" font-size="8.4" text-anchor="end" textLength="11.9" lengthAdjust="spacingAndGlyphs" fill="#262626">0.0</text>
<text x="38.4" y="441.7" font-size="8.4" text-anchor="end" textLength="11.9" lengthAdjust="spacingAndGlyphs" fill="#262626">0.2</text>
<text x="88.6" y="541.8" font-size="7.9" text-anchor="middle" textLength="27.2" lengthAdjust="spacingAndGlyphs" fill="#262626">female</text>
<text x="177.6" y="541.8" font-size="7.9" text-anchor="middle" textLength="19.6" lengthAdjust="spacingAndGlyphs" fill="#262626">male</text>
<text x="133.2" y="554.5" font-size="10.2" text-anchor="middle" textLength="37.6" lengthAdjust="spacingAndGlyphs" fill="#262626" stroke="#262626" stroke-width="0.18">Gender</text>
<text x="14.8" y="468.8" font-size="10.2" text-anchor="middle" textLength="63.7" lengthAdjust="spacingAndGlyphs" transform="rotate(-90 14.8 468.8)" fill="#262626">SHAP values</text>
<path d="M133.3 529.3V408.4" stroke="#ff0d0d" stroke-width="2.1" stroke-dasharray="3.7 2.45" opacity="0.85" fill="none"/>
<path d="M272.7 509.2H275.3M272.7 476.5H275.3M272.7 443.8H275.3M272.7 411.1H275.3M283.0 529.3V531.9M315.5 529.3V531.9M348.0 529.3V531.9M380.6 529.3V531.9M413.1 529.3V531.9M445.6 529.3V531.9" stroke="#555555" stroke-width="0.9" fill="none"/>
<text x="269.7" y="512.2" font-size="9.296000000000001" text-anchor="end" textLength="20.2" lengthAdjust="spacingAndGlyphs" fill="#262626">−0.2</text>
<text x="269.7" y="479.5" font-size="9.296000000000001" text-anchor="end" textLength="20.2" lengthAdjust="spacingAndGlyphs" fill="#262626">−0.1</text>
<text x="269.7" y="446.8" font-size="9.296000000000001" text-anchor="end" textLength="13.2" lengthAdjust="spacingAndGlyphs" fill="#262626">0.0</text>
<text x="269.7" y="414.1" font-size="9.296000000000001" text-anchor="end" textLength="13.2" lengthAdjust="spacingAndGlyphs" fill="#262626">0.1</text>
<text x="283.0" y="541.6" font-size="9.296000000000001" text-anchor="middle" textLength="13.2" lengthAdjust="spacingAndGlyphs" fill="#262626">0.0</text>
<text x="315.5" y="541.6" font-size="9.296000000000001" text-anchor="middle" textLength="13.2" lengthAdjust="spacingAndGlyphs" fill="#262626">0.2</text>
<text x="348.0" y="541.6" font-size="9.296000000000001" text-anchor="middle" textLength="13.2" lengthAdjust="spacingAndGlyphs" fill="#262626">0.4</text>
<text x="380.6" y="541.6" font-size="9.296000000000001" text-anchor="middle" textLength="13.2" lengthAdjust="spacingAndGlyphs" fill="#262626">0.6</text>
<text x="413.1" y="541.6" font-size="9.296000000000001" text-anchor="middle" textLength="13.2" lengthAdjust="spacingAndGlyphs" fill="#262626">0.8</text>
<text x="445.6" y="541.6" font-size="9.296000000000001" text-anchor="middle" textLength="13.2" lengthAdjust="spacingAndGlyphs" fill="#262626">1.0</text>
<text x="364.3" y="554.5" font-size="10.2" text-anchor="middle" textLength="44.3" lengthAdjust="spacingAndGlyphs" fill="#262626">Smoking</text>
<text x="244.1" y="468.8" font-size="10.2" text-anchor="middle" textLength="63.7" lengthAdjust="spacingAndGlyphs" transform="rotate(-90 244.1 468.8)" fill="#262626">SHAP values</text>
<path d="M364.3 529.3V408.4" stroke="#ff0d0d" stroke-width="2.1" stroke-dasharray="3.7 2.45" opacity="0.85" fill="none"/>
<path d="M499.4 519.2H502.0M499.4 498.5H502.0M499.4 477.8H502.0M499.4 457.2H502.0M499.4 436.5H502.0M499.4 415.8H502.0M510.7 529.3V531.9M555.7 529.3V531.9M600.7 529.3V531.9M645.7 529.3V531.9" stroke="#555555" stroke-width="0.9" fill="none"/>
<text x="496.4" y="522.2" font-size="9.296000000000001" text-anchor="end" textLength="13.2" lengthAdjust="spacingAndGlyphs" fill="#262626">0.0</text>
<text x="496.4" y="501.5" font-size="9.296000000000001" text-anchor="end" textLength="13.2" lengthAdjust="spacingAndGlyphs" fill="#262626">0.5</text>
<text x="496.4" y="480.8" font-size="9.296000000000001" text-anchor="end" textLength="13.2" lengthAdjust="spacingAndGlyphs" fill="#262626">1.0</text>
<text x="496.4" y="460.2" font-size="9.296000000000001" text-anchor="end" textLength="13.2" lengthAdjust="spacingAndGlyphs" fill="#262626">1.5</text>
<text x="496.4" y="439.5" font-size="9.296000000000001" text-anchor="end" textLength="13.2" lengthAdjust="spacingAndGlyphs" fill="#262626">2.0</text>
<text x="496.4" y="418.8" font-size="9.296000000000001" text-anchor="end" textLength="13.2" lengthAdjust="spacingAndGlyphs" fill="#262626">2.5</text>
<text x="510.7" y="541.6" font-size="9.296000000000001" text-anchor="middle" textLength="5.3" lengthAdjust="spacingAndGlyphs" fill="#262626">0</text>
<text x="555.7" y="541.6" font-size="9.296000000000001" text-anchor="middle" textLength="10.6" lengthAdjust="spacingAndGlyphs" fill="#262626">20</text>
<text x="600.7" y="541.6" font-size="9.296000000000001" text-anchor="middle" textLength="10.6" lengthAdjust="spacingAndGlyphs" fill="#262626">40</text>
<text x="645.7" y="541.6" font-size="9.296000000000001" text-anchor="middle" textLength="10.6" lengthAdjust="spacingAndGlyphs" fill="#262626">60</text>
<text x="591.4" y="554.5" font-size="10.2" text-anchor="middle" textLength="162.8" lengthAdjust="spacingAndGlyphs" fill="#262626">Days from admission to surgery</text>
<text x="477.8" y="468.8" font-size="10.2" text-anchor="middle" textLength="63.7" lengthAdjust="spacingAndGlyphs" transform="rotate(-90 477.8 468.8)" fill="#262626">SHAP values</text>
<path d="M526.2 529.3V408.4" stroke="#ff0d0d" stroke-width="2.1" stroke-dasharray="3.7 2.45" opacity="0.85" fill="none"/>
<path d="M41.4 677.2H44.0M41.4 645.2H44.0M41.4 613.2H44.0M41.4 581.2H44.0M52.0 685.3V687.9M92.5 685.3V687.9M133.1 685.3V687.9M173.6 685.3V687.9M214.2 685.3V687.9" stroke="#555555" stroke-width="0.9" fill="none"/>
<text x="38.4" y="680.2" font-size="9.296000000000001" text-anchor="end" textLength="13.2" lengthAdjust="spacingAndGlyphs" fill="#262626">0.0</text>
<text x="38.4" y="648.2" font-size="9.296000000000001" text-anchor="end" textLength="13.2" lengthAdjust="spacingAndGlyphs" fill="#262626">0.5</text>
<text x="38.4" y="616.2" font-size="9.296000000000001" text-anchor="end" textLength="13.2" lengthAdjust="spacingAndGlyphs" fill="#262626">1.0</text>
<text x="38.4" y="584.2" font-size="9.296000000000001" text-anchor="end" textLength="13.2" lengthAdjust="spacingAndGlyphs" fill="#262626">1.5</text>
<text x="52.0" y="697.6" font-size="9.296000000000001" text-anchor="middle" textLength="5.3" lengthAdjust="spacingAndGlyphs" fill="#262626">0</text>
<text x="92.5" y="697.6" font-size="9.296000000000001" text-anchor="middle" textLength="5.3" lengthAdjust="spacingAndGlyphs" fill="#262626">2</text>
<text x="133.1" y="697.6" font-size="9.296000000000001" text-anchor="middle" textLength="5.3" lengthAdjust="spacingAndGlyphs" fill="#262626">4</text>
<text x="173.6" y="697.6" font-size="9.296000000000001" text-anchor="middle" textLength="5.3" lengthAdjust="spacingAndGlyphs" fill="#262626">6</text>
<text x="214.2" y="697.6" font-size="9.296000000000001" text-anchor="middle" textLength="5.3" lengthAdjust="spacingAndGlyphs" fill="#262626">8</text>
<text x="133.2" y="710.5" font-size="10.2" text-anchor="middle" textLength="168.3" lengthAdjust="spacingAndGlyphs" fill="#262626">Microbiology tests (days -4 to -1)</text>
<text x="19.8" y="624.8" font-size="10.2" text-anchor="middle" textLength="63.7" lengthAdjust="spacingAndGlyphs" transform="rotate(-90 19.8 624.8)" fill="#262626">SHAP values</text>
<path d="M61.8 685.3V564.4" stroke="#ff0d0d" stroke-width="2.1" stroke-dasharray="3.7 2.45" opacity="0.85" fill="none"/>
<path d="M272.7 677.6H275.3M272.7 655.8H275.3M272.7 633.9H275.3M272.7 612.1H275.3M272.7 590.2H275.3M272.7 568.4H275.3M283.0 685.3V687.9M315.5 685.3V687.9M348.0 685.3V687.9M380.6 685.3V687.9M413.1 685.3V687.9M445.6 685.3V687.9" stroke="#555555" stroke-width="0.9" fill="none"/>
<text x="269.7" y="680.6" font-size="9.296000000000001" text-anchor="end" textLength="13.2" lengthAdjust="spacingAndGlyphs" fill="#262626">0.0</text>
<text x="269.7" y="658.8" font-size="9.296000000000001" text-anchor="end" textLength="13.2" lengthAdjust="spacingAndGlyphs" fill="#262626">0.1</text>
<text x="269.7" y="636.9" font-size="9.296000000000001" text-anchor="end" textLength="13.2" lengthAdjust="spacingAndGlyphs" fill="#262626">0.2</text>
<text x="269.7" y="615.1" font-size="9.296000000000001" text-anchor="end" textLength="13.2" lengthAdjust="spacingAndGlyphs" fill="#262626">0.3</text>
<text x="269.7" y="593.2" font-size="9.296000000000001" text-anchor="end" textLength="13.2" lengthAdjust="spacingAndGlyphs" fill="#262626">0.4</text>
<text x="269.7" y="571.4" font-size="9.296000000000001" text-anchor="end" textLength="13.2" lengthAdjust="spacingAndGlyphs" fill="#262626">0.5</text>
<text x="283.0" y="697.6" font-size="9.296000000000001" text-anchor="middle" textLength="13.2" lengthAdjust="spacingAndGlyphs" fill="#262626">0.0</text>
<text x="315.5" y="697.6" font-size="9.296000000000001" text-anchor="middle" textLength="13.2" lengthAdjust="spacingAndGlyphs" fill="#262626">0.2</text>
<text x="348.0" y="697.6" font-size="9.296000000000001" text-anchor="middle" textLength="13.2" lengthAdjust="spacingAndGlyphs" fill="#262626">0.4</text>
<text x="380.6" y="697.6" font-size="9.296000000000001" text-anchor="middle" textLength="13.2" lengthAdjust="spacingAndGlyphs" fill="#262626">0.6</text>
<text x="413.1" y="697.6" font-size="9.296000000000001" text-anchor="middle" textLength="13.2" lengthAdjust="spacingAndGlyphs" fill="#262626">0.8</text>
<text x="445.6" y="697.6" font-size="9.296000000000001" text-anchor="middle" textLength="13.2" lengthAdjust="spacingAndGlyphs" fill="#262626">1.0</text>
<text x="364.3" y="710.5" font-size="10.2" text-anchor="middle" textLength="45.3" lengthAdjust="spacingAndGlyphs" fill="#262626">Diabetes</text>
<text x="251.1" y="624.8" font-size="10.2" text-anchor="middle" textLength="63.7" lengthAdjust="spacingAndGlyphs" transform="rotate(-90 251.1 624.8)" fill="#262626">SHAP values</text>
<path d="M364.3 685.3V564.4" stroke="#ff0d0d" stroke-width="2.1" stroke-dasharray="3.7 2.45" opacity="0.85" fill="none"/>
<path d="M499.4 664.8H502.0M499.4 641.7H502.0M499.4 618.6H502.0M499.4 595.6H502.0M499.4 572.5H502.0M510.4 685.3V687.9M569.5 685.3V687.9M628.6 685.3V687.9" stroke="#555555" stroke-width="0.9" fill="none"/>
<text x="496.4" y="667.8" font-size="9.296000000000001" text-anchor="end" textLength="18.5" lengthAdjust="spacingAndGlyphs" fill="#262626">0.00</text>
<text x="496.4" y="644.7" font-size="9.296000000000001" text-anchor="end" textLength="18.5" lengthAdjust="spacingAndGlyphs" fill="#262626">0.25</text>
<text x="496.4" y="621.6" font-size="9.296000000000001" text-anchor="end" textLength="18.5" lengthAdjust="spacingAndGlyphs" fill="#262626">0.50</text>
<text x="496.4" y="598.6" font-size="9.296000000000001" text-anchor="end" textLength="18.5" lengthAdjust="spacingAndGlyphs" fill="#262626">0.75</text>
<text x="496.4" y="575.5" font-size="9.296000000000001" text-anchor="end" textLength="18.5" lengthAdjust="spacingAndGlyphs" fill="#262626">1.00</text>
<text x="510.4" y="697.6" font-size="9.296000000000001" text-anchor="middle" textLength="5.3" lengthAdjust="spacingAndGlyphs" fill="#262626">0</text>
<text x="569.5" y="697.6" font-size="9.296000000000001" text-anchor="middle" textLength="15.8" lengthAdjust="spacingAndGlyphs" fill="#262626">500</text>
<text x="628.6" y="697.6" font-size="9.296000000000001" text-anchor="middle" textLength="21.1" lengthAdjust="spacingAndGlyphs" fill="#262626">1000</text>
<text x="591.4" y="710.5" font-size="10.2" text-anchor="middle" textLength="164.3" lengthAdjust="spacingAndGlyphs" fill="#262626">Antibiotics prophylax (min time)</text>
<text x="472.5" y="624.8" font-size="10.2" text-anchor="middle" textLength="63.7" lengthAdjust="spacingAndGlyphs" transform="rotate(-90 472.5 624.8)" fill="#262626">SHAP values</text>
<path d="M524.5 685.3V564.4" stroke="#ff0d0d" stroke-width="2.1" stroke-dasharray="3.7 2.45" opacity="0.85" fill="none"/>
<path d="M41.4 865.1H44.0M41.4 830.2H44.0M41.4 795.3H44.0M52.0 884.2V886.8M84.4 884.2V886.8M116.8 884.2V886.8M149.1 884.2V886.8M181.5 884.2V886.8M213.9 884.2V886.8" stroke="#555555" stroke-width="0.9" fill="none"/>
<text x="38.4" y="868.1" font-size="9.296000000000001" text-anchor="end" textLength="20.2" lengthAdjust="spacingAndGlyphs" fill="#262626">−0.2</text>
<text x="38.4" y="833.2" font-size="9.296000000000001" text-anchor="end" textLength="13.2" lengthAdjust="spacingAndGlyphs" fill="#262626">0.0</text>
<text x="38.4" y="798.3" font-size="9.296000000000001" text-anchor="end" textLength="13.2" lengthAdjust="spacingAndGlyphs" fill="#262626">0.2</text>
<text x="52.0" y="896.5" font-size="9.296000000000001" text-anchor="middle" textLength="13.2" lengthAdjust="spacingAndGlyphs" fill="#262626">0.0</text>
<text x="84.4" y="896.5" font-size="9.296000000000001" text-anchor="middle" textLength="13.2" lengthAdjust="spacingAndGlyphs" fill="#262626">0.2</text>
<text x="116.8" y="896.5" font-size="9.296000000000001" text-anchor="middle" textLength="13.2" lengthAdjust="spacingAndGlyphs" fill="#262626">0.4</text>
<text x="149.1" y="896.5" font-size="9.296000000000001" text-anchor="middle" textLength="13.2" lengthAdjust="spacingAndGlyphs" fill="#262626">0.6</text>
<text x="181.5" y="896.5" font-size="9.296000000000001" text-anchor="middle" textLength="13.2" lengthAdjust="spacingAndGlyphs" fill="#262626">0.8</text>
<text x="213.9" y="896.5" font-size="9.296000000000001" text-anchor="middle" textLength="13.2" lengthAdjust="spacingAndGlyphs" fill="#262626">1.0</text>
<text x="132.8" y="909.4" font-size="10.2" text-anchor="middle" textLength="69.3" lengthAdjust="spacingAndGlyphs" fill="#262626">Open surgery</text>
<text x="12.8" y="827.7" font-size="10.2" text-anchor="middle" textLength="63.7" lengthAdjust="spacingAndGlyphs" transform="rotate(-90 12.8 827.7)" fill="#262626">SHAP values</text>
<path d="M133.0 884.2V771.1" stroke="#ff0d0d" stroke-width="2.1" stroke-dasharray="3.7 2.45" opacity="0.85" fill="none"/>
<path d="M273.7 873.5H276.3M273.7 851.2H276.3M273.7 828.9H276.3M273.7 806.5H276.3M273.7 784.2H276.3M282.4 884.2V886.8M341.0 884.2V886.8M399.6 884.2V886.8" stroke="#555555" stroke-width="0.9" fill="none"/>
<text x="270.7" y="876.5" font-size="9.296000000000001" text-anchor="end" textLength="25.4" lengthAdjust="spacingAndGlyphs" fill="#262626">−0.25</text>
<text x="270.7" y="854.2" font-size="9.296000000000001" text-anchor="end" textLength="18.5" lengthAdjust="spacingAndGlyphs" fill="#262626">0.00</text>
<text x="270.7" y="831.9" font-size="9.296000000000001" text-anchor="end" textLength="18.5" lengthAdjust="spacingAndGlyphs" fill="#262626">0.25</text>
<text x="270.7" y="809.5" font-size="9.296000000000001" text-anchor="end" textLength="18.5" lengthAdjust="spacingAndGlyphs" fill="#262626">0.50</text>
<text x="270.7" y="787.2" font-size="9.296000000000001" text-anchor="end" textLength="18.5" lengthAdjust="spacingAndGlyphs" fill="#262626">0.75</text>
<text x="282.4" y="896.5" font-size="9.296000000000001" text-anchor="middle" textLength="5.3" lengthAdjust="spacingAndGlyphs" fill="#262626">0</text>
<text x="341.0" y="896.5" font-size="9.296000000000001" text-anchor="middle" textLength="15.8" lengthAdjust="spacingAndGlyphs" fill="#262626">500</text>
<text x="399.6" y="896.5" font-size="9.296000000000001" text-anchor="middle" textLength="21.1" lengthAdjust="spacingAndGlyphs" fill="#262626">1000</text>
<text x="365.3" y="909.4" font-size="10.2" text-anchor="middle" textLength="128.2" lengthAdjust="spacingAndGlyphs" fill="#262626">Surgery length (minutes)</text>
<text x="239.9" y="827.7" font-size="10.2" text-anchor="middle" textLength="63.7" lengthAdjust="spacingAndGlyphs" transform="rotate(-90 239.9 827.7)" fill="#262626">SHAP values</text>
<path d="M298.8 884.2V771.1" stroke="#ff0d0d" stroke-width="2.1" stroke-dasharray="3.7 2.45" opacity="0.85" fill="none"/>
<path d="M500.4 878.9H503.0M500.4 853.2H503.0M500.4 827.5H503.0M500.4 801.8H503.0M500.4 776.1H503.0M523.5 884.2V886.8M563.8 884.2V886.8M604.1 884.2V886.8M644.4 884.2V886.8" stroke="#555555" stroke-width="0.9" fill="none"/>
<text x="497.4" y="881.9" font-size="9.296000000000001" text-anchor="end" textLength="20.2" lengthAdjust="spacingAndGlyphs" fill="#262626">−0.4</text>
<text x="497.4" y="856.2" font-size="9.296000000000001" text-anchor="end" textLength="20.2" lengthAdjust="spacingAndGlyphs" fill="#262626">−0.2</text>
<text x="497.4" y="830.5" font-size="9.296000000000001" text-anchor="end" textLength="13.2" lengthAdjust="spacingAndGlyphs" fill="#262626">0.0</text>
<text x="497.4" y="804.8" font-size="9.296000000000001" text-anchor="end" textLength="13.2" lengthAdjust="spacingAndGlyphs" fill="#262626">0.2</text>
<text x="497.4" y="779.1" font-size="9.296000000000001" text-anchor="end" textLength="13.2" lengthAdjust="spacingAndGlyphs" fill="#262626">0.4</text>
<text x="523.5" y="896.5" font-size="9.296000000000001" text-anchor="middle" textLength="10.6" lengthAdjust="spacingAndGlyphs" fill="#262626">20</text>
<text x="563.8" y="896.5" font-size="9.296000000000001" text-anchor="middle" textLength="10.6" lengthAdjust="spacingAndGlyphs" fill="#262626">40</text>
<text x="604.1" y="896.5" font-size="9.296000000000001" text-anchor="middle" textLength="10.6" lengthAdjust="spacingAndGlyphs" fill="#262626">60</text>
<text x="644.4" y="896.5" font-size="9.296000000000001" text-anchor="middle" textLength="10.6" lengthAdjust="spacingAndGlyphs" fill="#262626">80</text>
<text x="591.9" y="909.4" font-size="10.2" text-anchor="middle" textLength="19.7" lengthAdjust="spacingAndGlyphs" fill="#262626">Age</text>
<text x="471.8" y="827.7" font-size="10.2" text-anchor="middle" textLength="63.7" lengthAdjust="spacingAndGlyphs" transform="rotate(-90 471.8 827.7)" fill="#262626">SHAP values</text>
<path d="M590.3 884.2V771.1" stroke="#ff0d0d" stroke-width="2.1" stroke-dasharray="3.7 2.45" opacity="0.85" fill="none"/>
<path d="M41.4 1018.2H44.0M41.4 981.4H44.0M41.4 944.6H44.0M69.8 1031.9V1034.5M105.8 1031.9V1034.5M141.7 1031.9V1034.5M177.7 1031.9V1034.5M213.6 1031.9V1034.5" stroke="#555555" stroke-width="0.9" fill="none"/>
<text x="38.4" y="1021.2" font-size="9.296000000000001" text-anchor="end" textLength="13.2" lengthAdjust="spacingAndGlyphs" fill="#262626">0.0</text>
<text x="38.4" y="984.4" font-size="9.296000000000001" text-anchor="end" textLength="13.2" lengthAdjust="spacingAndGlyphs" fill="#262626">0.5</text>
<text x="38.4" y="947.6" font-size="9.296000000000001" text-anchor="end" textLength="13.2" lengthAdjust="spacingAndGlyphs" fill="#262626">1.0</text>
<text x="69.8" y="1044.2" font-size="9.296000000000001" text-anchor="middle" textLength="5.3" lengthAdjust="spacingAndGlyphs" fill="#262626">2</text>
<text x="105.8" y="1044.2" font-size="9.296000000000001" text-anchor="middle" textLength="5.3" lengthAdjust="spacingAndGlyphs" fill="#262626">4</text>
<text x="141.7" y="1044.2" font-size="9.296000000000001" text-anchor="middle" textLength="5.3" lengthAdjust="spacingAndGlyphs" fill="#262626">6</text>
<text x="177.7" y="1044.2" font-size="9.296000000000001" text-anchor="middle" textLength="5.3" lengthAdjust="spacingAndGlyphs" fill="#262626">8</text>
<text x="213.6" y="1044.2" font-size="9.296000000000001" text-anchor="middle" textLength="10.6" lengthAdjust="spacingAndGlyphs" fill="#262626">10</text>
<text x="132.8" y="1057.1" font-size="10.2" text-anchor="middle" textLength="114.4" lengthAdjust="spacingAndGlyphs" fill="#262626">Number of procedures</text>
<text x="19.8" y="975.5" font-size="10.2" text-anchor="middle" textLength="63.7" lengthAdjust="spacingAndGlyphs" transform="rotate(-90 19.8 975.5)" fill="#262626">SHAP values</text>
<path d="M60.8 1031.9V919.1" stroke="#ff0d0d" stroke-width="2.1" stroke-dasharray="3.7 2.45" opacity="0.85" fill="none"/>
<path d="M273.7 1003.7H276.3M273.7 972.0H276.3M273.7 940.3H276.3M282.7 1031.9V1034.5M296.4 1031.9V1034.5M310.2 1031.9V1034.5M323.9 1031.9V1034.5M337.7 1031.9V1034.5M351.4 1031.9V1034.5M365.2 1031.9V1034.5M378.9 1031.9V1034.5M392.6 1031.9V1034.5M406.4 1031.9V1034.5M420.1 1031.9V1034.5M433.9 1031.9V1034.5M447.6 1031.9V1034.5" stroke="#555555" stroke-width="0.9" fill="none"/>
<text x="270.7" y="1006.4" font-size="8.4" text-anchor="end" textLength="11.9" lengthAdjust="spacingAndGlyphs" fill="#262626">0.0</text>
<text x="270.7" y="974.7" font-size="8.4" text-anchor="end" textLength="11.9" lengthAdjust="spacingAndGlyphs" fill="#262626">0.2</text>
<text x="270.7" y="943.0" font-size="8.4" text-anchor="end" textLength="11.9" lengthAdjust="spacingAndGlyphs" fill="#262626">0.4</text>
<text x="285.6" y="1037.1" font-size="8.008000000000001" text-anchor="end" textLength="20.5" lengthAdjust="spacingAndGlyphs" transform="rotate(-90 285.6 1037.1)" fill="#262626">other</text>
<text x="299.3" y="1037.1" font-size="8.008000000000001" text-anchor="end" textLength="49.0" lengthAdjust="spacingAndGlyphs" transform="rotate(-90 299.3 1037.1)" fill="#262626">gynaecology</text>
<text x="313.1" y="1037.1" font-size="8.008000000000001" text-anchor="end" textLength="24.4" lengthAdjust="spacingAndGlyphs" transform="rotate(-90 313.1 1037.1)" fill="#262626">breast</text>
<text x="326.8" y="1037.1" font-size="8.008000000000001" text-anchor="end" textLength="44.3" lengthAdjust="spacingAndGlyphs" transform="rotate(-90 326.8 1037.1)" fill="#262626">biliary tract</text>
<text x="340.6" y="1037.1" font-size="8.008000000000001" text-anchor="end" textLength="64.0" lengthAdjust="spacingAndGlyphs" transform="rotate(-90 340.6 1037.1)" fill="#262626">gastroesophagal</text>
<text x="354.3" y="1037.1" font-size="8.008000000000001" text-anchor="end" textLength="57.8" lengthAdjust="spacingAndGlyphs" transform="rotate(-90 354.3 1037.1)" fill="#262626">appendectomy</text>
<text x="368.1" y="1037.1" font-size="8.008000000000001" text-anchor="end" textLength="39.6" lengthAdjust="spacingAndGlyphs" transform="rotate(-90 368.1 1037.1)" fill="#262626">diagnostic</text>
<text x="381.8" y="1037.1" font-size="8.008000000000001" text-anchor="end" textLength="36.2" lengthAdjust="spacingAndGlyphs" transform="rotate(-90 381.8 1037.1)" fill="#262626">anorectal</text>
<text x="395.5" y="1037.1" font-size="8.008000000000001" text-anchor="end" textLength="63.1" lengthAdjust="spacingAndGlyphs" transform="rotate(-90 395.5 1037.1)" fill="#262626">retroperitoneum</text>
<text x="409.3" y="1037.1" font-size="8.008000000000001" text-anchor="end" textLength="28.6" lengthAdjust="spacingAndGlyphs" transform="rotate(-90 409.3 1037.1)" fill="#262626">hepatic</text>
<text x="423.0" y="1037.1" font-size="8.008000000000001" text-anchor="end" textLength="24.4" lengthAdjust="spacingAndGlyphs" transform="rotate(-90 423.0 1037.1)" fill="#262626">hernia</text>
<text x="436.8" y="1037.1" font-size="8.008000000000001" text-anchor="end" textLength="45.7" lengthAdjust="spacingAndGlyphs" transform="rotate(-90 436.8 1037.1)" fill="#262626">small bowel</text>
<text x="450.5" y="1037.1" font-size="8.008000000000001" text-anchor="end" textLength="37.6" lengthAdjust="spacingAndGlyphs" transform="rotate(-90 450.5 1037.1)" fill="#262626">colorectal</text>
<text x="365.3" y="1114.2" font-size="10.2" text-anchor="middle" textLength="102.3" lengthAdjust="spacingAndGlyphs" fill="#262626">Past procedure type</text>
<text x="253.4" y="975.5" font-size="10.2" text-anchor="middle" textLength="63.7" lengthAdjust="spacingAndGlyphs" transform="rotate(-90 253.4 975.5)" fill="#262626">SHAP values</text>
<path d="M358.3 1031.9V919.1" stroke="#ff0d0d" stroke-width="2.1" stroke-dasharray="3.7 2.45" opacity="0.85" fill="none"/>
<path d="M500.4 1031.9H503.0M500.4 1014.7H503.0M500.4 997.4H503.0M500.4 980.2H503.0M500.4 963.0H503.0M500.4 945.7H503.0M500.4 928.5H503.0M510.4 1031.9V1034.5M524.0 1031.9V1034.5M537.6 1031.9V1034.5M551.2 1031.9V1034.5M564.8 1031.9V1034.5M578.4 1031.9V1034.5M592.0 1031.9V1034.5M605.6 1031.9V1034.5M619.2 1031.9V1034.5M632.8 1031.9V1034.5M646.4 1031.9V1034.5M660.0 1031.9V1034.5M673.6 1031.9V1034.5" stroke="#555555" stroke-width="0.9" fill="none"/>
<text x="497.4" y="1034.6" font-size="8.4" text-anchor="end" textLength="18.2" lengthAdjust="spacingAndGlyphs" fill="#262626">−0.2</text>
<text x="497.4" y="1017.4" font-size="8.4" text-anchor="end" textLength="18.2" lengthAdjust="spacingAndGlyphs" fill="#262626">−0.1</text>
<text x="497.4" y="1000.1" font-size="8.4" text-anchor="end" textLength="11.9" lengthAdjust="spacingAndGlyphs" fill="#262626">0.0</text>
<text x="497.4" y="982.9" font-size="8.4" text-anchor="end" textLength="11.9" lengthAdjust="spacingAndGlyphs" fill="#262626">0.1</text>
<text x="497.4" y="965.7" font-size="8.4" text-anchor="end" textLength="11.9" lengthAdjust="spacingAndGlyphs" fill="#262626">0.2</text>
<text x="497.4" y="948.4" font-size="8.4" text-anchor="end" textLength="11.9" lengthAdjust="spacingAndGlyphs" fill="#262626">0.3</text>
<text x="497.4" y="931.2" font-size="8.4" text-anchor="end" textLength="11.9" lengthAdjust="spacingAndGlyphs" fill="#262626">0.4</text>
<text x="513.3" y="1037.1" font-size="8.008000000000001" text-anchor="end" textLength="36.2" lengthAdjust="spacingAndGlyphs" transform="rotate(-90 513.3 1037.1)" fill="#262626">anorectal</text>
<text x="526.9" y="1037.1" font-size="8.008000000000001" text-anchor="end" textLength="57.8" lengthAdjust="spacingAndGlyphs" transform="rotate(-90 526.9 1037.1)" fill="#262626">appendectomy</text>
<text x="540.5" y="1037.1" font-size="8.008000000000001" text-anchor="end" textLength="24.4" lengthAdjust="spacingAndGlyphs" transform="rotate(-90 540.5 1037.1)" fill="#262626">breast</text>
<text x="554.1" y="1037.1" font-size="8.008000000000001" text-anchor="end" textLength="44.3" lengthAdjust="spacingAndGlyphs" transform="rotate(-90 554.1 1037.1)" fill="#262626">biliary tract</text>
<text x="567.7" y="1037.1" font-size="8.008000000000001" text-anchor="end" textLength="20.5" lengthAdjust="spacingAndGlyphs" transform="rotate(-90 567.7 1037.1)" fill="#262626">other</text>
<text x="581.3" y="1037.1" font-size="8.008000000000001" text-anchor="end" textLength="24.4" lengthAdjust="spacingAndGlyphs" transform="rotate(-90 581.3 1037.1)" fill="#262626">hernia</text>
<text x="594.9" y="1037.1" font-size="8.008000000000001" text-anchor="end" textLength="64.0" lengthAdjust="spacingAndGlyphs" transform="rotate(-90 594.9 1037.1)" fill="#262626">gastroesophagal</text>
<text x="608.5" y="1037.1" font-size="8.008000000000001" text-anchor="end" textLength="39.6" lengthAdjust="spacingAndGlyphs" transform="rotate(-90 608.5 1037.1)" fill="#262626">diagnostic</text>
<text x="622.1" y="1037.1" font-size="8.008000000000001" text-anchor="end" textLength="28.6" lengthAdjust="spacingAndGlyphs" transform="rotate(-90 622.1 1037.1)" fill="#262626">hepatic</text>
<text x="635.7" y="1037.1" font-size="8.008000000000001" text-anchor="end" textLength="63.1" lengthAdjust="spacingAndGlyphs" transform="rotate(-90 635.7 1037.1)" fill="#262626">retroperitoneum</text>
<text x="649.3" y="1037.1" font-size="8.008000000000001" text-anchor="end" textLength="49.0" lengthAdjust="spacingAndGlyphs" transform="rotate(-90 649.3 1037.1)" fill="#262626">gynaecology</text>
<text x="662.9" y="1037.1" font-size="8.008000000000001" text-anchor="end" textLength="45.7" lengthAdjust="spacingAndGlyphs" transform="rotate(-90 662.9 1037.1)" fill="#262626">small bowel</text>
<text x="676.5" y="1037.1" font-size="8.008000000000001" text-anchor="end" textLength="37.6" lengthAdjust="spacingAndGlyphs" transform="rotate(-90 676.5 1037.1)" fill="#262626">colorectal</text>
<text x="591.9" y="1114.2" font-size="10.2" text-anchor="middle" textLength="77.3" lengthAdjust="spacingAndGlyphs" fill="#262626">Procedure type</text>
<text x="473.8" y="975.5" font-size="10.2" text-anchor="middle" textLength="63.7" lengthAdjust="spacingAndGlyphs" transform="rotate(-90 473.8 975.5)" fill="#262626">SHAP values</text>
<path d="M612.8 1031.9V919.1" stroke="#ff0d0d" stroke-width="2.1" stroke-dasharray="3.7 2.45" opacity="0.85" fill="none"/>
<path d="M41.4 1222.8H44.0M41.4 1199.5H44.0M41.4 1176.1H44.0M41.4 1152.8H44.0M41.4 1129.4H44.0M90.7 1237.0V1239.6M141.6 1237.0V1239.6M192.4 1237.0V1239.6" stroke="#555555" stroke-width="0.9" fill="none"/>
<text x="38.4" y="1225.8" font-size="9.296000000000001" text-anchor="end" textLength="20.2" lengthAdjust="spacingAndGlyphs" fill="#262626">−0.2</text>
<text x="38.4" y="1202.5" font-size="9.296000000000001" text-anchor="end" textLength="20.2" lengthAdjust="spacingAndGlyphs" fill="#262626">−0.1</text>
<text x="38.4" y="1179.1" font-size="9.296000000000001" text-anchor="end" textLength="13.2" lengthAdjust="spacingAndGlyphs" fill="#262626">0.0</text>
<text x="38.4" y="1155.8" font-size="9.296000000000001" text-anchor="end" textLength="13.2" lengthAdjust="spacingAndGlyphs" fill="#262626">0.1</text>
<text x="38.4" y="1132.4" font-size="9.296000000000001" text-anchor="end" textLength="13.2" lengthAdjust="spacingAndGlyphs" fill="#262626">0.2</text>
<text x="90.7" y="1249.3" font-size="9.296000000000001" text-anchor="middle" textLength="10.6" lengthAdjust="spacingAndGlyphs" fill="#262626">20</text>
<text x="141.6" y="1249.3" font-size="9.296000000000001" text-anchor="middle" textLength="10.6" lengthAdjust="spacingAndGlyphs" fill="#262626">40</text>
<text x="192.4" y="1249.3" font-size="9.296000000000001" text-anchor="middle" textLength="10.6" lengthAdjust="spacingAndGlyphs" fill="#262626">60</text>
<text x="132.8" y="1262.2" font-size="10.2" text-anchor="middle" textLength="18.8" lengthAdjust="spacingAndGlyphs" fill="#262626">BMI</text>
<text x="12.8" y="1181.0" font-size="10.2" text-anchor="middle" textLength="63.7" lengthAdjust="spacingAndGlyphs" transform="rotate(-90 12.8 1181.0)" fill="#262626">SHAP values</text>
<path d="M111.1 1237.0V1125.1" stroke="#ff0d0d" stroke-width="2.1" stroke-dasharray="3.7 2.45" opacity="0.85" fill="none"/>
<path d="M273.7 1234.9H276.3M273.7 1202.3H276.3M273.7 1169.8H276.3M273.7 1137.2H276.3M284.4 1237.0V1239.6M316.8 1237.0V1239.6M349.3 1237.0V1239.6M381.7 1237.0V1239.6M414.2 1237.0V1239.6M446.6 1237.0V1239.6" stroke="#555555" stroke-width="0.9" fill="none"/>
<text x="270.7" y="1237.9" font-size="9.296000000000001" text-anchor="end" textLength="20.2" lengthAdjust="spacingAndGlyphs" fill="#262626">−0.1</text>
<text x="270.7" y="1205.3" font-size="9.296000000000001" text-anchor="end" textLength="13.2" lengthAdjust="spacingAndGlyphs" fill="#262626">0.0</text>
<text x="270.7" y="1172.8" font-size="9.296000000000001" text-anchor="end" textLength="13.2" lengthAdjust="spacingAndGlyphs" fill="#262626">0.1</text>
<text x="270.7" y="1140.2" font-size="9.296000000000001" text-anchor="end" textLength="13.2" lengthAdjust="spacingAndGlyphs" fill="#262626">0.2</text>
<text x="284.4" y="1249.3" font-size="9.296000000000001" text-anchor="middle" textLength="13.2" lengthAdjust="spacingAndGlyphs" fill="#262626">0.0</text>
<text x="316.8" y="1249.3" font-size="9.296000000000001" text-anchor="middle" textLength="13.2" lengthAdjust="spacingAndGlyphs" fill="#262626">0.2</text>
<text x="349.3" y="1249.3" font-size="9.296000000000001" text-anchor="middle" textLength="13.2" lengthAdjust="spacingAndGlyphs" fill="#262626">0.4</text>
<text x="381.7" y="1249.3" font-size="9.296000000000001" text-anchor="middle" textLength="13.2" lengthAdjust="spacingAndGlyphs" fill="#262626">0.6</text>
<text x="414.2" y="1249.3" font-size="9.296000000000001" text-anchor="middle" textLength="13.2" lengthAdjust="spacingAndGlyphs" fill="#262626">0.8</text>
<text x="446.6" y="1249.3" font-size="9.296000000000001" text-anchor="middle" textLength="13.2" lengthAdjust="spacingAndGlyphs" fill="#262626">1.0</text>
<text x="365.3" y="1262.2" font-size="10.2" text-anchor="middle" textLength="76.7" lengthAdjust="spacingAndGlyphs" fill="#262626">Urgent surgery</text>
<text x="245.1" y="1181.0" font-size="10.2" text-anchor="middle" textLength="63.7" lengthAdjust="spacingAndGlyphs" transform="rotate(-90 245.1 1181.0)" fill="#262626">SHAP values</text>
<path d="M365.3 1237.0V1125.1" stroke="#ff0d0d" stroke-width="2.1" stroke-dasharray="3.7 2.45" opacity="0.85" fill="none"/>
<path d="M500.4 1218.4H503.0M500.4 1193.9H503.0M500.4 1169.4H503.0M500.4 1144.9H503.0M532.9 1237.0V1239.6M575.4 1237.0V1239.6M618.0 1237.0V1239.6M660.5 1237.0V1239.6" stroke="#555555" stroke-width="0.9" fill="none"/>
<text x="497.4" y="1221.4" font-size="9.296000000000001" text-anchor="end" textLength="20.2" lengthAdjust="spacingAndGlyphs" fill="#262626">−0.1</text>
<text x="497.4" y="1196.9" font-size="9.296000000000001" text-anchor="end" textLength="13.2" lengthAdjust="spacingAndGlyphs" fill="#262626">0.0</text>
<text x="497.4" y="1172.4" font-size="9.296000000000001" text-anchor="end" textLength="13.2" lengthAdjust="spacingAndGlyphs" fill="#262626">0.1</text>
<text x="497.4" y="1147.9" font-size="9.296000000000001" text-anchor="end" textLength="13.2" lengthAdjust="spacingAndGlyphs" fill="#262626">0.2</text>
<text x="532.9" y="1249.3" font-size="9.296000000000001" text-anchor="middle" textLength="5.3" lengthAdjust="spacingAndGlyphs" fill="#262626">2</text>
<text x="575.4" y="1249.3" font-size="9.296000000000001" text-anchor="middle" textLength="5.3" lengthAdjust="spacingAndGlyphs" fill="#262626">3</text>
<text x="618.0" y="1249.3" font-size="9.296000000000001" text-anchor="middle" textLength="5.3" lengthAdjust="spacingAndGlyphs" fill="#262626">4</text>
<text x="660.5" y="1249.3" font-size="9.296000000000001" text-anchor="middle" textLength="5.3" lengthAdjust="spacingAndGlyphs" fill="#262626">5</text>
<text x="591.9" y="1262.2" font-size="10.2" text-anchor="middle" textLength="95.1" lengthAdjust="spacingAndGlyphs" fill="#262626">Albumin blood last</text>
<text x="471.8" y="1181.0" font-size="10.2" text-anchor="middle" textLength="63.7" lengthAdjust="spacingAndGlyphs" transform="rotate(-90 471.8 1181.0)" fill="#262626">SHAP values</text>
<path d="M609.1 1237.0V1125.1" stroke="#ff0d0d" stroke-width="2.1" stroke-dasharray="3.7 2.45" opacity="0.85" fill="none"/>
<path d="M41.4 1371.4H44.0M41.4 1343.7H44.0M41.4 1315.9H44.0M41.4 1288.2H44.0M52.0 1385.2V1387.8M92.5 1385.2V1387.8M132.9 1385.2V1387.8M173.4 1385.2V1387.8M213.9 1385.2V1387.8" stroke="#555555" stroke-width="0.9" fill="none"/>
<text x="38.4" y="1374.4" font-size="9.296000000000001" text-anchor="end" textLength="20.2" lengthAdjust="spacingAndGlyphs" fill="#262626">−0.1</text>
<text x="38.4" y="1346.7" font-size="9.296000000000001" text-anchor="end" textLength="13.2" lengthAdjust="spacingAndGlyphs" fill="#262626">0.0</text>
<text x="38.4" y="1318.9" font-size="9.296000000000001" text-anchor="end" textLength="13.2" lengthAdjust="spacingAndGlyphs" fill="#262626">0.1</text>
<text x="38.4" y="1291.2" font-size="9.296000000000001" text-anchor="end" textLength="13.2" lengthAdjust="spacingAndGlyphs" fill="#262626">0.2</text>
<text x="52.0" y="1397.5" font-size="9.296000000000001" text-anchor="middle" textLength="5.3" lengthAdjust="spacingAndGlyphs" fill="#262626">1</text>
<text x="92.5" y="1397.5" font-size="9.296000000000001" text-anchor="middle" textLength="5.3" lengthAdjust="spacingAndGlyphs" fill="#262626">2</text>
<text x="132.9" y="1397.5" font-size="9.296000000000001" text-anchor="middle" textLength="5.3" lengthAdjust="spacingAndGlyphs" fill="#262626">3</text>
<text x="173.4" y="1397.5" font-size="9.296000000000001" text-anchor="middle" textLength="5.3" lengthAdjust="spacingAndGlyphs" fill="#262626">4</text>
<text x="213.9" y="1397.5" font-size="9.296000000000001" text-anchor="middle" textLength="5.3" lengthAdjust="spacingAndGlyphs" fill="#262626">5</text>
<text x="132.8" y="1410.4" font-size="10.2" text-anchor="middle" textLength="20.6" lengthAdjust="spacingAndGlyphs" fill="#262626">ASA</text>
<text x="12.8" y="1328.8" font-size="10.2" text-anchor="middle" textLength="63.7" lengthAdjust="spacingAndGlyphs" transform="rotate(-90 12.8 1328.8)" fill="#262626">SHAP values</text>
<path d="M112.5 1385.2V1272.4" stroke="#ff0d0d" stroke-width="2.1" stroke-dasharray="3.7 2.45" opacity="0.85" fill="none"/>
<path d="M273.7 1375.5H276.3M273.7 1349.0H276.3M273.7 1322.4H276.3M273.7 1295.9H276.3M284.4 1385.2V1387.8M319.5 1385.2V1387.8M354.6 1385.2V1387.8M389.7 1385.2V1387.8M424.8 1385.2V1387.8" stroke="#555555" stroke-width="0.9" fill="none"/>
<text x="270.7" y="1378.5" font-size="9.296000000000001" text-anchor="end" textLength="13.2" lengthAdjust="spacingAndGlyphs" fill="#262626">0.0</text>
<text x="270.7" y="1352.0" font-size="9.296000000000001" text-anchor="end" textLength="13.2" lengthAdjust="spacingAndGlyphs" fill="#262626">0.2</text>
<text x="270.7" y="1325.4" font-size="9.296000000000001" text-anchor="end" textLength="13.2" lengthAdjust="spacingAndGlyphs" fill="#262626">0.4</text>
<text x="270.7" y="1298.9" font-size="9.296000000000001" text-anchor="end" textLength="13.2" lengthAdjust="spacingAndGlyphs" fill="#262626">0.6</text>
<text x="284.4" y="1397.5" font-size="9.296000000000001" text-anchor="middle" textLength="5.3" lengthAdjust="spacingAndGlyphs" fill="#262626">0</text>
<text x="319.5" y="1397.5" font-size="9.296000000000001" text-anchor="middle" textLength="21.1" lengthAdjust="spacingAndGlyphs" fill="#262626">1000</text>
<text x="354.6" y="1397.5" font-size="9.296000000000001" text-anchor="middle" textLength="21.1" lengthAdjust="spacingAndGlyphs" fill="#262626">2000</text>
<text x="389.7" y="1397.5" font-size="9.296000000000001" text-anchor="middle" textLength="21.1" lengthAdjust="spacingAndGlyphs" fill="#262626">3000</text>
<text x="424.8" y="1397.5" font-size="9.296000000000001" text-anchor="middle" textLength="21.1" lengthAdjust="spacingAndGlyphs" fill="#262626">4000</text>
<text x="365.3" y="1410.4" font-size="10.2" text-anchor="middle" textLength="78.6" lengthAdjust="spacingAndGlyphs" fill="#262626">Blood loss (mL)</text>
<text x="252.1" y="1328.8" font-size="10.2" text-anchor="middle" textLength="63.7" lengthAdjust="spacingAndGlyphs" transform="rotate(-90 252.1 1328.8)" fill="#262626">SHAP values</text>
<path d="M287.8 1385.2V1272.4" stroke="#ff0d0d" stroke-width="2.1" stroke-dasharray="3.7 2.45" opacity="0.85" fill="none"/>
<path d="M500.4 1376.8H503.0M500.4 1355.0H503.0M500.4 1333.3H503.0M500.4 1311.5H503.0M500.4 1289.8H503.0M510.7 1385.2V1387.8M555.9 1385.2V1387.8M601.2 1385.2V1387.8M646.4 1385.2V1387.8" stroke="#555555" stroke-width="0.9" fill="none"/>
<text x="497.4" y="1379.8" font-size="9.296000000000001" text-anchor="end" textLength="18.5" lengthAdjust="spacingAndGlyphs" fill="#262626">0.00</text>
<text x="497.4" y="1358.0" font-size="9.296000000000001" text-anchor="end" textLength="18.5" lengthAdjust="spacingAndGlyphs" fill="#262626">0.25</text>
<text x="497.4" y="1336.3" font-size="9.296000000000001" text-anchor="end" textLength="18.5" lengthAdjust="spacingAndGlyphs" fill="#262626">0.50</text>
<text x="497.4" y="1314.5" font-size="9.296000000000001" text-anchor="end" textLength="18.5" lengthAdjust="spacingAndGlyphs" fill="#262626">0.75</text>
<text x="497.4" y="1292.8" font-size="9.296000000000001" text-anchor="end" textLength="18.5" lengthAdjust="spacingAndGlyphs" fill="#262626">1.00</text>
<text x="510.7" y="1397.5" font-size="9.296000000000001" text-anchor="middle" textLength="5.3" lengthAdjust="spacingAndGlyphs" fill="#262626">0</text>
<text x="555.9" y="1397.5" font-size="9.296000000000001" text-anchor="middle" textLength="10.6" lengthAdjust="spacingAndGlyphs" fill="#262626">20</text>
<text x="601.2" y="1397.5" font-size="9.296000000000001" text-anchor="middle" textLength="10.6" lengthAdjust="spacingAndGlyphs" fill="#262626">40</text>
<text x="646.4" y="1397.5" font-size="9.296000000000001" text-anchor="middle" textLength="10.6" lengthAdjust="spacingAndGlyphs" fill="#262626">60</text>
<text x="591.9" y="1410.4" font-size="10.2" text-anchor="middle" textLength="162.8" lengthAdjust="spacingAndGlyphs" fill="#262626">Days from admission to surgery</text>
<text x="473.5" y="1328.8" font-size="10.2" text-anchor="middle" textLength="63.7" lengthAdjust="spacingAndGlyphs" transform="rotate(-90 473.5 1328.8)" fill="#262626">SHAP values</text>
<path d="M526.5 1385.2V1272.4" stroke="#ff0d0d" stroke-width="2.1" stroke-dasharray="3.7 2.45" opacity="0.85" fill="none"/>
<path d="M41.4 1518.2H44.0M41.4 1496.4H44.0M41.4 1474.6H44.0M41.4 1452.7H44.0M41.4 1430.9H44.0M52.0 1533.0V1535.6M84.4 1533.0V1535.6M116.8 1533.0V1535.6M149.1 1533.0V1535.6M181.5 1533.0V1535.6M213.9 1533.0V1535.6" stroke="#555555" stroke-width="0.9" fill="none"/>
<text x="38.4" y="1521.2" font-size="9.296000000000001" text-anchor="end" textLength="18.5" lengthAdjust="spacingAndGlyphs" fill="#262626">0.00</text>
<text x="38.4" y="1499.4" font-size="9.296000000000001" text-anchor="end" textLength="18.5" lengthAdjust="spacingAndGlyphs" fill="#262626">0.05</text>
<text x="38.4" y="1477.6" font-size="9.296000000000001" text-anchor="end" textLength="18.5" lengthAdjust="spacingAndGlyphs" fill="#262626">0.10</text>
<text x="38.4" y="1455.7" font-size="9.296000000000001" text-anchor="end" textLength="18.5" lengthAdjust="spacingAndGlyphs" fill="#262626">0.15</text>
<text x="38.4" y="1433.9" font-size="9.296000000000001" text-anchor="end" textLength="18.5" lengthAdjust="spacingAndGlyphs" fill="#262626">0.20</text>
<text x="52.0" y="1545.3" font-size="9.296000000000001" text-anchor="middle" textLength="13.2" lengthAdjust="spacingAndGlyphs" fill="#262626">0.0</text>
<text x="84.4" y="1545.3" font-size="9.296000000000001" text-anchor="middle" textLength="13.2" lengthAdjust="spacingAndGlyphs" fill="#262626">0.2</text>
<text x="116.8" y="1545.3" font-size="9.296000000000001" text-anchor="middle" textLength="13.2" lengthAdjust="spacingAndGlyphs" fill="#262626">0.4</text>
<text x="149.1" y="1545.3" font-size="9.296000000000001" text-anchor="middle" textLength="13.2" lengthAdjust="spacingAndGlyphs" fill="#262626">0.6</text>
<text x="181.5" y="1545.3" font-size="9.296000000000001" text-anchor="middle" textLength="13.2" lengthAdjust="spacingAndGlyphs" fill="#262626">0.8</text>
<text x="213.9" y="1545.3" font-size="9.296000000000001" text-anchor="middle" textLength="13.2" lengthAdjust="spacingAndGlyphs" fill="#262626">1.0</text>
<text x="132.8" y="1558.2" font-size="10.2" text-anchor="middle" textLength="89.2" lengthAdjust="spacingAndGlyphs" fill="#262626">Blood transfusion</text>
<text x="14.5" y="1476.5" font-size="10.2" text-anchor="middle" textLength="63.7" lengthAdjust="spacingAndGlyphs" transform="rotate(-90 14.5 1476.5)" fill="#262626">SHAP values</text>
<path d="M133.0 1533.0V1420.1" stroke="#ff0d0d" stroke-width="2.1" stroke-dasharray="3.7 2.45" opacity="0.85" fill="none"/>
<path d="M273.7 1532.6H276.3M273.7 1504.4H276.3M273.7 1476.2H276.3M273.7 1448.0H276.3M320.7 1533.0V1535.6M409.6 1533.0V1535.6" stroke="#555555" stroke-width="0.9" fill="none"/>
<text x="270.7" y="1535.3" font-size="8.4" text-anchor="end" textLength="23.0" lengthAdjust="spacingAndGlyphs" fill="#262626">−0.10</text>
<text x="270.7" y="1507.1" font-size="8.4" text-anchor="end" textLength="23.0" lengthAdjust="spacingAndGlyphs" fill="#262626">−0.05</text>
<text x="270.7" y="1478.9" font-size="8.4" text-anchor="end" textLength="16.7" lengthAdjust="spacingAndGlyphs" fill="#262626">0.00</text>
<text x="270.7" y="1450.7" font-size="8.4" text-anchor="end" textLength="16.7" lengthAdjust="spacingAndGlyphs" fill="#262626">0.05</text>
<text x="320.7" y="1545.5" font-size="7.9" text-anchor="middle" textLength="27.2" lengthAdjust="spacingAndGlyphs" fill="#262626">female</text>
<text x="409.6" y="1545.5" font-size="7.9" text-anchor="middle" textLength="19.6" lengthAdjust="spacingAndGlyphs" fill="#262626">male</text>
<text x="365.3" y="1558.2" font-size="10.2" text-anchor="middle" textLength="37.6" lengthAdjust="spacingAndGlyphs" fill="#262626" stroke="#262626" stroke-width="0.18">Gender</text>
<text x="242.3" y="1476.5" font-size="10.2" text-anchor="middle" textLength="63.7" lengthAdjust="spacingAndGlyphs" transform="rotate(-90 242.3 1476.5)" fill="#262626">SHAP values</text>
<path d="M365.3 1533.0V1420.1" stroke="#ff0d0d" stroke-width="2.1" stroke-dasharray="3.7 2.45" opacity="0.85" fill="none"/>
<path d="M500.4 1526.6H503.0M500.4 1506.4H503.0M500.4 1486.3H503.0M500.4 1466.1H503.0M500.4 1446.0H503.0M500.4 1425.8H503.0M511.4 1533.0V1535.6M551.8 1533.0V1535.6M592.1 1533.0V1535.6M632.5 1533.0V1535.6M672.9 1533.0V1535.6" stroke="#555555" stroke-width="0.9" fill="none"/>
<text x="497.4" y="1529.6" font-size="9.296000000000001" text-anchor="end" textLength="18.5" lengthAdjust="spacingAndGlyphs" fill="#262626">0.00</text>
<text x="497.4" y="1509.4" font-size="9.296000000000001" text-anchor="end" textLength="18.5" lengthAdjust="spacingAndGlyphs" fill="#262626">0.25</text>
<text x="497.4" y="1489.3" font-size="9.296000000000001" text-anchor="end" textLength="18.5" lengthAdjust="spacingAndGlyphs" fill="#262626">0.50</text>
<text x="497.4" y="1469.1" font-size="9.296000000000001" text-anchor="end" textLength="18.5" lengthAdjust="spacingAndGlyphs" fill="#262626">0.75</text>
<text x="497.4" y="1449.0" font-size="9.296000000000001" text-anchor="end" textLength="18.5" lengthAdjust="spacingAndGlyphs" fill="#262626">1.00</text>
<text x="497.4" y="1428.8" font-size="9.296000000000001" text-anchor="end" textLength="18.5" lengthAdjust="spacingAndGlyphs" fill="#262626">1.25</text>
<text x="511.4" y="1545.3" font-size="9.296000000000001" text-anchor="middle" textLength="5.3" lengthAdjust="spacingAndGlyphs" fill="#262626">0</text>
<text x="551.8" y="1545.3" font-size="9.296000000000001" text-anchor="middle" textLength="5.3" lengthAdjust="spacingAndGlyphs" fill="#262626">2</text>
<text x="592.1" y="1545.3" font-size="9.296000000000001" text-anchor="middle" textLength="5.3" lengthAdjust="spacingAndGlyphs" fill="#262626">4</text>
<text x="632.5" y="1545.3" font-size="9.296000000000001" text-anchor="middle" textLength="5.3" lengthAdjust="spacingAndGlyphs" fill="#262626">6</text>
<text x="672.9" y="1545.3" font-size="9.296000000000001" text-anchor="middle" textLength="5.3" lengthAdjust="spacingAndGlyphs" fill="#262626">8</text>
<text x="591.9" y="1558.2" font-size="10.2" text-anchor="middle" textLength="168.3" lengthAdjust="spacingAndGlyphs" fill="#262626">Microbiology tests (days -4 to -1)</text>
<text x="473.5" y="1476.5" font-size="10.2" text-anchor="middle" textLength="63.7" lengthAdjust="spacingAndGlyphs" transform="rotate(-90 473.5 1476.5)" fill="#262626">SHAP values</text>
<path d="M521.5 1533.0V1420.1" stroke="#ff0d0d" stroke-width="2.1" stroke-dasharray="3.7 2.45" opacity="0.85" fill="none"/>
<text x="24.9" y="26.1" font-size="31.5" text-anchor="middle" fill="#262626">a</text>
<text x="361.8" y="19.3" font-size="21.5" text-anchor="middle" textLength="107.0" lengthAdjust="spacingAndGlyphs" fill="#262626">SSI PreOp</text>
<text x="24.8" y="762.2" font-size="32.5" text-anchor="middle" fill="#262626">b</text>
<text x="365.3" y="755.2" font-size="21.0" text-anchor="middle" textLength="116.7" lengthAdjust="spacingAndGlyphs" fill="#262626">SSI PostOp</text></svg>
</body></html>
